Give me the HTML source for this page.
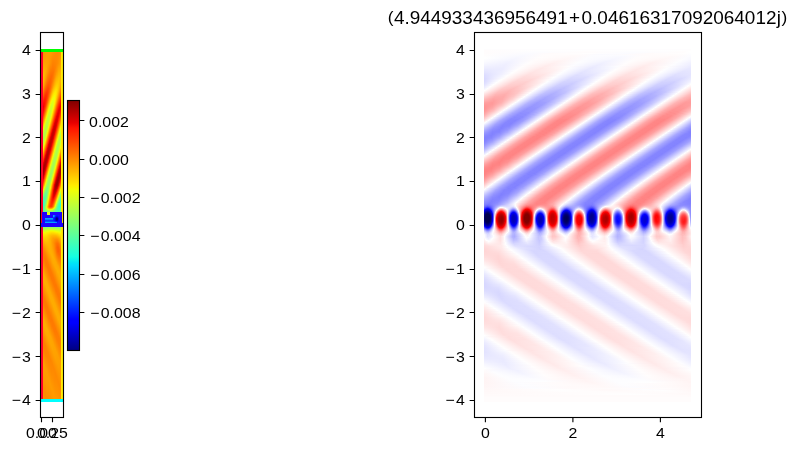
<!DOCTYPE html>
<html><head><meta charset="utf-8"><style>
html,body{margin:0;padding:0;background:#fff;}
#f{position:relative;width:797px;height:451px;overflow:hidden;background:#fff;}
#R i{position:absolute;display:block;left:484px;width:207px;height:1px;}
#L i{position:absolute;display:block;top:49px;width:1px;height:353px;}
svg{position:absolute;left:0;top:0;display:block;will-change:transform;-webkit-font-smoothing:antialiased;}
</style></head><body><div id="f">
<div id="R"><i style="top:49px;background:#fefdfe"></i><i style="top:50px;background:linear-gradient(90deg,#fffcfc 0.5px,#fefeff 57.5px,#fffefe 106.5px,#fefeff 155.5px,#fffefe 204.5px,#fffefe 206.5px)"></i><i style="top:51px;background:linear-gradient(90deg,#fffcfc 0.5px,#fdfdff 53.5px,#fffdfd 102.5px,#fdfdff 151.5px,#fffdfd 200.5px,#fff 206.5px)"></i><i style="top:52px;background:linear-gradient(90deg,#fffcfc 0.5px,#fcfcff 49.5px,#fffcfc 98.5px,#fcfcff 147.5px,#fffcfc 196.5px,#fff 206.5px)"></i><i style="top:53px;background:linear-gradient(90deg,#fffcfc 0.5px,#fbfbff 46.5px,#fffbfb 66.5px,#fffefe 103.5px,#fbfbff 143.5px,#fffbfb 164.5px,#fffefe 201.5px,#fefeff 206.5px)"></i><i style="top:54px;background:linear-gradient(90deg,#fffdfd 0.5px,#fafaff 42.5px,#fffcfc 62.5px,#fffcfc 96.5px,#fafaff 117.5px,#fffbfb 161.5px,#fffcfc 195.5px,#fdfdff 206.5px)"></i><i style="top:55px;background:linear-gradient(90deg,#fffdfd 0.5px,#f9f9ff 39.5px,#fffcfc 59.5px,#fffafa 92.5px,#fcfcff 109.5px,#fbfbff 142.5px,#fffbfb 159.5px,#fffbfb 192.5px,#fcfcff 206.5px)"></i><i style="top:56px;background:linear-gradient(90deg,#fffefe 0.5px,#f8f8ff 36.5px,#fffcfc 57.5px,#fff9f9 89.5px,#fcfcff 107.5px,#f9f9ff 138.5px,#fffcfc 156.5px,#fff9f9 187.5px,#fcfcff 204.5px,#fbfbff 206.5px)"></i><i style="top:57px;background:linear-gradient(90deg,#fff 0.5px,#f7f7ff 33.5px,#fffdfd 54.5px,#fff8f8 85.5px,#fcfcff 104.5px,#f8f8ff 135.5px,#fffcfc 153.5px,#fff8f8 184.5px,#fcfcff 202.5px,#fafaff 206.5px)"></i><i style="top:58px;background:linear-gradient(90deg,#fff 0.5px,#f6f6ff 31.5px,#fffcfc 53.5px,#fff7f7 83.5px,#fcfcff 102.5px,#f7f7ff 132.5px,#fffcfc 151.5px,#fff7f7 181.5px,#fcfcff 200.5px,#f9f9ff 206.5px)"></i><i style="top:59px;background:linear-gradient(90deg,#fdfdff 0.5px,#f5f5ff 29.5px,#fffcfc 51.5px,#fff6f6 80.5px,#fcfcff 100.5px,#f6f6ff 129.5px,#fffcfc 149.5px,#fff6f6 178.5px,#fdfdff 198.5px,#f8f8ff 206.5px)"></i><i style="top:60px;background:linear-gradient(90deg,#fcfcff 0.5px,#f4f4ff 27.5px,#fffcfc 49.5px,#fff4f4 76.5px,#fcfcff 98.5px,#f4f4ff 125.5px,#fffdfd 147.5px,#fff4f4 174.5px,#fdfdff 196.5px,#f6f6ff 206.5px)"></i><i style="top:61px;background:linear-gradient(90deg,#fbfbff 0.5px,#f2f2ff 25.5px,#fffcfc 47.5px,#fff2f2 73.5px,#fdfdff 96.5px,#f2f2ff 122.5px,#fffdfd 145.5px,#fff2f2 171.5px,#fdfdff 194.5px,#f4f4ff 206.5px)"></i><i style="top:62px;background:linear-gradient(90deg,#f9f9ff 0.5px,#f1f1ff 24.5px,#fffdfd 45.5px,#fff1f1 70.5px,#fdfdff 94.5px,#f1f1ff 119.5px,#fffdfd 143.5px,#fff0f0 168.5px,#fdfdff 192.5px,#f2f2ff 206.5px)"></i><i style="top:63px;background:linear-gradient(90deg,#f7f7ff 0.5px,#f0f0ff 23.5px,#fffdfd 43.5px,#ffefef 68.5px,#fdfdff 92.5px,#efefff 117.5px,#fffdfd 141.5px,#ffefef 166.5px,#fcfcff 191.5px,#f0f0ff 206.5px)"></i><i style="top:64px;background:linear-gradient(90deg,#f5f5ff 0.5px,#efefff 21.5px,#fffdfd 41.5px,#fee 65.5px,#fcfcff 91.5px,#eef 115.5px,#fffcfc 140.5px,#fee 164.5px,#fdfdff 189.5px,#efefff 206.5px)"></i><i style="top:65px;background:linear-gradient(90deg,#f3f3ff 0.5px,#eef 20.5px,#fffcfc 40.5px,#ffecec 63.5px,#fdfdff 89.5px,#ececff 112.5px,#fffdfd 138.5px,#ffecec 161.5px,#fdfdff 187.5px,#ededff 206.5px)"></i><i style="top:66px;background:linear-gradient(90deg,#f0f0ff 0.5px,#eef 20.5px,#fffdfd 38.5px,#ffebeb 61.5px,#fffdfd 84.5px,#ebebff 110.5px,#fdfdff 133.5px,#ffebeb 159.5px,#fffdfd 182.5px,#ebebff 206.5px)"></i><i style="top:67px;background:linear-gradient(90deg,#eef 0.5px,#ededff 19.5px,#fffdfd 36.5px,#ffeaea 58.5px,#fff8f8 79.5px,#fcfcff 86.5px,#e9e9ff 108.5px,#f9f9ff 129.5px,#fffcfc 135.5px,#ffe9e9 157.5px,#fff9f9 178.5px,#fdfdff 184.5px,#e9e9ff 206.5px)"></i><i style="top:68px;background:linear-gradient(90deg,#ececff 0.5px,#ececff 18.5px,#fffdfd 35.5px,#ffe8e8 57.5px,#fff7f7 77.5px,#fdfdff 84.5px,#e8e8ff 106.5px,#f7f7ff 126.5px,#fffdfd 133.5px,#ffe8e8 155.5px,#fff7f7 175.5px,#fdfdff 182.5px,#e8e8ff 204.5px,#e8e8ff 206.5px)"></i><i style="top:69px;background:linear-gradient(90deg,#e9e9ff 0.5px,#ececff 18.5px,#fffdfd 33.5px,#ffe7e7 54.5px,#fff3f3 73.5px,#fdfdff 82.5px,#e7e7ff 103.5px,#f3f3ff 122.5px,#fffefe 131.5px,#ffe7e7 152.5px,#fff3f3 171.5px,#fefeff 180.5px,#e7e7ff 202.5px,#e7e7ff 206.5px)"></i><i style="top:70px;background:linear-gradient(90deg,#e7e7ff 0.5px,#ececff 17.5px,#fffefe 31.5px,#ffe6e6 52.5px,#fff0f0 70.5px,#fefeff 80.5px,#e6e6ff 101.5px,#f0f0ff 119.5px,#fffdfd 130.5px,#ffe6e6 151.5px,#fff1f1 169.5px,#fdfdff 179.5px,#e6e6ff 200.5px,#e6e6ff 206.5px)"></i><i style="top:71px;background:linear-gradient(90deg,#e5e5ff 0.5px,#ededff 17.5px,#fffdfd 30.5px,#ffe5e5 50.5px,#fee 67.5px,#fdfdff 79.5px,#e4e4ff 100.5px,#f0f0ff 118.5px,#fffdfd 128.5px,#ffe4e4 149.5px,#fff0f0 167.5px,#fefeff 177.5px,#e4e4ff 198.5px,#e5e5ff 206.5px)"></i><i style="top:72px;background:linear-gradient(90deg,#e3e3ff 0.5px,#eef 17.5px,#fffefe 28.5px,#ffe3e3 48.5px,#ffecec 65.5px,#fefeff 77.5px,#e3e3ff 97.5px,#ececff 114.5px,#fffefe 126.5px,#ffe3e3 146.5px,#ffecec 163.5px,#fdfdff 176.5px,#e3e3ff 196.5px,#e5e5ff 206.5px)"></i><i style="top:73px;background:linear-gradient(90deg,#e0e0ff 0.5px,#efefff 17.5px,#fffdfd 27.5px,#ffe2e2 46.5px,#ffe9e9 62.5px,#fdfdff 76.5px,#e1e1ff 96.5px,#eaeaff 112.5px,#fffdfd 125.5px,#ffe1e1 145.5px,#ffe9e9 161.5px,#fdfdff 174.5px,#e1e1ff 194.5px,#e4e4ff 206.5px)"></i><i style="top:74px;background:linear-gradient(90deg,#dedeff 0.5px,#f0f0ff 17.5px,#fffdfd 25.5px,#ffe0e0 44.5px,#ffe5e5 59.5px,#fefeff 74.5px,#e0e0ff 93.5px,#e5e5ff 108.5px,#fffefe 123.5px,#ffe0e0 142.5px,#ffe5e5 157.5px,#fefeff 172.5px,#e0e0ff 191.5px,#e4e4ff 206.5px)"></i><i style="top:75px;background:linear-gradient(90deg,#dcdcff 0.5px,#f3f3ff 17.5px,#fffefe 23.5px,#ffdede 42.5px,#ffe3e3 57.5px,#fcfcff 73.5px,#ddf 92.5px,#e4e4ff 107.5px,#fffdfd 122.5px,#ffdede 141.5px,#ffe4e4 156.5px,#fdfdff 171.5px,#dedeff 190.5px,#e3e3ff 205.5px,#e5e5ff 206.5px)"></i><i style="top:76px;background:linear-gradient(90deg,#dbdbff 0.5px,#f5f5ff 17.5px,#fffdfd 22.5px,#ffdcdc 40.5px,#ffdfdf 54.5px,#fdfdff 71.5px,#ddf 89.5px,#dfdfff 103.5px,#fffefe 120.5px,#fdd 138.5px,#ffdfdf 152.5px,#fefeff 169.5px,#dcdcff 188.5px,#e0e0ff 202.5px,#e6e6ff 206.5px)"></i><i style="top:77px;background:linear-gradient(90deg,#dadaff 0.5px,#f8f8ff 17.5px,#fffcfc 21.5px,#ffdada 39.5px,#ffdede 53.5px,#fff 69.5px,#dbdbff 87.5px,#dcdcff 101.5px,#fff 118.5px,#ffdbdb 136.5px,#ffdcdc 150.5px,#fdfdff 168.5px,#dadaff 186.5px,#ddf 200.5px,#e7e7ff 206.5px)"></i><i style="top:78px;background:linear-gradient(90deg,#d9d9ff 0.5px,#fffdfd 19.5px,#ffd8d8 37.5px,#ffdada 50.5px,#fdfdff 68.5px,#d9d9ff 86.5px,#dadaff 99.5px,#fffefe 117.5px,#ffd9d9 135.5px,#ffdada 148.5px,#fefeff 166.5px,#d9d9ff 184.5px,#d9d9ff 197.5px,#e9e9ff 206.5px)"></i><i style="top:79px;background:linear-gradient(90deg,#d9d9ff 0.5px,#fffefe 17.5px,#ffd8d8 34.5px,#ffd6d6 47.5px,#fffafa 64.5px,#fcfcff 67.5px,#d7d7ff 84.5px,#d7d7ff 97.5px,#fff 115.5px,#ffd7d7 133.5px,#ffd7d7 146.5px,#fff 164.5px,#d7d7ff 182.5px,#d7d7ff 195.5px,#ebebff 206.5px)"></i><i style="top:80px;background:linear-gradient(90deg,#d9d9ff 0.5px,#fff 15.5px,#ffd6d6 33.5px,#ffd5d5 46.5px,#fffbfb 63.5px,#f7f7ff 67.5px,#d5d5ff 83.5px,#d6d6ff 96.5px,#fffdfd 114.5px,#ffd6d6 131.5px,#ffd5d5 144.5px,#fffafa 161.5px,#fbfbff 164.5px,#d5d5ff 181.5px,#d6d6ff 194.5px,#efefff 206.5px)"></i><i style="top:81px;background:linear-gradient(90deg,#dadaff 0.5px,#fffefe 14.5px,#ffd4d4 31.5px,#ffd1d1 43.5px,#fff1f1 58.5px,#fefeff 63.5px,#d4d4ff 80.5px,#d1d1ff 92.5px,#f0f0ff 107.5px,#fff 112.5px,#ffd5d5 129.5px,#ffd1d1 141.5px,#fff0f0 156.5px,#fff 161.5px,#d5d5ff 178.5px,#d1d1ff 190.5px,#efefff 205.5px,#f2f2ff 206.5px)"></i><i style="top:82px;background:linear-gradient(90deg,#dcdcff 0.5px,#fff 12.5px,#ffd3d3 29.5px,#ffcfcf 41.5px,#ffecec 55.5px,#fdfdff 62.5px,#d3d3ff 78.5px,#cfcfff 90.5px,#ebebff 104.5px,#fffdfd 111.5px,#ffd2d2 128.5px,#ffd0d0 140.5px,#fff1f1 155.5px,#fefeff 160.5px,#d2d2ff 177.5px,#cfcfff 189.5px,#f0f0ff 204.5px,#f6f6ff 206.5px)"></i><i style="top:83px;background:linear-gradient(90deg,#dedeff 0.5px,#fffefe 11.5px,#ffd2d2 27.5px,#ffcdcd 39.5px,#ffe9e9 53.5px,#fefeff 60.5px,#d2d2ff 76.5px,#ccf 88.5px,#e9e9ff 102.5px,#fff 109.5px,#ffd1d1 126.5px,#ffcdcd 138.5px,#ffebeb 152.5px,#fff 158.5px,#d1d1ff 175.5px,#cdcdff 187.5px,#ebebff 201.5px,#fbfbff 206.5px)"></i><i style="top:84px;background:linear-gradient(90deg,#e1e1ff 0.5px,#fff 9.5px,#ffcfcf 26.5px,#ffcbcb 38.5px,#ffeaea 52.5px,#fffefe 58.5px,#cfcfff 75.5px,#cbcbff 87.5px,#e6e6ff 100.5px,#fffdfd 108.5px,#ffd0d0 124.5px,#ffcbcb 136.5px,#ffe6e6 149.5px,#fdfdff 157.5px,#d0d0ff 173.5px,#cacaff 185.5px,#e5e5ff 198.5px,#fffefe 206.5px)"></i><i style="top:85px;background:linear-gradient(90deg,#e5e5ff 0.5px,#fffdfd 8.5px,#ffcece 24.5px,#ffc8c8 35.5px,#ffe1e1 48.5px,#fefeff 57.5px,#ceceff 73.5px,#c7c7ff 84.5px,#e1e1ff 97.5px,#fff 106.5px,#ffcfcf 122.5px,#ffc7c7 133.5px,#fdd 145.5px,#fff 155.5px,#cfcfff 171.5px,#c7c7ff 182.5px,#ddf 194.5px,#fefeff 204.5px,#fff9f9 206.5px)"></i><i style="top:86px;background:linear-gradient(90deg,#e9e9ff 0.5px,#fff 6.5px,#ffcdcd 22.5px,#ffc4c4 33.5px,#ffdbdb 45.5px,#fffefe 55.5px,#cdcdff 71.5px,#c4c4ff 82.5px,#dbdbff 94.5px,#fefeff 104.5px,#ffcbcb 121.5px,#ffc5c5 132.5px,#fdd 144.5px,#fdfdff 154.5px,#ccf 170.5px,#c5c5ff 181.5px,#ddf 193.5px,#fffefe 203.5px,#fff3f3 206.5px)"></i><i style="top:87px;background:linear-gradient(90deg,#ededff 0.5px,#fffdfd 5.5px,#ffcbcb 20.5px,#ffc1c1 31.5px,#ffd8d8 43.5px,#fefeff 54.5px,#cbcbff 69.5px,#c1c1ff 80.5px,#d7d7ff 92.5px,#fffefe 103.5px,#fcc 118.5px,#ffc1c1 129.5px,#ffd7d7 141.5px,#fff 152.5px,#cacaff 168.5px,#c2c2ff 179.5px,#d9d9ff 191.5px,#fefeff 201.5px,#ffecec 206.5px)"></i><i style="top:88px;background:linear-gradient(90deg,#f2f2ff 0.5px,#fff 3.5px,#ffcaca 18.5px,#ffbebe 29.5px,#ffd1d1 40.5px,#fffefe 52.5px,#c8c8ff 68.5px,#bfbfff 79.5px,#d4d4ff 90.5px,#fefeff 101.5px,#ffc8c8 117.5px,#ffbebe 128.5px,#ffd3d3 139.5px,#fdfdff 151.5px,#c9c9ff 166.5px,#bebeff 177.5px,#d3d3ff 188.5px,#fffefe 200.5px,#ffe5e5 206.5px)"></i><i style="top:89px;background:linear-gradient(90deg,#f8f8ff 0.5px,#fffdfd 2.5px,#ffc6c6 17.5px,#fbb 27.5px,#ffcece 38.5px,#fefeff 51.5px,#c7c7ff 66.5px,#bbf 76.5px,#cdcdff 87.5px,#fffefe 100.5px,#ffc7c7 115.5px,#fbb 125.5px,#ffcdcd 136.5px,#fff 149.5px,#c7c7ff 164.5px,#bbf 175.5px,#cfcfff 186.5px,#fefeff 198.5px,#ffdede 206.5px)"></i><i style="top:90px;background:linear-gradient(90deg,#fff 0.5px,#ffc5c5 15.5px,#ffb8b8 25.5px,#ffc7c7 35.5px,#fffefe 49.5px,#c5c5ff 64.5px,#b8b8ff 74.5px,#c7c7ff 84.5px,#fefeff 98.5px,#ffc3c3 114.5px,#ffb8b8 124.5px,#fcc 135.5px,#fdfdff 148.5px,#c4c4ff 163.5px,#b8b8ff 173.5px,#ccf 184.5px,#fffdfd 197.5px,#ffd7d7 206.5px)"></i><i style="top:91px;background:linear-gradient(90deg,#fff8f8 0.5px,#ffc1c1 14.5px,#ffb5b5 24.5px,#ffc6c6 34.5px,#fdfdff 48.5px,#c4c4ff 62.5px,#b5b5ff 72.5px,#c3c3ff 82.5px,#fffefe 97.5px,#ffc2c2 112.5px,#ffb5b5 122.5px,#ffc5c5 132.5px,#fff 146.5px,#c3c3ff 161.5px,#b5b5ff 171.5px,#c5c5ff 181.5px,#fefeff 195.5px,#ffd0d0 206.5px)"></i><i style="top:92px;background:linear-gradient(90deg,#fff0f0 0.5px,#ffbdbd 13.5px,#ffb3b3 23.5px,#ffc6c6 33.5px,#fffefe 46.5px,#c1c1ff 61.5px,#b2b2ff 71.5px,#c2c2ff 81.5px,#fefeff 95.5px,#ffc1c1 110.5px,#ffb2b2 120.5px,#ffc2c2 130.5px,#fffdfd 144.5px,#bfbfff 160.5px,#b2b2ff 170.5px,#c4c4ff 180.5px,#fffdfd 194.5px,#ffc8c8 206.5px)"></i><i style="top:93px;background:linear-gradient(90deg,#ffe8e8 0.5px,#ffbaba 12.5px,#ffb0b0 22.5px,#ffc5c5 32.5px,#fdfdff 45.5px,#c0c0ff 59.5px,#afafff 69.5px,#bebeff 79.5px,#fffefe 94.5px,#ffc0c0 108.5px,#ffafaf 118.5px,#ffbebe 128.5px,#fffafa 142.5px,#fff 143.5px,#c1c1ff 157.5px,#afafff 167.5px,#bebeff 177.5px,#f9f9ff 191.5px,#fefeff 192.5px,#ffc1c1 206.5px)"></i><i style="top:94px;background:linear-gradient(90deg,#ffe0e0 0.5px,#ffb6b6 11.5px,#ffadad 20.5px,#ffc2c2 30.5px,#fffefe 43.5px,#bfbfff 57.5px,#adadff 67.5px,#b8b8ff 76.5px,#e9e9ff 88.5px,#fefeff 92.5px,#ffbcbc 107.5px,#ffadad 117.5px,#ffbdbd 127.5px,#fffdfd 141.5px,#bdbdff 156.5px,#adadff 166.5px,#bdbdff 176.5px,#fffdfd 191.5px,#ffbdbd 205.5px,#ffbaba 206.5px)"></i><i style="top:95px;background:linear-gradient(90deg,#ffd8d8 0.5px,#ffb1b1 11.5px,#ffacac 20.5px,#ffc6c6 30.5px,#fdfdff 42.5px,#bcbcff 56.5px,#ababff 65.5px,#b5b5ff 74.5px,#e6e6ff 86.5px,#fffefe 91.5px,#ffbcbc 105.5px,#ffabab 114.5px,#ffb4b4 123.5px,#ffe5e5 135.5px,#fff 140.5px,#bdbdff 154.5px,#ababff 163.5px,#b4b4ff 172.5px,#dfdfff 183.5px,#fff 189.5px,#ffbdbd 203.5px,#ffb4b4 206.5px)"></i><i style="top:96px;background:linear-gradient(90deg,#ffcfcf 0.5px,#ffadad 10.5px,#faa 19.5px,#ffc6c6 29.5px,#fffefe 40.5px,#bbf 54.5px,#a8a8ff 63.5px,#b1b1ff 72.5px,#ddf 83.5px,#fefeff 89.5px,#ffb9b9 104.5px,#ffa8a8 113.5px,#ffb4b4 122.5px,#ffe7e7 134.5px,#fffdfd 138.5px,#b9b9ff 153.5px,#a8a8ff 162.5px,#b3b3ff 171.5px,#e6e6ff 183.5px,#fffdfd 188.5px,#ffbaba 202.5px,#ffafaf 206.5px)"></i><i style="top:97px;background:linear-gradient(90deg,#ffc7c7 0.5px,#ffa9a9 10.5px,#faa 19.5px,#fcc 29.5px,#fdfdff 39.5px,#bbf 52.5px,#a6a6ff 61.5px,#aeaeff 70.5px,#dadaff 81.5px,#fffefe 88.5px,#ffbcbc 101.5px,#ffa7a7 110.5px,#ffaeae 119.5px,#ffd9d9 130.5px,#fefeff 137.5px,#b9b9ff 151.5px,#a6a6ff 160.5px,#b0b0ff 169.5px,#ddf 180.5px,#fff 186.5px,#ffb9b9 200.5px,#faa 206.5px)"></i><i style="top:98px;background:linear-gradient(90deg,#ffbfbf 0.5px,#ffa6a6 9.5px,#ffa9a9 18.5px,#ffcdcd 28.5px,#fff 37.5px,#b8b8ff 51.5px,#a4a4ff 60.5px,#adadff 69.5px,#dbdbff 80.5px,#fefeff 86.5px,#ffb8b8 100.5px,#ffa4a4 109.5px,#ffadad 118.5px,#ffdbdb 129.5px,#fffdfd 135.5px,#b5b5ff 150.5px,#a3a3ff 159.5px,#afafff 168.5px,#dfdfff 179.5px,#fcfcff 184.5px,#fff6f6 186.5px,#ffb6b6 199.5px,#ffa5a5 206.5px)"></i><i style="top:99px;background:linear-gradient(90deg,#ffb7b7 0.5px,#ffa2a2 9.5px,#faa 18.5px,#ffd3d3 28.5px,#fffcfc 35.5px,#f6f6ff 37.5px,#b4b4ff 50.5px,#a1a1ff 59.5px,#adadff 68.5px,#ddf 79.5px,#fffdfd 85.5px,#ffb8b8 98.5px,#ffa2a2 107.5px,#ffa9a9 116.5px,#ffd2d2 126.5px,#fefeff 134.5px,#b9b9ff 147.5px,#a2a2ff 156.5px,#a9a9ff 165.5px,#d1d1ff 175.5px,#fff 183.5px,#ffbaba 196.5px,#ffa2a2 205.5px,#ffa1a1 206.5px)"></i><i style="top:100px;background:linear-gradient(90deg,#ffb0b0 0.5px,#ff9f9f 9.5px,#ffadad 18.5px,#ffe0e0 29.5px,#fff 34.5px,#b8b8ff 47.5px,#a0a0ff 56.5px,#a7a7ff 65.5px,#cfcfff 75.5px,#fefeff 83.5px,#ffb5b5 97.5px,#ff9f9f 106.5px,#ffa9a9 115.5px,#ffd3d3 125.5px,#fffdfd 132.5px,#b5b5ff 146.5px,#9f9fff 155.5px,#a8a8ff 164.5px,#d2d2ff 174.5px,#fcfcff 181.5px,#fff6f6 183.5px,#ffb6b6 195.5px,#ffa0a0 204.5px,#ff9f9f 206.5px)"></i><i style="top:101px;background:linear-gradient(90deg,#ffa9a9 0.5px,#ff9d9d 9.5px,#ffb0b0 18.5px,#ffefef 30.5px,#fcfcff 33.5px,#b4b4ff 46.5px,#9d9dff 55.5px,#a6a6ff 64.5px,#d0d0ff 74.5px,#fffdfd 82.5px,#ffb5b5 95.5px,#ff9d9d 104.5px,#ffa5a5 113.5px,#ffd0d0 123.5px,#fefeff 131.5px,#b5b5ff 144.5px,#9d9dff 153.5px,#a5a5ff 162.5px,#cfcfff 172.5px,#fff 180.5px,#ffb6b6 193.5px,#ff9e9e 202.5px,#ff9d9d 206.5px)"></i><i style="top:102px;background:linear-gradient(90deg,#ffa2a2 0.5px,#ff9a9a 8.5px,#ffb0b0 17.5px,#fff2f2 29.5px,#fff 31.5px,#b4b4ff 44.5px,#9b9bff 53.5px,#a0a0ff 61.5px,#c2c2ff 70.5px,#fefeff 80.5px,#ffb1b1 94.5px,#ff9b9b 103.5px,#ffa2a2 111.5px,#fcc 121.5px,#fffdfd 129.5px,#b2b2ff 143.5px,#9b9bff 152.5px,#a2a2ff 160.5px,#cbcbff 170.5px,#fcfcff 178.5px,#fff5f5 180.5px,#ffb2b2 192.5px,#ff9b9b 201.5px,#ff9c9c 206.5px)"></i><i style="top:103px;background:linear-gradient(90deg,#ff9d9d 0.5px,#ff9a9a 8.5px,#ffb5b5 17.5px,#fffcfc 29.5px,#f5f5ff 31.5px,#b1b1ff 43.5px,#99f 52.5px,#a0a0ff 60.5px,#c9c9ff 70.5px,#fffdfd 79.5px,#ffb2b2 92.5px,#f99 101.5px,#ff9f9f 109.5px,#ffc3c3 118.5px,#fefeff 128.5px,#b2b2ff 141.5px,#99f 150.5px,#9f9fff 158.5px,#c2c2ff 167.5px,#fff 177.5px,#ffb3b3 190.5px,#ff9a9a 199.5px,#ff9c9c 206.5px)"></i><i style="top:104px;background:linear-gradient(90deg,#f99 0.5px,#ff9b9b 8.5px,#ffbcbc 17.5px,#fff 28.5px,#b2b2ff 41.5px,#9898ff 50.5px,#9d9dff 58.5px,#c0c0ff 67.5px,#fefeff 77.5px,#ffb3b3 90.5px,#f99 99.5px,#ff9d9d 107.5px,#ffbfbf 116.5px,#fffdfd 126.5px,#afafff 140.5px,#9898ff 149.5px,#9f9fff 157.5px,#c9c9ff 167.5px,#fcfcff 175.5px,#fff5f5 177.5px,#ffb0b0 189.5px,#ff9898 198.5px,#ff9e9e 206.5px)"></i><i style="top:105px;background:linear-gradient(90deg,#ff9696 0.5px,#ff9e9e 8.5px,#ffc3c3 17.5px,#fffcfc 26.5px,#f5f5ff 28.5px,#afafff 40.5px,#9797ff 49.5px,#9d9dff 57.5px,#c2c2ff 66.5px,#fbfbff 75.5px,#fffdfd 76.5px,#ffb0b0 89.5px,#ff9797 98.5px,#ff9d9d 106.5px,#ffc1c1 115.5px,#fefeff 125.5px,#b0b0ff 138.5px,#9797ff 147.5px,#9c9cff 155.5px,#c0c0ff 164.5px,#fff 174.5px,#ffb1b1 187.5px,#ff9797 196.5px,#ff9c9c 204.5px,#ffa1a1 206.5px)"></i><i style="top:106px;background:linear-gradient(90deg,#ff9494 0.5px,#ffa1a1 8.5px,#ffd1d1 18.5px,#fff 25.5px,#b0b0ff 38.5px,#9696ff 47.5px,#9b9bff 55.5px,#bfbfff 64.5px,#fefeff 74.5px,#ffb1b1 87.5px,#ff9696 96.5px,#ff9a9a 104.5px,#ffbebe 113.5px,#fffdfd 123.5px,#adadff 137.5px,#9595ff 146.5px,#9c9cff 154.5px,#c2c2ff 163.5px,#fcfcff 172.5px,#fee 175.5px,#ffaeae 186.5px,#ff9595 195.5px,#ff9c9c 203.5px,#ffa5a5 206.5px)"></i><i style="top:107px;background:linear-gradient(90deg,#ff9393 0.5px,#ffa5a5 8.5px,#ffe1e1 19.5px,#fffcfc 23.5px,#f4f4ff 25.5px,#adadff 37.5px,#9595ff 45.5px,#9898ff 53.5px,#bbf 62.5px,#fbfbff 72.5px,#fffcfc 73.5px,#ffadad 86.5px,#ff9595 94.5px,#ff9898 102.5px,#ffbaba 111.5px,#fdfdff 122.5px,#aeaeff 135.5px,#9494ff 144.5px,#9a9aff 152.5px,#bfbfff 161.5px,#fffefe 171.5px,#ffafaf 184.5px,#ff9494 193.5px,#ff9a9a 201.5px,#faa 206.5px)"></i><i style="top:108px;background:linear-gradient(90deg,#ff9393 0.5px,#faa 8.5px,#fff1f1 20.5px,#fff 22.5px,#aeaeff 35.5px,#9494ff 43.5px,#9696ff 51.5px,#b8b8ff 60.5px,#fefeff 71.5px,#ffafaf 84.5px,#ff9393 93.5px,#ff9898 101.5px,#ffbcbc 110.5px,#fffdfd 120.5px,#ababff 134.5px,#9393ff 142.5px,#9898ff 150.5px,#bcbcff 159.5px,#fcfcff 169.5px,#ffeded 172.5px,#ffacac 183.5px,#ff9494 191.5px,#ff9797 199.5px,#ffb0b0 206.5px)"></i><i style="top:109px;background:linear-gradient(90deg,#ff9494 0.5px,#ffb5b5 9.5px,#fffcfc 20.5px,#f4f4ff 22.5px,#ababff 34.5px,#9292ff 42.5px,#9696ff 50.5px,#babaff 59.5px,#fbfbff 69.5px,#fffcfc 70.5px,#ffb0b0 82.5px,#ff9393 91.5px,#ff9696 99.5px,#ffb9b9 108.5px,#fdfdff 119.5px,#b1b1ff 131.5px,#9393ff 140.5px,#9595ff 148.5px,#b8b8ff 157.5px,#fffefe 168.5px,#ffadad 181.5px,#ff9393 189.5px,#ff9595 197.5px,#ffb7b7 206.5px)"></i><i style="top:110px;background:linear-gradient(90deg,#ff9696 0.5px,#ffbdbd 9.5px,#fefeff 19.5px,#acacff 32.5px,#9292ff 40.5px,#9494ff 48.5px,#b6b6ff 57.5px,#fefeff 68.5px,#ffadad 81.5px,#ff9292 89.5px,#ff9393 97.5px,#ffb5b5 106.5px,#fffdfd 117.5px,#adadff 130.5px,#9292ff 138.5px,#9393ff 146.5px,#b5b5ff 155.5px,#fcfcff 166.5px,#ffecec 169.5px,#ffa9a9 180.5px,#ff9191 188.5px,#ff9595 196.5px,#ffb9b9 205.5px,#ffbfbf 206.5px)"></i><i style="top:111px;background:linear-gradient(90deg,#f99 0.5px,#ffc5c5 9.5px,#fffcfc 17.5px,#ececff 20.5px,#a9a9ff 31.5px,#9090ff 39.5px,#9494ff 47.5px,#b8b8ff 56.5px,#fbfbff 66.5px,#fffcfc 67.5px,#ffaeae 79.5px,#ff9292 87.5px,#ff9191 95.5px,#ffb2b2 104.5px,#fdfdff 116.5px,#afafff 128.5px,#9292ff 136.5px,#9191ff 144.5px,#acacff 152.5px,#fffefe 165.5px,#ffb0b0 177.5px,#ff9292 185.5px,#ff9191 193.5px,#ffabab 201.5px,#ffc7c7 206.5px)"></i><i style="top:112px;background:linear-gradient(90deg,#ff9e9e 0.5px,#ffd5d5 10.5px,#fefeff 16.5px,#afafff 28.5px,#9191ff 36.5px,#8f8fff 44.5px,#aaf 52.5px,#f7f7ff 64.5px,#fff 65.5px,#ffabab 78.5px,#ff9090 86.5px,#ff9191 94.5px,#ffb4b4 103.5px,#fffdfd 114.5px,#ababff 127.5px,#9090ff 135.5px,#9191ff 143.5px,#b3b3ff 152.5px,#fcfcff 163.5px,#ffe5e5 167.5px,#ffa3a3 178.5px,#ff8d8d 186.5px,#ff9595 194.5px,#ffbebe 203.5px,#ffd1d1 206.5px)"></i><i style="top:113px;background:linear-gradient(90deg,#ffa3a3 0.5px,#ffe6e6 11.5px,#fffcfc 14.5px,#ececff 17.5px,#a6a6ff 28.5px,#8d8dff 36.5px,#9191ff 44.5px,#b7b7ff 53.5px,#fbfbff 63.5px,#fff4f4 65.5px,#ffa7a7 77.5px,#ff8d8d 85.5px,#ff9191 93.5px,#ffb6b6 102.5px,#fdfdff 113.5px,#adadff 125.5px,#8f8fff 133.5px,#8e8eff 141.5px,#aaf 149.5px,#fffefe 162.5px,#ffaeae 174.5px,#ff9090 182.5px,#ff8e8e 190.5px,#ffa9a9 198.5px,#ffdbdb 206.5px)"></i><i style="top:114px;background:linear-gradient(90deg,#ffa9a9 0.5px,#fefeff 13.5px,#adadff 25.5px,#8f8fff 33.5px,#8d8dff 41.5px,#a8a8ff 49.5px,#f7f7ff 61.5px,#fff 62.5px,#ffa9a9 75.5px,#ff8d8d 83.5px,#ff8e8e 91.5px,#ffadad 99.5px,#fffefe 111.5px,#a9a9ff 124.5px,#8d8dff 132.5px,#8e8eff 140.5px,#acacff 148.5px,#fcfcff 160.5px,#fdd 165.5px,#ffa1a1 175.5px,#ff8b8b 183.5px,#ff9393 191.5px,#ffbcbc 200.5px,#ffe5e5 206.5px)"></i><i style="top:115px;background:linear-gradient(90deg,#ffb0b0 0.5px,#fffcfc 11.5px,#e4e4ff 15.5px,#a4a4ff 25.5px,#8b8bff 33.5px,#8f8fff 41.5px,#b5b5ff 50.5px,#fbfbff 60.5px,#fff4f4 62.5px,#faa 73.5px,#ff8d8d 81.5px,#ff8c8c 89.5px,#ffa9a9 97.5px,#fdfdff 110.5px,#ababff 122.5px,#8d8dff 130.5px,#8c8cff 138.5px,#a8a8ff 146.5px,#fffefe 159.5px,#ffacac 171.5px,#ff8d8d 179.5px,#ff8c8c 187.5px,#ffa8a8 195.5px,#fff0f0 206.5px)"></i><i style="top:116px;background:linear-gradient(90deg,#ffb8b8 0.5px,#fefeff 10.5px,#ababff 22.5px,#8c8cff 30.5px,#8a8aff 38.5px,#a7a7ff 46.5px,#f7f7ff 58.5px,#fff 59.5px,#ffacac 71.5px,#ff8c8c 79.5px,#ff8a8a 87.5px,#ffa6a6 95.5px,#fff6f6 107.5px,#fffefe 108.5px,#a7a7ff 121.5px,#8b8bff 129.5px,#8c8cff 137.5px,#aaf 145.5px,#fdfdff 157.5px,#ffa8a8 170.5px,#ff8b8b 178.5px,#ff8b8b 186.5px,#ffa9a9 194.5px,#fffbfb 206.5px)"></i><i style="top:117px;background:linear-gradient(90deg,#ffc2c2 0.5px,#fffcfc 8.5px,#e3e3ff 12.5px,#a2a2ff 22.5px,#88f 30.5px,#8c8cff 38.5px,#aeaeff 46.5px,#fbfbff 57.5px,#fff3f3 59.5px,#ffa8a8 70.5px,#ff8a8a 78.5px,#ff8a8a 86.5px,#ffa7a7 94.5px,#fffafa 106.5px,#fcfcff 107.5px,#a9a9ff 119.5px,#8a8aff 127.5px,#8989ff 135.5px,#a7a7ff 143.5px,#fffdfd 156.5px,#faa 168.5px,#ff8b8b 176.5px,#ff8989 184.5px,#ffa6a6 192.5px,#fff8f8 204.5px,#fff 205.5px,#f7f7ff 206.5px)"></i><i style="top:118px;background:linear-gradient(90deg,#ffcbcb 0.5px,#fefeff 7.5px,#a9a9ff 19.5px,#8989ff 27.5px,#88f 35.5px,#a5a5ff 43.5px,#f7f7ff 55.5px,#fff 56.5px,#faa 68.5px,#ff8a8a 76.5px,#f88 84.5px,#ffa4a4 92.5px,#fff6f6 104.5px,#fffefe 105.5px,#a5a5ff 118.5px,#88f 126.5px,#8989ff 134.5px,#a8a8ff 142.5px,#fdfdff 154.5px,#ffa6a6 167.5px,#f88 175.5px,#ff8989 183.5px,#ffa8a8 191.5px,#fffbfb 203.5px,#f3f3ff 205.5px,#ebebff 206.5px)"></i><i style="top:119px;background:linear-gradient(90deg,#ffd6d6 0.5px,#fffdfd 5.5px,#a5a5ff 18.5px,#8787ff 26.5px,#8686ff 33.5px,#a1a1ff 41.5px,#ececff 52.5px,#fbfbff 54.5px,#fff3f3 56.5px,#ffa6a6 67.5px,#ff8787 75.5px,#ff8585 82.5px,#ffa0a0 90.5px,#ffeaea 101.5px,#fcfcff 104.5px,#a7a7ff 116.5px,#88f 124.5px,#8585ff 131.5px,#a0a0ff 139.5px,#e9e9ff 150.5px,#fffdfd 153.5px,#ffa8a8 165.5px,#f88 173.5px,#ff8585 180.5px,#ff9f9f 188.5px,#ffe8e8 199.5px,#fff 202.5px,#dfdfff 206.5px)"></i><i style="top:120px;background:linear-gradient(90deg,#ffe1e1 0.5px,#fdfdff 4.5px,#a7a7ff 16.5px,#8787ff 24.5px,#8484ff 31.5px,#9e9eff 39.5px,#e8e8ff 50.5px,#fff 53.5px,#ffa8a8 65.5px,#ff8787 73.5px,#ff8484 80.5px,#ff9d9d 88.5px,#ffdfdf 98.5px,#fffefe 102.5px,#a3a3ff 115.5px,#8686ff 123.5px,#8585ff 130.5px,#a1a1ff 138.5px,#ededff 149.5px,#fdfdff 151.5px,#ffa4a4 164.5px,#ff8686 172.5px,#ff8585 179.5px,#ffa0a0 187.5px,#ffecec 198.5px,#fffcfc 200.5px,#f2f2ff 202.5px,#d3d3ff 206.5px)"></i><i style="top:121px;background:linear-gradient(90deg,#ffeded 0.5px,#fffdfd 2.5px,#a4a4ff 15.5px,#8686ff 23.5px,#8585ff 30.5px,#a0a0ff 38.5px,#ececff 49.5px,#fbfbff 51.5px,#fff3f3 53.5px,#ffa5a5 64.5px,#ff8686 72.5px,#ff8484 79.5px,#ffa0a0 87.5px,#ffeaea 98.5px,#fffafa 100.5px,#fcfcff 101.5px,#a6a6ff 113.5px,#8686ff 121.5px,#8484ff 128.5px,#9f9fff 136.5px,#e9e9ff 147.5px,#fffdfd 150.5px,#ffa7a7 162.5px,#ff8787 170.5px,#ff8484 177.5px,#ff9e9e 185.5px,#ffe8e8 196.5px,#fefeff 199.5px,#c8c8ff 206.5px)"></i><i style="top:122px;background:linear-gradient(90deg,#fff9f9 0.5px,#fdfdff 1.5px,#a7a7ff 13.5px,#8787ff 21.5px,#8484ff 28.5px,#9e9eff 36.5px,#e8e8ff 47.5px,#fffefe 50.5px,#ffa8a8 62.5px,#ff8787 70.5px,#ff8484 77.5px,#ff9d9d 85.5px,#ffdfdf 95.5px,#fffefe 99.5px,#a9a9ff 111.5px,#88f 119.5px,#8383ff 126.5px,#9c9cff 134.5px,#ddf 144.5px,#fdfdff 148.5px,#ffa4a4 161.5px,#ff8686 169.5px,#ff8585 176.5px,#ffa1a1 184.5px,#ffecec 195.5px,#fffcfc 197.5px,#f2f2ff 199.5px,#bebeff 206.5px)"></i><i style="top:123px;background:linear-gradient(90deg,#f9f9ff 0.5px,#a4a4ff 12.5px,#8686ff 20.5px,#8484ff 27.5px,#a0a0ff 35.5px,#ececff 46.5px,#fcfcff 48.5px,#fff2f2 50.5px,#ffa5a5 61.5px,#ff8686 69.5px,#ff8484 76.5px,#ffa0a0 84.5px,#ffeaea 95.5px,#fffafa 97.5px,#fcfcff 98.5px,#a6a6ff 110.5px,#8686ff 118.5px,#8484ff 125.5px,#9f9fff 133.5px,#e9e9ff 144.5px,#fffdfd 147.5px,#ffa7a7 159.5px,#ff8787 167.5px,#ff8484 174.5px,#ff9e9e 182.5px,#ffe8e8 193.5px,#fefeff 196.5px,#b4b4ff 206.5px)"></i><i style="top:124px;background:linear-gradient(90deg,#ededff 0.5px,#a1a1ff 11.5px,#8585ff 19.5px,#8585ff 26.5px,#a3a3ff 34.5px,#f8f8ff 46.5px,#fffefe 47.5px,#ffa8a8 59.5px,#ff8787 67.5px,#ff8484 74.5px,#ff9d9d 82.5px,#ffdfdf 92.5px,#fffefe 96.5px,#a9a9ff 108.5px,#8787ff 116.5px,#8383ff 123.5px,#9c9cff 131.5px,#dedeff 141.5px,#fdfdff 145.5px,#ffa4a4 158.5px,#ff8686 166.5px,#ff8585 173.5px,#ffa1a1 181.5px,#ffecec 192.5px,#fffcfc 194.5px,#f2f2ff 196.5px,#aaf 206.5px)"></i><i style="top:125px;background:linear-gradient(90deg,#e1e1ff 0.5px,#9f9fff 10.5px,#8484ff 18.5px,#8686ff 25.5px,#a6a6ff 33.5px,#fcfcff 45.5px,#fff2f2 47.5px,#ffa5a5 58.5px,#ff8686 66.5px,#ff8484 73.5px,#ffa0a0 81.5px,#ffebeb 92.5px,#fffbfb 94.5px,#fbfbff 95.5px,#a6a6ff 107.5px,#8686ff 115.5px,#8484ff 122.5px,#9f9fff 130.5px,#e9e9ff 141.5px,#fffdfd 144.5px,#ffa7a7 156.5px,#ff8787 164.5px,#ff8484 171.5px,#ff9e9e 179.5px,#ffe8e8 190.5px,#fefeff 193.5px,#a7a7ff 205.5px,#a2a2ff 206.5px)"></i><i style="top:126px;background:linear-gradient(90deg,#d6d6ff 0.5px,#9797ff 10.5px,#8282ff 18.5px,#8a8aff 25.5px,#afafff 33.5px,#fffefe 44.5px,#ffa8a8 56.5px,#ff8787 64.5px,#ff8484 71.5px,#ff9d9d 79.5px,#ffdfdf 89.5px,#fff 93.5px,#a8a8ff 105.5px,#8787ff 113.5px,#8383ff 120.5px,#9c9cff 128.5px,#dedeff 138.5px,#fdfdff 142.5px,#ffa4a4 155.5px,#ff8686 163.5px,#ff8585 170.5px,#ffa1a1 178.5px,#ffecec 189.5px,#fffcfc 191.5px,#eaeaff 194.5px,#9f9fff 205.5px,#9a9aff 206.5px)"></i><i style="top:127px;background:linear-gradient(90deg,#cacaff 0.5px,#9595ff 9.5px,#8282ff 17.5px,#8f8fff 25.5px,#bfbfff 34.5px,#fcfcff 42.5px,#fff2f2 44.5px,#ffa5a5 55.5px,#ff8686 63.5px,#ff8484 70.5px,#ffa0a0 78.5px,#ffebeb 89.5px,#fffbfb 91.5px,#fbfbff 92.5px,#a6a6ff 104.5px,#8686ff 112.5px,#8484ff 119.5px,#9f9fff 127.5px,#eaeaff 138.5px,#fffdfd 141.5px,#ffa6a6 153.5px,#ff8787 161.5px,#ff8484 168.5px,#ff9e9e 176.5px,#ffe8e8 187.5px,#fefeff 190.5px,#a7a7ff 202.5px,#9494ff 206.5px)"></i><i style="top:128px;background:linear-gradient(90deg,#c0c0ff 0.5px,#8f8fff 9.5px,#8282ff 17.5px,#9595ff 25.5px,#cacaff 34.5px,#fffefe 41.5px,#ffa7a7 53.5px,#ff8787 61.5px,#ff8383 68.5px,#ff9d9d 76.5px,#ffdfdf 86.5px,#fff 90.5px,#a8a8ff 102.5px,#8787ff 110.5px,#8383ff 117.5px,#9c9cff 125.5px,#dedeff 135.5px,#fdfdff 139.5px,#ffa4a4 152.5px,#ff8585 160.5px,#ff8484 167.5px,#ffa1a1 175.5px,#ffecec 186.5px,#fffcfc 188.5px,#eaeaff 191.5px,#9f9fff 202.5px,#8e8eff 206.5px)"></i><i style="top:129px;background:linear-gradient(90deg,#b6b6ff 0.5px,#8d8dff 8.5px,#8282ff 15.5px,#9393ff 23.5px,#c6c6ff 32.5px,#fcfcff 39.5px,#ffeaea 42.5px,#ff9f9f 53.5px,#ff8484 61.5px,#ff8686 68.5px,#ffa5a5 76.5px,#fffbfb 88.5px,#fbfbff 89.5px,#a5a5ff 101.5px,#8686ff 109.5px,#8484ff 116.5px,#9f9fff 124.5px,#eaeaff 135.5px,#fffcfc 138.5px,#ffa6a6 150.5px,#ff8686 158.5px,#ff8484 165.5px,#ff9e9e 173.5px,#ffe8e8 184.5px,#fefeff 187.5px,#a7a7ff 199.5px,#8989ff 206.5px)"></i><i style="top:130px;background:linear-gradient(90deg,#acacff 0.5px,#8989ff 8.5px,#8383ff 15.5px,#99f 23.5px,#d9d9ff 33.5px,#fffefe 38.5px,#ffa7a7 50.5px,#ff8787 58.5px,#ff8383 65.5px,#ff9d9d 73.5px,#ffe7e7 84.5px,#fff 87.5px,#a8a8ff 99.5px,#8787ff 107.5px,#8383ff 114.5px,#9c9cff 122.5px,#dedeff 132.5px,#fefeff 136.5px,#ffa3a3 149.5px,#ff8585 157.5px,#ff8484 164.5px,#ffa1a1 172.5px,#ffecec 183.5px,#fffcfc 185.5px,#e2e2ff 189.5px,#9f9fff 199.5px,#8686ff 206.5px)"></i><i style="top:131px;background:linear-gradient(90deg,#a4a4ff 0.5px,#8585ff 8.5px,#8484ff 15.5px,#a1a1ff 23.5px,#ececff 34.5px,#fcfcff 36.5px,#ffeaea 39.5px,#ff9f9f 50.5px,#ff8484 58.5px,#ff8686 65.5px,#ffa5a5 73.5px,#fffbfb 85.5px,#fbfbff 86.5px,#a5a5ff 98.5px,#8686ff 106.5px,#8484ff 113.5px,#9f9fff 121.5px,#eaeaff 132.5px,#fffcfc 135.5px,#ffa6a6 147.5px,#ff8686 155.5px,#ff8484 162.5px,#ff9e9e 170.5px,#ffe9e9 181.5px,#fefeff 184.5px,#a7a7ff 196.5px,#8787ff 204.5px,#8383ff 206.5px)"></i><i style="top:132px;background:linear-gradient(90deg,#9c9cff 0.5px,#8383ff 8.5px,#8787ff 15.5px,#a9a9ff 23.5px,#fffefe 35.5px,#ffa7a7 47.5px,#ff8787 55.5px,#ff8383 62.5px,#ff9d9d 70.5px,#ffe7e7 81.5px,#fff 84.5px,#a8a8ff 96.5px,#8787ff 104.5px,#8383ff 111.5px,#9d9dff 119.5px,#dedeff 129.5px,#fefeff 133.5px,#ffa3a3 146.5px,#ff8585 154.5px,#ff8484 161.5px,#ffa1a1 169.5px,#ffeded 180.5px,#fffdfd 182.5px,#d2d2ff 188.5px,#9a9aff 197.5px,#8383ff 205.5px,#8282ff 206.5px)"></i><i style="top:133px;background:linear-gradient(90deg,#9595ff 0.5px,#8282ff 8.5px,#8f8fff 16.5px,#bfbfff 25.5px,#fcfcff 33.5px,#ffe2e2 37.5px,#ff9f9f 47.5px,#ff8484 55.5px,#ff8686 62.5px,#ffa5a5 70.5px,#fffbfb 82.5px,#f3f3ff 84.5px,#a5a5ff 95.5px,#8686ff 103.5px,#8484ff 110.5px,#9f9fff 118.5px,#eaeaff 129.5px,#fffcfc 132.5px,#ffa6a6 144.5px,#ff8686 152.5px,#ff8484 159.5px,#ff9e9e 167.5px,#ffe9e9 178.5px,#fdfdff 181.5px,#a7a7ff 193.5px,#8787ff 201.5px,#8282ff 206.5px)"></i><i style="top:134px;background:linear-gradient(90deg,#8f8fff 0.5px,#8282ff 8.5px,#9595ff 16.5px,#cacaff 25.5px,#fffefe 32.5px,#ffa7a7 44.5px,#ff8787 52.5px,#ff8383 59.5px,#ff9d9d 67.5px,#ffe7e7 78.5px,#fff 81.5px,#a8a8ff 93.5px,#8787ff 101.5px,#8383ff 108.5px,#9d9dff 116.5px,#dedeff 126.5px,#fefeff 130.5px,#ffa3a3 143.5px,#ff8585 151.5px,#ff8484 158.5px,#ffa1a1 166.5px,#ffeded 177.5px,#fffdfd 179.5px,#a4a4ff 192.5px,#8585ff 200.5px,#8383ff 206.5px)"></i><i style="top:135px;background:linear-gradient(90deg,#8a8aff 0.5px,#8282ff 7.5px,#9797ff 15.5px,#d5d5ff 25.5px,#fcfcff 30.5px,#ffdada 35.5px,#ff9a9a 45.5px,#ff8383 53.5px,#f88 60.5px,#ffabab 68.5px,#fffbfb 79.5px,#f3f3ff 81.5px,#a5a5ff 92.5px,#8686ff 100.5px,#8484ff 107.5px,#9f9fff 115.5px,#eaeaff 126.5px,#fffcfc 129.5px,#ffa6a6 141.5px,#ff8686 149.5px,#ff8484 156.5px,#ff9e9e 164.5px,#ffe9e9 175.5px,#fdfdff 178.5px,#a7a7ff 190.5px,#8686ff 198.5px,#8383ff 205.5px,#8585ff 206.5px)"></i><i style="top:136px;background:linear-gradient(90deg,#8686ff 0.5px,#8484ff 7.5px,#9e9eff 15.5px,#e9e9ff 26.5px,#fffdfd 29.5px,#ffa7a7 41.5px,#ff8686 49.5px,#ff8383 56.5px,#ff9d9d 64.5px,#ffe7e7 75.5px,#fff 78.5px,#a8a8ff 90.5px,#8787ff 98.5px,#8383ff 105.5px,#9d9dff 113.5px,#dedeff 123.5px,#fefeff 127.5px,#ffa3a3 140.5px,#ff8585 148.5px,#ff8484 155.5px,#ffa1a1 163.5px,#ffeded 174.5px,#fffdfd 176.5px,#a4a4ff 189.5px,#8585ff 197.5px,#8484ff 204.5px,#88f 206.5px)"></i><i style="top:137px;background:linear-gradient(90deg,#8383ff 0.5px,#8686ff 7.5px,#a6a6ff 15.5px,#fdfdff 27.5px,#ffa4a4 40.5px,#ff8585 48.5px,#ff8484 55.5px,#ffa0a0 63.5px,#ffebeb 74.5px,#fffbfb 76.5px,#f3f3ff 78.5px,#a5a5ff 89.5px,#8686ff 97.5px,#8484ff 104.5px,#9f9fff 112.5px,#eaeaff 123.5px,#fafaff 125.5px,#fffcfc 126.5px,#ffa6a6 138.5px,#ff8686 146.5px,#ff8484 153.5px,#ff9e9e 161.5px,#ffe9e9 172.5px,#fdfdff 175.5px,#a7a7ff 187.5px,#8686ff 195.5px,#8383ff 202.5px,#8d8dff 206.5px)"></i><i style="top:138px;background:linear-gradient(90deg,#8282ff 0.5px,#8a8aff 7.5px,#afafff 15.5px,#fffdfd 26.5px,#ffa7a7 38.5px,#ff8686 46.5px,#ff8383 53.5px,#ff9d9d 61.5px,#ffe7e7 72.5px,#fff 75.5px,#a8a8ff 87.5px,#8787ff 95.5px,#8383ff 102.5px,#9d9dff 110.5px,#dedeff 120.5px,#fefeff 124.5px,#ffa3a3 137.5px,#ff8585 145.5px,#ff8484 152.5px,#ffa1a1 160.5px,#ffeded 171.5px,#fffdfd 173.5px,#a4a4ff 186.5px,#8585ff 194.5px,#8484ff 201.5px,#9292ff 206.5px)"></i><i style="top:139px;background:linear-gradient(90deg,#8282ff 0.5px,#9393ff 8.5px,#c7c7ff 17.5px,#fdfdff 24.5px,#ffa4a4 37.5px,#ff8585 45.5px,#ff8484 52.5px,#ffa0a0 60.5px,#ffebeb 71.5px,#fffbfb 73.5px,#f3f3ff 75.5px,#a5a5ff 86.5px,#8686ff 94.5px,#8484ff 101.5px,#9f9fff 109.5px,#eaeaff 120.5px,#fafaff 122.5px,#fffcfc 123.5px,#ffa6a6 135.5px,#ff8686 143.5px,#ff8484 150.5px,#ff9e9e 158.5px,#ffe9e9 169.5px,#fdfdff 172.5px,#a7a7ff 184.5px,#8686ff 192.5px,#8383ff 199.5px,#99f 206.5px)"></i><i style="top:140px;background:linear-gradient(90deg,#8282ff 0.5px,#99f 8.5px,#d9d9ff 18.5px,#fffdfd 23.5px,#ffa7a7 35.5px,#ff8686 43.5px,#ff8383 50.5px,#ff9d9d 58.5px,#ffe8e8 69.5px,#fefeff 72.5px,#a8a8ff 84.5px,#8787ff 92.5px,#8383ff 99.5px,#9d9dff 107.5px,#dfdfff 117.5px,#fefeff 121.5px,#ffa8a8 133.5px,#ff8787 141.5px,#ff8383 148.5px,#ff9c9c 156.5px,#fdd 166.5px,#fffdfd 170.5px,#a4a4ff 183.5px,#8585ff 191.5px,#8484ff 198.5px,#a0a0ff 206.5px)"></i><i style="top:141px;background:linear-gradient(90deg,#8484ff 0.5px,#a1a1ff 8.5px,#ededff 19.5px,#fdfdff 21.5px,#ffa4a4 34.5px,#ff8585 42.5px,#ff8484 49.5px,#ffa0a0 57.5px,#ffecec 68.5px,#fffcfc 70.5px,#f2f2ff 72.5px,#a5a5ff 83.5px,#8686ff 91.5px,#8484ff 98.5px,#9f9fff 106.5px,#eaeaff 117.5px,#fafaff 119.5px,#fffcfc 120.5px,#ffa6a6 132.5px,#ff8686 140.5px,#ff8484 147.5px,#ff9e9e 155.5px,#ffe9e9 166.5px,#fdfdff 169.5px,#a6a6ff 181.5px,#8686ff 189.5px,#8383ff 196.5px,#9e9eff 204.5px,#a8a8ff 206.5px)"></i><i style="top:142px;background:linear-gradient(90deg,#8787ff 0.5px,#a9a9ff 8.5px,#fffdfd 20.5px,#ffa7a7 32.5px,#ff8686 40.5px,#ff8383 47.5px,#ff9d9d 55.5px,#ffe8e8 66.5px,#fefeff 69.5px,#a7a7ff 81.5px,#8787ff 89.5px,#8383ff 96.5px,#9d9dff 104.5px,#dfdfff 114.5px,#fefeff 118.5px,#ffa8a8 130.5px,#ff8787 138.5px,#ff8383 145.5px,#ff9c9c 153.5px,#fdd 163.5px,#fffdfd 167.5px,#a4a4ff 180.5px,#8585ff 188.5px,#8484ff 195.5px,#a0a0ff 203.5px,#b2b2ff 206.5px)"></i><i style="top:143px;background:linear-gradient(90deg,#8b8bff 0.5px,#b9b9ff 9.5px,#fdfdff 18.5px,#ffa4a4 31.5px,#ff8585 39.5px,#ff8484 46.5px,#ffa0a0 54.5px,#ffecec 65.5px,#fffcfc 67.5px,#f2f2ff 69.5px,#a5a5ff 80.5px,#8585ff 88.5px,#8484ff 95.5px,#9f9fff 103.5px,#eaeaff 114.5px,#fafaff 116.5px,#fffcfc 117.5px,#ffa5a5 129.5px,#ff8686 137.5px,#ff8383 144.5px,#ff9e9e 152.5px,#ffe9e9 163.5px,#fdfdff 166.5px,#a6a6ff 178.5px,#8686ff 186.5px,#8383ff 193.5px,#9e9eff 201.5px,#bbf 206.5px)"></i><i style="top:144px;background:linear-gradient(90deg,#9191ff 0.5px,#c3c3ff 9.5px,#fffdfd 17.5px,#ffa6a6 29.5px,#ff8686 37.5px,#ff8383 44.5px,#ff9d9d 52.5px,#ffe8e8 63.5px,#fefeff 66.5px,#a7a7ff 78.5px,#8787ff 86.5px,#8383ff 93.5px,#9d9dff 101.5px,#dfdfff 111.5px,#fefeff 115.5px,#ffa8a8 127.5px,#ff8787 135.5px,#ff8383 142.5px,#ff9c9c 150.5px,#fdd 160.5px,#fffdfd 164.5px,#a4a4ff 177.5px,#8585ff 185.5px,#8484ff 192.5px,#a0a0ff 200.5px,#c6c6ff 206.5px)"></i><i style="top:145px;background:linear-gradient(90deg,#9797ff 0.5px,#d6d6ff 10.5px,#fdfdff 15.5px,#ffa4a4 28.5px,#ff8585 36.5px,#ff8484 43.5px,#ffa0a0 51.5px,#ffecec 62.5px,#fffcfc 64.5px,#f2f2ff 66.5px,#a4a4ff 77.5px,#8585ff 85.5px,#8484ff 92.5px,#9f9fff 100.5px,#eaeaff 111.5px,#fafaff 113.5px,#fffcfc 114.5px,#ffa5a5 126.5px,#ff8686 134.5px,#ff8383 141.5px,#ff9e9e 149.5px,#ffe9e9 160.5px,#fdfdff 163.5px,#a6a6ff 175.5px,#8686ff 183.5px,#8383ff 190.5px,#9e9eff 198.5px,#d1d1ff 206.5px)"></i><i style="top:146px;background:linear-gradient(90deg,#9e9eff 0.5px,#e9e9ff 11.5px,#fffdfd 14.5px,#ffa6a6 26.5px,#ff8686 34.5px,#ff8383 41.5px,#ff9d9d 49.5px,#ffe8e8 60.5px,#fefeff 63.5px,#a7a7ff 75.5px,#8686ff 83.5px,#8383ff 90.5px,#9d9dff 98.5px,#dfdfff 108.5px,#fefeff 112.5px,#ffa8a8 124.5px,#ff8787 132.5px,#ff8383 139.5px,#ff9c9c 147.5px,#fdd 157.5px,#fffdfd 161.5px,#a3a3ff 174.5px,#8585ff 182.5px,#8484ff 189.5px,#a0a0ff 197.5px,#dcdcff 206.5px)"></i><i style="top:147px;background:linear-gradient(90deg,#a6a6ff 0.5px,#fdfdff 12.5px,#ffa4a4 25.5px,#ff8585 33.5px,#ff8484 40.5px,#ffa0a0 48.5px,#ffecec 59.5px,#fffcfc 61.5px,#f2f2ff 63.5px,#a4a4ff 74.5px,#8585ff 82.5px,#8484ff 89.5px,#9f9fff 97.5px,#eaeaff 108.5px,#fafaff 110.5px,#fffcfc 111.5px,#ffa5a5 123.5px,#ff8686 131.5px,#ff8383 138.5px,#ff9e9e 146.5px,#ffe9e9 157.5px,#fdfdff 160.5px,#a6a6ff 172.5px,#8686ff 180.5px,#8383ff 187.5px,#9e9eff 195.5px,#e8e8ff 206.5px)"></i><i style="top:148px;background:linear-gradient(90deg,#afafff 0.5px,#fffdfd 11.5px,#ffa6a6 23.5px,#ff8686 31.5px,#ff8383 38.5px,#ff9d9d 46.5px,#ffe8e8 57.5px,#fefeff 60.5px,#a7a7ff 72.5px,#8686ff 80.5px,#8383ff 87.5px,#9d9dff 95.5px,#dfdfff 105.5px,#fefeff 109.5px,#ffa8a8 121.5px,#ff8787 129.5px,#ff8383 136.5px,#ff9c9c 144.5px,#fdd 154.5px,#fffdfd 158.5px,#a3a3ff 171.5px,#8585ff 179.5px,#8484ff 186.5px,#a0a0ff 194.5px,#ececff 205.5px,#f4f4ff 206.5px)"></i><i style="top:149px;background:linear-gradient(90deg,#b9b9ff 0.5px,#fdfdff 9.5px,#ffa4a4 22.5px,#ff8585 30.5px,#ff8484 37.5px,#ffa0a0 45.5px,#ffecec 56.5px,#fffcfc 58.5px,#f2f2ff 60.5px,#a4a4ff 71.5px,#8585ff 79.5px,#8484ff 86.5px,#9f9fff 94.5px,#eaeaff 105.5px,#fafaff 107.5px,#fffcfc 108.5px,#ffa5a5 120.5px,#ff8686 128.5px,#ff8383 135.5px,#ff9e9e 143.5px,#ffe9e9 154.5px,#fdfdff 157.5px,#a6a6ff 169.5px,#8686ff 177.5px,#8383ff 184.5px,#9e9eff 192.5px,#e8e8ff 203.5px,#fffefe 206.5px)"></i><i style="top:150px;background:linear-gradient(90deg,#c3c3ff 0.5px,#fffdfd 8.5px,#ffa6a6 20.5px,#ff8686 28.5px,#ff8383 35.5px,#ff9d9d 43.5px,#ffe8e8 54.5px,#fefeff 57.5px,#a7a7ff 69.5px,#8686ff 77.5px,#8383ff 84.5px,#9d9dff 92.5px,#dfdfff 102.5px,#fefeff 106.5px,#ffa8a8 118.5px,#ff8787 126.5px,#ff8383 133.5px,#ff9c9c 141.5px,#fdd 151.5px,#fffdfd 155.5px,#a3a3ff 168.5px,#8585ff 176.5px,#8484ff 183.5px,#a0a0ff 191.5px,#ececff 202.5px,#fcfcff 204.5px,#fff2f2 206.5px)"></i><i style="top:151px;background:linear-gradient(90deg,#ceceff 0.5px,#fdfdff 6.5px,#ffa3a3 19.5px,#ff8585 27.5px,#ff8484 34.5px,#ffa0a0 42.5px,#ffecec 53.5px,#fffcfc 55.5px,#f2f2ff 57.5px,#a4a4ff 68.5px,#8585ff 76.5px,#8484ff 83.5px,#9f9fff 91.5px,#eaeaff 102.5px,#fafaff 104.5px,#fffcfc 105.5px,#ffa5a5 117.5px,#ff8686 125.5px,#ff8383 132.5px,#ff9e9e 140.5px,#ffe9e9 151.5px,#fdfdff 154.5px,#a6a6ff 166.5px,#8686ff 174.5px,#8383ff 181.5px,#9d9dff 189.5px,#e8e8ff 200.5px,#fffefe 203.5px,#ffe6e6 206.5px)"></i><i style="top:152px;background:linear-gradient(90deg,#d9d9ff 0.5px,#fffdfd 5.5px,#ffa6a6 17.5px,#ff8686 25.5px,#ff8383 32.5px,#ff9d9d 40.5px,#ffe8e8 51.5px,#fefeff 54.5px,#a7a7ff 66.5px,#8686ff 74.5px,#8383ff 81.5px,#9c9cff 89.5px,#dfdfff 99.5px,#fefeff 103.5px,#ffa8a8 115.5px,#ff8787 123.5px,#ff8383 130.5px,#ff9c9c 138.5px,#fdd 148.5px,#fffdfd 152.5px,#a3a3ff 165.5px,#8585ff 173.5px,#8484ff 180.5px,#a0a0ff 188.5px,#ececff 199.5px,#fcfcff 201.5px,#fff2f2 203.5px,#ffdada 206.5px)"></i><i style="top:153px;background:linear-gradient(90deg,#e5e5ff 0.5px,#fdfdff 3.5px,#ffa3a3 16.5px,#ff8585 24.5px,#ff8484 31.5px,#ffa0a0 39.5px,#ffecec 50.5px,#fffcfc 52.5px,#f2f2ff 54.5px,#a4a4ff 65.5px,#8585ff 73.5px,#8383ff 80.5px,#9f9fff 88.5px,#eaeaff 99.5px,#fafaff 101.5px,#fffcfc 102.5px,#ffa5a5 114.5px,#ff8686 122.5px,#ff8383 129.5px,#ff9e9e 137.5px,#ffe9e9 148.5px,#fdfdff 151.5px,#a6a6ff 163.5px,#8686ff 171.5px,#8383ff 178.5px,#9d9dff 186.5px,#e8e8ff 197.5px,#fffefe 200.5px,#ffcfcf 206.5px)"></i><i style="top:154px;background:linear-gradient(90deg,#f1f1ff 0.5px,#fffdfd 2.5px,#ffa6a6 14.5px,#ff8686 22.5px,#ff8383 29.5px,#ff9d9d 37.5px,#ffe8e8 48.5px,#fefeff 51.5px,#a7a7ff 63.5px,#8686ff 71.5px,#8383ff 78.5px,#9c9cff 86.5px,#dfdfff 96.5px,#fefeff 100.5px,#ffa8a8 112.5px,#ff8787 120.5px,#ff8383 127.5px,#ff9c9c 135.5px,#fdd 145.5px,#fffdfd 149.5px,#a3a3ff 162.5px,#8585ff 170.5px,#8484ff 177.5px,#a0a0ff 185.5px,#ececff 196.5px,#fcfcff 198.5px,#fff2f2 200.5px,#ffc4c4 206.5px)"></i><i style="top:155px;background:linear-gradient(90deg,#fdfdff 0.5px,#ffa3a3 13.5px,#ff8585 21.5px,#ff8484 28.5px,#ffa0a0 36.5px,#ffecec 47.5px,#fffcfc 49.5px,#f2f2ff 51.5px,#a4a4ff 62.5px,#8585ff 70.5px,#8383ff 77.5px,#9f9fff 85.5px,#eaeaff 96.5px,#fafaff 98.5px,#fffcfc 99.5px,#ffa5a5 111.5px,#ff8585 119.5px,#ff8383 126.5px,#ff9e9e 134.5px,#ffe9e9 145.5px,#fdfdff 148.5px,#a6a6ff 160.5px,#8686ff 168.5px,#8383ff 175.5px,#9d9dff 183.5px,#e8e8ff 194.5px,#fffefe 197.5px,#ffbaba 206.5px)"></i><i style="top:156px;background:linear-gradient(90deg,#fff5f5 0.5px,#ffa6a6 11.5px,#ff8686 19.5px,#ff8383 26.5px,#ff9d9d 34.5px,#ffe8e8 45.5px,#fefeff 48.5px,#a7a7ff 60.5px,#8686ff 68.5px,#8383ff 75.5px,#9c9cff 83.5px,#dedeff 93.5px,#fefeff 97.5px,#ffa8a8 109.5px,#ff8787 117.5px,#ff8282 124.5px,#ff9c9c 132.5px,#fdd 142.5px,#fffdfd 146.5px,#a3a3ff 159.5px,#8585ff 167.5px,#8484ff 174.5px,#a0a0ff 182.5px,#ececff 193.5px,#fcfcff 195.5px,#fff2f2 197.5px,#ffb0b0 206.5px)"></i><i style="top:157px;background:linear-gradient(90deg,#ffe9e9 0.5px,#ff9e9e 11.5px,#ff8383 19.5px,#ff8585 26.5px,#ffa5a5 34.5px,#fffcfc 46.5px,#f2f2ff 48.5px,#a4a4ff 59.5px,#8585ff 67.5px,#8383ff 74.5px,#9f9fff 82.5px,#eaeaff 93.5px,#fafaff 95.5px,#fffcfc 96.5px,#ffa5a5 108.5px,#ff8585 116.5px,#ff8383 123.5px,#ff9e9e 131.5px,#ffe9e9 142.5px,#fdfdff 145.5px,#a6a6ff 157.5px,#8686ff 165.5px,#8383ff 172.5px,#9d9dff 180.5px,#e8e8ff 191.5px,#fffefe 194.5px,#ffa7a7 206.5px)"></i><i style="top:158px;background:linear-gradient(90deg,#fdd 0.5px,#ff9c9c 10.5px,#ff8282 18.5px,#ff8686 25.5px,#ffa8a8 33.5px,#fff 45.5px,#a7a7ff 57.5px,#8686ff 65.5px,#8383ff 72.5px,#9c9cff 80.5px,#dedeff 90.5px,#fefeff 94.5px,#ffa8a8 106.5px,#ff8787 114.5px,#ff8282 121.5px,#ff9b9b 129.5px,#fdd 139.5px,#fffdfd 143.5px,#a3a3ff 156.5px,#8585ff 164.5px,#8484ff 171.5px,#a0a0ff 179.5px,#ececff 190.5px,#fcfcff 192.5px,#fff2f2 194.5px,#ffa4a4 205.5px,#ff9f9f 206.5px)"></i><i style="top:159px;background:linear-gradient(90deg,#ffd2d2 0.5px,#f99 9.5px,#ff8282 17.5px,#f88 24.5px,#ffabab 32.5px,#fffbfb 43.5px,#f3f3ff 45.5px,#a4a4ff 56.5px,#8585ff 64.5px,#8383ff 71.5px,#9f9fff 79.5px,#eaeaff 90.5px,#fafaff 92.5px,#fffcfc 93.5px,#ffa5a5 105.5px,#ff8585 113.5px,#ff8383 120.5px,#ff9e9e 128.5px,#ffe9e9 139.5px,#fdfdff 142.5px,#a6a6ff 154.5px,#8686ff 162.5px,#8383ff 169.5px,#9d9dff 177.5px,#e8e8ff 188.5px,#fffefe 191.5px,#ffa7a7 203.5px,#ff9898 206.5px)"></i><i style="top:160px;background:linear-gradient(90deg,#ffc7c7 0.5px,#ff9393 9.5px,#ff8181 17.5px,#ff9090 25.5px,#ffc2c2 34.5px,#fff 42.5px,#a7a7ff 54.5px,#8686ff 62.5px,#8282ff 69.5px,#9c9cff 77.5px,#dedeff 87.5px,#fefeff 91.5px,#ffa3a3 104.5px,#ff8484 112.5px,#ff8484 119.5px,#ffa0a0 127.5px,#ffeded 138.5px,#fffdfd 140.5px,#a3a3ff 153.5px,#8585ff 161.5px,#8383ff 168.5px,#a0a0ff 176.5px,#ebebff 187.5px,#fbfbff 189.5px,#fff2f2 191.5px,#ffa4a4 202.5px,#ff9191 206.5px)"></i><i style="top:161px;background:linear-gradient(90deg,#ffbdbd 0.5px,#ff8d8d 9.5px,#ff8181 16.5px,#ff9191 24.5px,#ffc5c5 33.5px,#fffbfb 40.5px,#f3f3ff 42.5px,#a5a5ff 53.5px,#8585ff 61.5px,#8383ff 68.5px,#9f9fff 76.5px,#eaeaff 87.5px,#fffcfc 90.5px,#ffa5a5 102.5px,#ff8585 110.5px,#ff8383 117.5px,#ff9e9e 125.5px,#ffe9e9 136.5px,#fdfdff 139.5px,#a6a6ff 151.5px,#8686ff 159.5px,#8383ff 166.5px,#9d9dff 174.5px,#e7e7ff 185.5px,#fff 188.5px,#ffa7a7 200.5px,#ff8c8c 206.5px)"></i><i style="top:162px;background:linear-gradient(90deg,#ffb3b3 0.5px,#ff8b8b 8.5px,#ff8181 15.5px,#ff9393 23.5px,#ffc9c9 32.5px,#fff 39.5px,#a7a7ff 51.5px,#8686ff 59.5px,#8282ff 66.5px,#9c9cff 74.5px,#dedeff 84.5px,#fefeff 88.5px,#ffa3a3 101.5px,#ff8484 109.5px,#ff8484 116.5px,#ffa0a0 124.5px,#ffeded 135.5px,#fffdfd 137.5px,#a4a4ff 150.5px,#8585ff 158.5px,#8383ff 165.5px,#9f9fff 173.5px,#ebebff 184.5px,#fbfbff 186.5px,#fff3f3 188.5px,#ffa4a4 199.5px,#ff8787 206.5px)"></i><i style="top:163px;background:linear-gradient(90deg,#ffa9a9 0.5px,#ff8787 8.5px,#ff8282 15.5px,#ff9a9a 23.5px,#ffdbdb 33.5px,#fffbfb 37.5px,#fbfbff 38.5px,#a5a5ff 50.5px,#8585ff 58.5px,#8383ff 65.5px,#9e9eff 73.5px,#eaeaff 84.5px,#fffcfc 87.5px,#ffa6a6 99.5px,#ff8585 107.5px,#ff8383 114.5px,#ff9e9e 122.5px,#ffe8e8 133.5px,#fefeff 136.5px,#a6a6ff 148.5px,#8686ff 156.5px,#8383ff 163.5px,#9d9dff 171.5px,#dfdfff 181.5px,#fff 185.5px,#ffa7a7 197.5px,#ff8686 205.5px,#ff8484 206.5px)"></i><i style="top:164px;background:linear-gradient(90deg,#ffa1a1 0.5px,#ff8484 8.5px,#ff8484 15.5px,#ffa2a2 23.5px,#ffefef 34.5px,#fff 36.5px,#a8a8ff 48.5px,#8686ff 56.5px,#8282ff 63.5px,#9c9cff 71.5px,#dedeff 81.5px,#fefeff 85.5px,#ffa3a3 98.5px,#ff8484 106.5px,#ff8484 113.5px,#ffa0a0 121.5px,#ffecec 132.5px,#fffcfc 134.5px,#e2e2ff 138.5px,#9e9eff 148.5px,#8383ff 156.5px,#8585ff 163.5px,#a5a5ff 171.5px,#fbfbff 183.5px,#fff3f3 185.5px,#ffa5a5 196.5px,#ff8585 204.5px,#ff8282 206.5px)"></i><i style="top:165px;background:linear-gradient(90deg,#ff9a9a 0.5px,#ff8282 8.5px,#ff8787 15.5px,#faa 23.5px,#fffbfb 34.5px,#fbfbff 35.5px,#a5a5ff 47.5px,#8585ff 55.5px,#8383ff 62.5px,#9e9eff 70.5px,#e9e9ff 81.5px,#fffdfd 84.5px,#ffa6a6 96.5px,#ff8585 104.5px,#ff8383 111.5px,#ff9d9d 119.5px,#ffe8e8 130.5px,#fefeff 133.5px,#a7a7ff 145.5px,#8686ff 153.5px,#8282ff 160.5px,#9c9cff 168.5px,#dfdfff 178.5px,#fff 182.5px,#ffa7a7 194.5px,#ff8686 202.5px,#ff8181 206.5px)"></i><i style="top:166px;background:linear-gradient(90deg,#ff9393 0.5px,#ff8181 8.5px,#ff8f8f 16.5px,#ffc1c1 25.5px,#fff 33.5px,#a8a8ff 45.5px,#8686ff 53.5px,#8282ff 60.5px,#9b9bff 68.5px,#ddf 78.5px,#fdfdff 82.5px,#ffa3a3 95.5px,#ff8484 103.5px,#ff8383 110.5px,#ffa0a0 118.5px,#ffecec 129.5px,#fffcfc 131.5px,#eaeaff 134.5px,#9e9eff 145.5px,#8383ff 153.5px,#8585ff 160.5px,#a4a4ff 168.5px,#fbfbff 180.5px,#fffbfb 181.5px,#ffa5a5 193.5px,#ff8585 201.5px,#ff8181 206.5px)"></i><i style="top:167px;background:linear-gradient(90deg,#ff8d8d 0.5px,#ff8181 7.5px,#ff9191 15.5px,#ffc4c4 24.5px,#fffafa 31.5px,#fcfcff 32.5px,#a5a5ff 44.5px,#8585ff 52.5px,#8383ff 59.5px,#9e9eff 67.5px,#e9e9ff 78.5px,#fffdfd 81.5px,#ffa6a6 93.5px,#ff8686 101.5px,#ff8383 108.5px,#ff9d9d 116.5px,#ffe8e8 127.5px,#fefeff 130.5px,#a7a7ff 142.5px,#8686ff 150.5px,#8282ff 157.5px,#9c9cff 165.5px,#dfdfff 175.5px,#fff 179.5px,#ffa8a8 191.5px,#ff8686 199.5px,#ff8282 206.5px)"></i><i style="top:168px;background:linear-gradient(90deg,#ff8989 0.5px,#ff8181 7.5px,#ff9797 15.5px,#ffd7d7 25.5px,#fffefe 30.5px,#a8a8ff 42.5px,#8686ff 50.5px,#8282ff 57.5px,#9b9bff 65.5px,#ddf 75.5px,#fdfdff 79.5px,#ffa3a3 92.5px,#ff8585 100.5px,#ff8383 107.5px,#ff9f9f 115.5px,#ffecec 126.5px,#fffcfc 128.5px,#f2f2ff 130.5px,#a4a4ff 141.5px,#8585ff 149.5px,#8383ff 156.5px,#9f9fff 164.5px,#eaeaff 175.5px,#fafaff 177.5px,#fffcfc 178.5px,#ffa5a5 190.5px,#ff8585 198.5px,#ff8383 205.5px,#ff8585 206.5px)"></i><i style="top:169px;background:linear-gradient(90deg,#ff8585 0.5px,#ff8383 7.5px,#ff9e9e 15.5px,#ffeaea 26.5px,#fcfcff 29.5px,#a5a5ff 41.5px,#8585ff 49.5px,#8383ff 56.5px,#9e9eff 64.5px,#e9e9ff 75.5px,#fffdfd 78.5px,#ffa6a6 90.5px,#ff8686 98.5px,#ff8282 105.5px,#ff9d9d 113.5px,#ffdfdf 123.5px,#fff 127.5px,#a7a7ff 139.5px,#8686ff 147.5px,#8282ff 154.5px,#9c9cff 162.5px,#dedeff 172.5px,#fefeff 176.5px,#ffa8a8 188.5px,#ff8686 196.5px,#ff8282 203.5px,#f88 206.5px)"></i><i style="top:170px;background:linear-gradient(90deg,#ff8282 0.5px,#ff8686 7.5px,#ffa6a6 15.5px,#fffefe 27.5px,#a3a3ff 40.5px,#8484ff 48.5px,#8383ff 55.5px,#a0a0ff 63.5px,#ececff 74.5px,#fcfcff 76.5px,#ffe2e2 80.5px,#ff9e9e 90.5px,#ff8383 98.5px,#ff8585 105.5px,#ffa5a5 113.5px,#fffbfb 125.5px,#f3f3ff 127.5px,#a4a4ff 138.5px,#8585ff 146.5px,#8383ff 153.5px,#9e9eff 161.5px,#eaeaff 172.5px,#fffcfc 175.5px,#ffa5a5 187.5px,#ff8585 195.5px,#ff8383 202.5px,#ff8c8c 206.5px)"></i><i style="top:171px;background:linear-gradient(90deg,#ff8181 0.5px,#ff8989 7.5px,#ffafaf 15.5px,#fdfdff 26.5px,#a6a6ff 38.5px,#8585ff 46.5px,#8383ff 53.5px,#9d9dff 61.5px,#e8e8ff 72.5px,#fffefe 75.5px,#ffa6a6 87.5px,#ff8686 95.5px,#ff8282 102.5px,#ff9c9c 110.5px,#ffdfdf 120.5px,#fff 124.5px,#a7a7ff 136.5px,#8686ff 144.5px,#8282ff 151.5px,#9c9cff 159.5px,#dedeff 169.5px,#fefeff 173.5px,#ffa3a3 186.5px,#ff8484 194.5px,#ff8383 201.5px,#ff9292 206.5px)"></i><i style="top:172px;background:linear-gradient(90deg,#ff8181 0.5px,#ff9292 8.5px,#ffc7c7 17.5px,#fffdfd 24.5px,#a3a3ff 37.5px,#8484ff 45.5px,#8383ff 52.5px,#a0a0ff 60.5px,#ececff 71.5px,#fcfcff 73.5px,#fff2f2 75.5px,#ffa4a4 86.5px,#ff8585 94.5px,#ff8383 101.5px,#ff9f9f 109.5px,#ffebeb 120.5px,#fffbfb 122.5px,#fbfbff 123.5px,#a5a5ff 135.5px,#8585ff 143.5px,#8383ff 150.5px,#9e9eff 158.5px,#e9e9ff 169.5px,#fffdfd 172.5px,#ffa6a6 184.5px,#ff8585 192.5px,#ff8383 199.5px,#ff9898 206.5px)"></i><i style="top:173px;background:linear-gradient(90deg,#ff8181 0.5px,#f99 8.5px,#ffd9d9 18.5px,#fdfdff 23.5px,#a6a6ff 35.5px,#8585ff 43.5px,#8282ff 50.5px,#9d9dff 58.5px,#e0e0ff 68.5px,#fffefe 72.5px,#ffa7a7 84.5px,#ff8686 92.5px,#ff8282 99.5px,#ff9c9c 107.5px,#ffdede 117.5px,#fffefe 121.5px,#a8a8ff 133.5px,#8686ff 141.5px,#8282ff 148.5px,#9b9bff 156.5px,#ddf 166.5px,#fdfdff 170.5px,#ffa3a3 183.5px,#ff8484 191.5px,#ff8383 198.5px,#ffa0a0 206.5px)"></i><i style="top:174px;background:linear-gradient(90deg,#ff8383 0.5px,#ffa0a0 8.5px,#ffecec 19.5px,#fffdfd 21.5px,#d2d2ff 27.5px,#99f 36.5px,#8181ff 44.5px,#8787ff 51.5px,#aaf 59.5px,#fbfbff 70.5px,#fff3f3 72.5px,#ffa4a4 83.5px,#ff8585 91.5px,#ff8383 98.5px,#ff9e9e 106.5px,#ffeaea 117.5px,#fffafa 119.5px,#fcfcff 120.5px,#a5a5ff 132.5px,#8585ff 140.5px,#8383ff 147.5px,#9d9dff 155.5px,#e9e9ff 166.5px,#fffdfd 169.5px,#ffa6a6 181.5px,#ff8585 189.5px,#ff8282 196.5px,#ff9d9d 204.5px,#ffa8a8 206.5px)"></i><i style="top:175px;background:linear-gradient(90deg,#ff8686 0.5px,#ffa8a8 8.5px,#fefeff 20.5px,#a6a6ff 32.5px,#8686ff 40.5px,#8282ff 47.5px,#9c9cff 55.5px,#dfdfff 65.5px,#fff 69.5px,#ffa7a7 81.5px,#ff8686 89.5px,#ff8282 96.5px,#ff9c9c 104.5px,#ffdede 114.5px,#fffefe 118.5px,#a3a3ff 131.5px,#8484ff 139.5px,#8383ff 146.5px,#a0a0ff 154.5px,#ececff 165.5px,#fcfcff 167.5px,#ffe2e2 171.5px,#ff9e9e 181.5px,#ff8383 189.5px,#ff8585 196.5px,#ffa4a4 204.5px,#ffb0b0 206.5px)"></i><i style="top:176px;background:linear-gradient(90deg,#ff8a8a 0.5px,#ffb1b1 8.5px,#fffcfc 18.5px,#f2f2ff 20.5px,#a4a4ff 31.5px,#8585ff 39.5px,#8383ff 46.5px,#9f9fff 54.5px,#eaeaff 65.5px,#fbfbff 67.5px,#fffbfb 68.5px,#ffa5a5 80.5px,#ff8585 88.5px,#ff8383 95.5px,#ff9e9e 103.5px,#ffe9e9 114.5px,#fdfdff 117.5px,#a6a6ff 129.5px,#8585ff 137.5px,#8282ff 144.5px,#9d9dff 152.5px,#e8e8ff 163.5px,#fffefe 166.5px,#ffa6a6 178.5px,#ff8686 186.5px,#ff8282 193.5px,#ff9c9c 201.5px,#ffbaba 206.5px)"></i><i style="top:177px;background:linear-gradient(90deg,#ff8f8f 0.5px,#ffc1c1 9.5px,#fff 17.5px,#a7a7ff 29.5px,#8686ff 37.5px,#8282ff 44.5px,#9c9cff 52.5px,#dedeff 62.5px,#fefeff 66.5px,#ffa8a8 78.5px,#ff8686 86.5px,#ff8282 93.5px,#ff9b9b 101.5px,#fdd 111.5px,#fffdfd 115.5px,#a3a3ff 128.5px,#8484ff 136.5px,#8383ff 143.5px,#9f9fff 151.5px,#ececff 162.5px,#fcfcff 164.5px,#fff2f2 166.5px,#ffa4a4 177.5px,#ff8585 185.5px,#ff8383 192.5px,#ff9e9e 200.5px,#ffc4c4 206.5px)"></i><i style="top:178px;background:linear-gradient(90deg,#ff9595 0.5px,#ffd3d3 10.5px,#fffbfb 15.5px,#fbfbff 16.5px,#a4a4ff 28.5px,#8585ff 36.5px,#8383ff 43.5px,#9e9eff 51.5px,#eaeaff 62.5px,#fffcfc 65.5px,#ffa5a5 77.5px,#ff8585 85.5px,#ff8282 92.5px,#ff9d9d 100.5px,#ffe8e8 111.5px,#fefeff 114.5px,#a6a6ff 126.5px,#8585ff 134.5px,#8282ff 141.5px,#9c9cff 149.5px,#dfdfff 159.5px,#fff 163.5px,#ffa7a7 175.5px,#ff8686 183.5px,#ff8282 190.5px,#ff9c9c 198.5px,#ffcfcf 206.5px)"></i><i style="top:179px;background:linear-gradient(90deg,#ff9c9c 0.5px,#ffdfdf 10.5px,#fff 14.5px,#a8a8ff 26.5px,#8686ff 34.5px,#8282ff 41.5px,#9b9bff 49.5px,#ddf 59.5px,#fdfdff 63.5px,#ffa3a3 76.5px,#ff8484 84.5px,#ff8383 91.5px,#ff9f9f 99.5px,#ffecec 110.5px,#fffcfc 112.5px,#f2f2ff 114.5px,#a4a4ff 125.5px,#8484ff 133.5px,#8383ff 140.5px,#9f9fff 148.5px,#ebebff 159.5px,#fbfbff 161.5px,#fffbfb 162.5px,#ffa4a4 174.5px,#ff8585 182.5px,#ff8383 189.5px,#ff9e9e 197.5px,#ffdada 206.5px)"></i><i style="top:180px;background:linear-gradient(90deg,#ffa4a4 0.5px,#fffafa 12.5px,#fcfcff 13.5px,#a5a5ff 25.5px,#8585ff 33.5px,#8282ff 40.5px,#9d9dff 48.5px,#e9e9ff 59.5px,#fffdfd 62.5px,#ffa6a6 74.5px,#ff8585 82.5px,#ff8282 89.5px,#ff9d9d 97.5px,#ffdfdf 107.5px,#fefeff 111.5px,#a7a7ff 123.5px,#8686ff 131.5px,#8282ff 138.5px,#9c9cff 146.5px,#dedeff 156.5px,#fefeff 160.5px,#ffa8a8 172.5px,#ff8686 180.5px,#ff8282 187.5px,#ff9b9b 195.5px,#fdd 205.5px,#ffe5e5 206.5px)"></i><i style="top:181px;background:linear-gradient(90deg,#ffacac 0.5px,#fffdfd 11.5px,#a3a3ff 24.5px,#8484ff 32.5px,#8383ff 39.5px,#a0a0ff 47.5px,#ececff 58.5px,#fcfcff 60.5px,#ffeaea 63.5px,#ff9e9e 74.5px,#ff8383 82.5px,#ff8585 89.5px,#ffa4a4 97.5px,#fffbfb 109.5px,#fbfbff 110.5px,#a4a4ff 122.5px,#8585ff 130.5px,#8383ff 137.5px,#9e9eff 145.5px,#eaeaff 156.5px,#fffcfc 159.5px,#ffa5a5 171.5px,#ff8585 179.5px,#ff8282 186.5px,#ff9d9d 194.5px,#ffe8e8 205.5px,#fff0f0 206.5px)"></i><i style="top:182px;background:linear-gradient(90deg,#ffb5b5 0.5px,#fdfdff 10.5px,#a6a6ff 22.5px,#8585ff 30.5px,#8282ff 37.5px,#9d9dff 45.5px,#e0e0ff 55.5px,#fffefe 59.5px,#ffa7a7 71.5px,#ff8686 79.5px,#ff8282 86.5px,#ff9c9c 94.5px,#ffdede 104.5px,#fffefe 108.5px,#a8a8ff 120.5px,#8686ff 128.5px,#8282ff 135.5px,#9b9bff 143.5px,#ddf 153.5px,#fdfdff 157.5px,#ffa3a3 170.5px,#ff8484 178.5px,#ff8383 185.5px,#ff9f9f 193.5px,#ffecec 204.5px,#fffcfc 206.5px)"></i><i style="top:183px;background:linear-gradient(90deg,#ffbfbf 0.5px,#fffcfc 8.5px,#eaeaff 11.5px,#9e9eff 22.5px,#8282ff 30.5px,#8585ff 37.5px,#a4a4ff 45.5px,#fbfbff 57.5px,#fff3f3 59.5px,#ffa4a4 70.5px,#ff8585 78.5px,#ff8383 85.5px,#ff9e9e 93.5px,#ffeaea 104.5px,#fcfcff 107.5px,#a5a5ff 119.5px,#8585ff 127.5px,#8282ff 134.5px,#9d9dff 142.5px,#e8e8ff 153.5px,#fffdfd 156.5px,#ffa6a6 168.5px,#ff8585 176.5px,#ff8282 183.5px,#ff9c9c 191.5px,#ffdfdf 201.5px,#fff 205.5px,#f7f7ff 206.5px)"></i><i style="top:184px;background:linear-gradient(90deg,#ffc9c9 0.5px,#fefeff 7.5px,#a7a7ff 19.5px,#8585ff 27.5px,#8282ff 34.5px,#9c9cff 42.5px,#dedeff 52.5px,#fefeff 56.5px,#ffa8a8 68.5px,#ff8686 76.5px,#ff8282 83.5px,#ff9b9b 91.5px,#fdd 101.5px,#fffdfd 105.5px,#a3a3ff 118.5px,#8484ff 126.5px,#8383ff 133.5px,#9f9fff 141.5px,#ececff 152.5px,#fcfcff 154.5px,#fff2f2 156.5px,#ffa4a4 167.5px,#ff8484 175.5px,#ff8383 182.5px,#ff9e9e 190.5px,#ffeaea 201.5px,#fffbfb 203.5px,#fbfbff 204.5px,#ebebff 206.5px)"></i><i style="top:185px;background:linear-gradient(90deg,#ffd3d3 0.5px,#fffbfb 5.5px,#fbfbff 6.5px,#a4a4ff 18.5px,#8585ff 26.5px,#8282ff 33.5px,#9e9eff 41.5px,#eaeaff 52.5px,#fffcfc 55.5px,#ffa5a5 67.5px,#ff8585 75.5px,#ff8282 82.5px,#ff9d9d 90.5px,#ffe8e8 101.5px,#fefeff 104.5px,#a6a6ff 116.5px,#8585ff 124.5px,#8282ff 131.5px,#9c9cff 139.5px,#dfdfff 149.5px,#fff 153.5px,#ffa7a7 165.5px,#ff8686 173.5px,#ff8282 180.5px,#ff9b9b 188.5px,#ffdede 198.5px,#fffefe 202.5px,#e0e0ff 206.5px)"></i><i style="top:186px;background:linear-gradient(90deg,#ffdede 0.5px,#fffefe 4.5px,#a8a8ff 16.5px,#8686ff 24.5px,#8282ff 31.5px,#9b9bff 39.5px,#ddf 49.5px,#fdfdff 53.5px,#ffa3a3 66.5px,#ff8484 74.5px,#ff8383 81.5px,#ff9f9f 89.5px,#ffecec 100.5px,#fffcfc 102.5px,#f2f2ff 104.5px,#a4a4ff 115.5px,#8484ff 123.5px,#8383ff 130.5px,#9e9eff 138.5px,#eaeaff 149.5px,#fafaff 151.5px,#fffcfc 152.5px,#ffa5a5 164.5px,#ff8585 172.5px,#ff8282 179.5px,#ff9d9d 187.5px,#ffe9e9 198.5px,#fdfdff 201.5px,#d5d5ff 206.5px)"></i><i style="top:187px;background:linear-gradient(90deg,#ffe9e9 0.5px,#fdfdff 3.5px,#a5a5ff 15.5px,#8585ff 23.5px,#8282ff 30.5px,#9d9dff 38.5px,#e8e8ff 49.5px,#fffefe 52.5px,#ffa6a6 64.5px,#ff8585 72.5px,#ff8282 79.5px,#ff9c9c 87.5px,#ffdfdf 97.5px,#fff 101.5px,#a7a7ff 113.5px,#8686ff 121.5px,#8282ff 128.5px,#9b9bff 136.5px,#dedeff 146.5px,#fefeff 150.5px,#ffa2a2 163.5px,#ff8484 171.5px,#ff8383 178.5px,#ffa0a0 186.5px,#ffecec 197.5px,#fffcfc 199.5px,#e2e2ff 203.5px,#cbcbff 206.5px)"></i><i style="top:188px;background:linear-gradient(90deg,#fff4f4 0.5px,#fffdfd 1.5px,#d2d2ff 7.5px,#99f 16.5px,#8181ff 24.5px,#8787ff 31.5px,#aaf 39.5px,#fbfbff 50.5px,#fff3f3 52.5px,#ffa4a4 63.5px,#ff8484 71.5px,#ff8282 78.5px,#ff9e9e 86.5px,#ffeaea 97.5px,#fffafa 99.5px,#fcfcff 100.5px,#a5a5ff 112.5px,#8585ff 120.5px,#8282ff 127.5px,#9d9dff 135.5px,#e9e9ff 146.5px,#fffdfd 149.5px,#ffa6a6 161.5px,#ff8585 169.5px,#ff8282 176.5px,#ff9c9c 184.5px,#ffdfdf 194.5px,#fefeff 198.5px,#c0c0ff 206.5px)"></i><i style="top:189px;background:linear-gradient(90deg,#fefeff 0.5px,#a6a6ff 12.5px,#8585ff 20.5px,#8282ff 27.5px,#9c9cff 35.5px,#dedeff 45.5px,#fefeff 49.5px,#ffa7a7 61.5px,#ff8686 69.5px,#ff8282 76.5px,#ff9b9b 84.5px,#fdd 94.5px,#fffdfd 98.5px,#a3a3ff 111.5px,#8484ff 119.5px,#8383ff 126.5px,#9f9fff 134.5px,#ececff 145.5px,#fcfcff 147.5px,#fff2f2 149.5px,#ffa3a3 160.5px,#ff8484 168.5px,#ff8383 175.5px,#ff9e9e 183.5px,#ffeaea 194.5px,#fffbfb 196.5px,#fbfbff 197.5px,#b7b7ff 206.5px)"></i><i style="top:190px;background:linear-gradient(90deg,#f3f3ff 0.5px,#a4a4ff 11.5px,#8484ff 19.5px,#8282ff 26.5px,#9e9eff 34.5px,#e9e9ff 45.5px,#fffdfd 48.5px,#ffa5a5 60.5px,#ff8585 68.5px,#ff8282 75.5px,#ff9d9d 83.5px,#ffe8e8 94.5px,#fefeff 97.5px,#a6a6ff 109.5px,#8585ff 117.5px,#8282ff 124.5px,#9c9cff 132.5px,#dfdfff 142.5px,#fff 146.5px,#ffa7a7 158.5px,#ff8686 166.5px,#ff8282 173.5px,#ff9b9b 181.5px,#ffdede 191.5px,#fffefe 195.5px,#aeaeff 206.5px)"></i><i style="top:191px;background:linear-gradient(90deg,#e8e8ff 0.5px,#9d9dff 11.5px,#8282ff 19.5px,#8585ff 26.5px,#a5a5ff 34.5px,#fcfcff 46.5px,#ffe1e1 50.5px,#ff9e9e 60.5px,#ff8282 68.5px,#ff8484 75.5px,#ffa4a4 83.5px,#fffbfb 95.5px,#f3f3ff 97.5px,#a4a4ff 108.5px,#8484ff 116.5px,#8282ff 123.5px,#9e9eff 131.5px,#eaeaff 142.5px,#fffcfc 145.5px,#ffa5a5 157.5px,#ff8585 165.5px,#ff8282 172.5px,#ff9d9d 180.5px,#ffe8e8 191.5px,#fdfdff 194.5px,#a6a6ff 206.5px)"></i><i style="top:192px;background:linear-gradient(90deg,#ddf 0.5px,#9b9bff 10.5px,#8282ff 18.5px,#8686ff 25.5px,#a7a7ff 33.5px,#fff 45.5px,#ffa7a7 57.5px,#ff8585 65.5px,#ff8282 72.5px,#ff9b9b 80.5px,#ffdede 90.5px,#fffefe 94.5px,#a2a2ff 107.5px,#8484ff 115.5px,#8383ff 122.5px,#a0a0ff 130.5px,#ededff 141.5px,#fdfdff 143.5px,#ffa3a3 156.5px,#ff8484 164.5px,#ff8383 171.5px,#ff9f9f 179.5px,#ffebeb 190.5px,#fffbfb 192.5px,#f2f2ff 194.5px,#a4a4ff 205.5px,#9e9eff 206.5px)"></i><i style="top:193px;background:linear-gradient(90deg,#d3d3ff 0.5px,#99f 9.5px,#8181ff 17.5px,#8686ff 24.5px,#a9a9ff 32.5px,#fafaff 43.5px,#fffcfc 44.5px,#ffa5a5 56.5px,#ff8585 64.5px,#ff8282 71.5px,#ff9d9d 79.5px,#ffe9e9 90.5px,#fdfdff 93.5px,#a6a6ff 105.5px,#8585ff 113.5px,#8282ff 120.5px,#9c9cff 128.5px,#dfdfff 138.5px,#fffefe 142.5px,#ffa6a6 154.5px,#ff8585 162.5px,#ff8282 169.5px,#ff9c9c 177.5px,#ffdede 187.5px,#fffefe 191.5px,#a7a7ff 203.5px,#9797ff 206.5px)"></i><i style="top:194px;background:linear-gradient(90deg,#c9c9ff 0.5px,#9393ff 9.5px,#8080ff 17.5px,#8a8aff 24.5px,#b2b2ff 32.5px,#fdfdff 42.5px,#ffa3a3 55.5px,#ff8484 63.5px,#ff8383 70.5px,#ff9f9f 78.5px,#ffebeb 89.5px,#fffcfc 91.5px,#f2f2ff 93.5px,#a4a4ff 104.5px,#8484ff 112.5px,#8282ff 119.5px,#9e9eff 127.5px,#eaeaff 138.5px,#fafaff 140.5px,#fffcfc 141.5px,#ffa4a4 153.5px,#ff8484 161.5px,#ff8282 168.5px,#ff9d9d 176.5px,#ffe9e9 187.5px,#fdfdff 190.5px,#a5a5ff 202.5px,#9292ff 206.5px)"></i><i style="top:195px;background:linear-gradient(90deg,#bfbfff 0.5px,#8e8eff 9.5px,#8080ff 16.5px,#8b8bff 23.5px,#babaff 32.5px,#fffefe 41.5px,#ffa6a6 53.5px,#ff8585 61.5px,#ff8282 68.5px,#ff9b9b 76.5px,#ffdede 86.5px,#fffefe 90.5px,#a7a7ff 102.5px,#8686ff 110.5px,#8181ff 117.5px,#9b9bff 125.5px,#ddf 135.5px,#fdfdff 139.5px,#ffa3a3 152.5px,#ff8484 160.5px,#ff8383 167.5px,#ff9f9f 175.5px,#ffecec 186.5px,#fffcfc 188.5px,#f2f2ff 190.5px,#a3a3ff 201.5px,#8c8cff 206.5px)"></i><i style="top:196px;background:linear-gradient(90deg,#b6b6ff 0.5px,#8d8dff 8.5px,#8080ff 15.5px,#9090ff 23.5px,#c4c4ff 32.5px,#fafaff 39.5px,#fffcfc 40.5px,#ffa5a5 52.5px,#ff8484 60.5px,#ff8282 67.5px,#ff9d9d 75.5px,#ffe9e9 86.5px,#fdfdff 89.5px,#a5a5ff 101.5px,#8585ff 109.5px,#8282ff 116.5px,#9c9cff 124.5px,#dfdfff 134.5px,#fffefe 138.5px,#ffa6a6 150.5px,#ff8585 158.5px,#ff8282 165.5px,#ff9b9b 173.5px,#ffdede 183.5px,#fffefe 187.5px,#a7a7ff 199.5px,#88f 206.5px)"></i><i style="top:197px;background:linear-gradient(90deg,#aeaeff 0.5px,#88f 8.5px,#8080ff 15.5px,#9696ff 23.5px,#d5d5ff 33.5px,#fdfdff 38.5px,#ffa3a3 51.5px,#ff8484 59.5px,#ff8282 66.5px,#ff9f9f 74.5px,#ffebeb 85.5px,#fffbfb 87.5px,#f2f2ff 89.5px,#a4a4ff 100.5px,#8484ff 108.5px,#8282ff 115.5px,#9e9eff 123.5px,#eaeaff 134.5px,#fafaff 136.5px,#fffcfc 137.5px,#ffa5a5 149.5px,#ff8484 157.5px,#ff8282 164.5px,#ff9d9d 172.5px,#ffe9e9 183.5px,#fdfdff 186.5px,#a5a5ff 198.5px,#8585ff 206.5px)"></i><i style="top:198px;background:linear-gradient(90deg,#a6a6ff 0.5px,#8585ff 8.5px,#8282ff 15.5px,#9c9cff 23.5px,#dfdfff 33.5px,#fff 37.5px,#ffa7a7 49.5px,#ff8585 57.5px,#ff8181 64.5px,#ff9b9b 72.5px,#ffdede 82.5px,#fffefe 86.5px,#a2a2ff 99.5px,#8383ff 107.5px,#8383ff 114.5px,#9f9fff 122.5px,#ececff 133.5px,#fcfcff 135.5px,#ffd9d9 140.5px,#ff9898 150.5px,#ff8181 158.5px,#ff8787 165.5px,#faa 173.5px,#fffbfb 184.5px,#f3f3ff 186.5px,#a4a4ff 197.5px,#8484ff 205.5px,#8282ff 206.5px)"></i><i style="top:199px;background:linear-gradient(90deg,#9f9fff 0.5px,#8282ff 8.5px,#8484ff 15.5px,#a3a3ff 23.5px,#fffdfd 36.5px,#ffa5a5 48.5px,#ff8585 56.5px,#ff8282 63.5px,#ff9d9d 71.5px,#ffe0e0 81.5px,#fefeff 85.5px,#a6a6ff 97.5px,#8585ff 105.5px,#8282ff 112.5px,#9c9cff 120.5px,#dfdfff 130.5px,#fff 134.5px,#ffa7a7 146.5px,#ff8585 154.5px,#ff8181 161.5px,#ff9b9b 169.5px,#fdd 179.5px,#fffefe 183.5px,#a2a2ff 196.5px,#8484ff 204.5px,#8181ff 206.5px)"></i><i style="top:200px;background:linear-gradient(90deg,#9898ff 0.5px,#8282ff 7.5px,#8484ff 14.5px,#a4a4ff 22.5px,#fbfbff 34.5px,#fff2f2 36.5px,#ffa3a3 47.5px,#ff8484 55.5px,#ff8282 62.5px,#ff9e9e 70.5px,#ffeaea 81.5px,#fffafa 83.5px,#fcfcff 84.5px,#a5a5ff 96.5px,#8484ff 104.5px,#8282ff 111.5px,#9d9dff 119.5px,#e9e9ff 130.5px,#fffdfd 133.5px,#ffa5a5 145.5px,#ff8585 153.5px,#ff8282 160.5px,#ff9c9c 168.5px,#ffe0e0 178.5px,#fefeff 182.5px,#a6a6ff 194.5px,#8585ff 202.5px,#8080ff 206.5px)"></i><i style="top:201px;background:linear-gradient(90deg,#9292ff 0.5px,#8080ff 7.5px,#88f 14.5px,#b2b2ff 23.5px,#fdfdff 33.5px,#ffa7a7 45.5px,#ff8686 53.5px,#ff8383 61.5px,#ff9f9f 69.5px,#ffeded 80.5px,#fffdfd 82.5px,#a3a3ff 95.5px,#8484ff 103.5px,#8282ff 110.5px,#9f9fff 118.5px,#ebebff 129.5px,#fbfbff 131.5px,#fffbfb 132.5px,#ffa3a3 144.5px,#ff8484 152.5px,#ff8383 159.5px,#ff9e9e 167.5px,#ffe2e2 177.5px,#fffafa 180.5px,#fcfcff 181.5px,#ababff 192.5px,#8787ff 200.5px,#8080ff 206.5px)"></i><i style="top:202px;background:linear-gradient(90deg,#8d8dff 0.5px,#7f7fff 6.5px,#8989ff 13.5px,#babaff 23.5px,#fff 32.5px,#ffa5a5 44.5px,#ff8686 52.5px,#ff8383 60.5px,#ff9f9f 68.5px,#fefeff 81.5px,#a9a9ff 93.5px,#8585ff 101.5px,#8080ff 108.5px,#9b9bff 116.5px,#ededff 128.5px,#fdfdff 130.5px,#ffdada 135.5px,#ff9797 145.5px,#ff8282 152.5px,#ff8686 159.5px,#ffa4a4 167.5px,#ffe3e3 176.5px,#fffcfc 179.5px,#f2f2ff 181.5px,#a9a9ff 191.5px,#8787ff 199.5px,#8181ff 206.5px)"></i><i style="top:203px;background:linear-gradient(90deg,#8787ff 0.5px,#7c7cff 5.5px,#8e8eff 13.5px,#cacaff 24.5px,#fdfdff 31.5px,#ffa0a0 43.5px,#ff8484 52.5px,#f88 61.5px,#ffa9a9 69.5px,#fffbfb 79.5px,#f1f1ff 81.5px,#a8a8ff 92.5px,#8383ff 101.5px,#7f7fff 108.5px,#a8a8ff 117.5px,#fefeff 129.5px,#ff9a9a 143.5px,#ff8383 149.5px,#ff8282 156.5px,#ffa6a6 166.5px,#ffe3e3 175.5px,#fffdfd 178.5px,#b2b2ff 188.5px,#8d8dff 196.5px,#8181ff 205.5px,#8282ff 206.5px)"></i><i style="top:204px;background:linear-gradient(90deg,#8181ff 0.5px,#7474ff 4.5px,#9595ff 13.5px,#b7b7ff 19.5px,#fffcfc 31.5px,#ffa0a0 41.5px,#ff8e8e 45.5px,#ff8585 52.5px,#ff9090 62.5px,#ffabab 69.5px,#fffefe 78.5px,#d3d3ff 83.5px,#a5a5ff 92.5px,#8181ff 101.5px,#7c7cff 108.5px,#b1b1ff 117.5px,#dfdfff 123.5px,#fffefe 128.5px,#ffc5c5 136.5px,#ff8c8c 144.5px,#ff7d7d 148.5px,#ff8686 156.5px,#ffb3b3 167.5px,#ffe0e0 174.5px,#fffdfd 177.5px,#acacff 187.5px,#8c8cff 196.5px,#8383ff 205.5px,#8585ff 206.5px)"></i><i style="top:205px;background:linear-gradient(90deg,#7878ff 0.5px,#6767ff 3.5px,#7272ff 6.5px,#a0a0ff 13.5px,#c3c3ff 17.5px,#d5d5ff 23.5px,#ededff 29.5px,#fffdfd 31.5px,#ffc3c3 36.5px,#ff8686 42.5px,#ff8181 45.5px,#ff8989 52.5px,#ff9898 56.5px,#ff9292 61.5px,#ffa1a1 68.5px,#ffcbcb 72.5px,#fefeff 77.5px,#c5c5ff 82.5px,#a6a6ff 91.5px,#a1a1ff 95.5px,#8383ff 100.5px,#7373ff 107.5px,#8383ff 110.5px,#c9c9ff 118.5px,#ebebff 122.5px,#fffbfb 127.5px,#ffd8d8 134.5px,#ff9f9f 140.5px,#ff7575 146.5px,#ff7474 149.5px,#ff8c8c 156.5px,#ffa8a8 161.5px,#ffb5b5 166.5px,#ffd8d8 173.5px,#fff9f9 176.5px,#f9f9ff 177.5px,#a1a1ff 186.5px,#8c8cff 195.5px,#8e8eff 200.5px,#8686ff 205.5px,#8787ff 206.5px)"></i><i style="top:206px;background:linear-gradient(90deg,#6b6bff 0.5px,#5252ff 3.5px,#5b5bff 5.5px,#8f8fff 10.5px,#b1b1ff 13.5px,#d9d9ff 16.5px,#dfdfff 18.5px,#dadaff 22.5px,#e1e1ff 26.5px,#e3e3ff 29.5px,#f9f9ff 31.5px,#fff4f4 32.5px,#ffc5c5 35.5px,#ff8484 40.5px,#ff6d6d 42.5px,#ff6a6a 44.5px,#ff9393 52.5px,#ffacac 55.5px,#ffa5a5 58.5px,#ff9a9a 61.5px,#ff9797 68.5px,#faa 70.5px,#fff5f5 75.5px,#fdfdff 76.5px,#b2b2ff 81.5px,#a8a8ff 83.5px,#a8a8ff 88.5px,#a9a9ff 91.5px,#b1b1ff 94.5px,#9d9dff 97.5px,#8484ff 100.5px,#6565ff 107.5px,#7070ff 109.5px,#cdcdff 117.5px,#f7f7ff 120.5px,#fff 121.5px,#fff2f2 127.5px,#ffe9e9 131.5px,#ffdfdf 134.5px,#f99 140.5px,#ff6363 146.5px,#ff6262 148.5px,#ff9696 156.5px,#ffb9b9 160.5px,#ffbdbd 166.5px,#fcc 172.5px,#ffecec 175.5px,#fffbfb 176.5px,#dcdcff 179.5px,#9393ff 185.5px,#88f 188.5px,#8f8fff 195.5px,#9d9dff 199.5px,#8989ff 205.5px,#8a8aff 206.5px)"></i><i style="top:207px;background:linear-gradient(90deg,#5858ff 0.5px,#3939ff 2.5px,#33f 3.5px,#3636ff 4.5px,#5353ff 6.5px,#8787ff 9.5px,#b3b3ff 12.5px,#f2f2ff 15.5px,#fff 16.5px,#fffcfc 18.5px,#e7e7ff 22.5px,#e2e2ff 25.5px,#cdcdff 28.5px,#ceceff 29.5px,#e8e8ff 31.5px,#fefeff 32.5px,#ffc1c1 35.5px,#ff7d7d 39.5px,#ff5656 41.5px,#ff4a4a 42.5px,#ff4747 43.5px,#ff5757 45.5px,#ff7a7a 48.5px,#ff9393 51.5px,#ffc1c1 54.5px,#ffcdcd 56.5px,#ffa3a3 61.5px,#ff9292 65.5px,#ff8484 67.5px,#ff8b8b 69.5px,#ffafaf 71.5px,#fee 74.5px,#fffefe 75.5px,#c8c8ff 78.5px,#9d9dff 80.5px,#8787ff 82.5px,#8c8cff 84.5px,#9f9fff 87.5px,#a8a8ff 90.5px,#c8c8ff 94.5px,#bcbcff 96.5px,#88f 100.5px,#6868ff 104.5px,#5454ff 106.5px,#5353ff 108.5px,#6e6eff 110.5px,#b1b1ff 114.5px,#e1e1ff 117.5px,#f6f6ff 118.5px,#fff5f5 119.5px,#fdd 121.5px,#ffdede 123.5px,#ffe9e9 126.5px,#ffebeb 130.5px,#fff5f5 133.5px,#ffe3e3 135.5px,#ffa0a0 139.5px,#ff6161 144.5px,#ff4a4a 146.5px,#ff4c4c 148.5px,#ffa4a4 156.5px,#ffcfcf 159.5px,#ffd6d6 161.5px,#ffc6c6 165.5px,#ffc6c6 169.5px,#ffc0c0 172.5px,#ffd3d3 174.5px,#fff8f8 176.5px,#f3f3ff 177.5px,#9696ff 183.5px,#7878ff 185.5px,#6f6fff 187.5px,#9696ff 195.5px,#afafff 198.5px,#aeaeff 200.5px,#9191ff 204.5px,#8d8dff 206.5px)"></i><i style="top:208px;background:linear-gradient(90deg,#3e3eff 0.5px,#1212ff 2.5px,#0909ff 3.5px,#0d0dff 4.5px,#1e1eff 5.5px,#8686ff 9.5px,#c9c9ff 12.5px,#e7e7ff 13.5px,#fff9f9 14.5px,#ffdede 15.5px,#ffcdcd 16.5px,#ffc8c8 17.5px,#ffcfcf 18.5px,#fffefe 21.5px,#dcdcff 25.5px,#b1b1ff 28.5px,#aeaeff 29.5px,#b8b8ff 30.5px,#ccf 31.5px,#e9e9ff 32.5px,#fff5f5 33.5px,#ffbfbf 35.5px,#ff7d7d 38.5px,#ff2c2c 41.5px,#ff1e1e 42.5px,#ff1c1c 43.5px,#ff2525 44.5px,#ff7373 48.5px,#ffa2a2 51.5px,#ffe7e7 54.5px,#fff4f4 55.5px,#fff6f6 56.5px,#ffdfdf 58.5px,#ffafaf 61.5px,#ff9393 64.5px,#ff6a6a 67.5px,#ff6767 68.5px,#ff6e6e 69.5px,#ff8181 70.5px,#fff1f1 74.5px,#f7f7ff 75.5px,#ababff 78.5px,#7474ff 80.5px,#6262ff 81.5px,#5a5aff 82.5px,#5e5eff 83.5px,#9393ff 87.5px,#afafff 90.5px,#e0e0ff 93.5px,#e8e8ff 94.5px,#e6e6ff 95.5px,#c8c8ff 97.5px,#8e8eff 100.5px,#5959ff 104.5px,#3939ff 106.5px,#3232ff 107.5px,#3636ff 108.5px,#4343ff 109.5px,#a4a4ff 113.5px,#e1e1ff 116.5px,#fbfbff 117.5px,#ffcece 119.5px,#ffbcbc 120.5px,#ffb2b2 121.5px,#fbb 123.5px,#ffd9d9 126.5px,#ffe9e9 129.5px,#fefeff 131.5px,#f1f1ff 133.5px,#fffafa 135.5px,#ffa1a1 139.5px,#ff5d5d 143.5px,#ff3636 145.5px,#ff2a2a 146.5px,#ff2828 147.5px,#ff3e3e 149.5px,#ff8484 153.5px,#ffb8b8 156.5px,#ffe3e3 158.5px,#fffafa 160.5px,#fff2f2 162.5px,#ffd4d4 165.5px,#ffc0c0 169.5px,#ffafaf 171.5px,#ffb2b2 173.5px,#ffd6d6 175.5px,#ffefef 176.5px,#f6f6ff 177.5px,#9292ff 182.5px,#6565ff 184.5px,#55f 185.5px,#4d4dff 186.5px,#5656ff 188.5px,#8282ff 192.5px,#a1a1ff 195.5px,#cacaff 198.5px,#cacaff 200.5px,#9b9bff 204.5px,#8f8fff 206.5px)"></i><i style="top:209px;background:linear-gradient(90deg,#1d1dff 0.5px,#0000fc 1.5px,#0000ea 2.5px,#0000e2 3.5px,#0000e6 4.5px,#0000f5 5.5px,#1313ff 6.5px,#8383ff 9.5px,#e5e5ff 12.5px,#fff0f0 13.5px,#ffa7a7 15.5px,#ff9393 16.5px,#ff8e8e 17.5px,#ff9898 18.5px,#fff8f8 22.5px,#f6f6ff 23.5px,#d0d0ff 25.5px,#9d9dff 27.5px,#8b8bff 28.5px,#8585ff 29.5px,#8f8fff 30.5px,#a7a7ff 31.5px,#f4f4ff 33.5px,#ffe3e3 34.5px,#ff6363 38.5px,#ff1818 40.5px,#fc0000 41.5px,#f30000 43.5px,#fa0000 44.5px,#ff0f0f 45.5px,#ff6a6a 48.5px,#ffb6b6 51.5px,#fffafa 53.5px,#d8d8ff 55.5px,#d5d5ff 56.5px,#e0e0ff 57.5px,#f6f6ff 58.5px,#ffeded 59.5px,#ffbebe 61.5px,#ff8989 64.5px,#ff5959 66.5px,#ff4747 67.5px,#ff4141 68.5px,#ff4949 69.5px,#ff6060 70.5px,#fff2f2 74.5px,#eef 75.5px,#aeaeff 77.5px,#4242ff 80.5px,#2d2dff 81.5px,#2626ff 82.5px,#2d2dff 83.5px,#5757ff 85.5px,#9595ff 88.5px,#bbf 90.5px,#efefff 92.5px,#fff9f9 93.5px,#ffeded 94.5px,#fee 95.5px,#fffcfc 96.5px,#eaeaff 97.5px,#9898ff 100.5px,#5d5dff 103.5px,#1717ff 106.5px,#0d0dff 107.5px,#11f 108.5px,#22f 109.5px,#6060ff 111.5px,#bebeff 114.5px,#f8f8ff 116.5px,#ffe3e3 117.5px,#ffa0a0 119.5px,#ff8a8a 120.5px,#ff8181 121.5px,#ff8383 122.5px,#ffa4a4 124.5px,#ffd4d4 127.5px,#fcfcff 130.5px,#d8d8ff 132.5px,#d1d1ff 133.5px,#d5d5ff 134.5px,#e5e5ff 135.5px,#fefeff 136.5px,#ffa5a5 139.5px,#ff4545 143.5px,#ff1212 145.5px,#ff0303 146.5px,#ff0101 147.5px,#ff0b0b 148.5px,#ff3b3b 150.5px,#ff8686 153.5px,#ffd1d1 156.5px,#ffefef 157.5px,#f4f4ff 158.5px,#e1e1ff 159.5px,#d8d8ff 160.5px,#dadaff 161.5px,#f8f8ff 163.5px,#fff4f4 164.5px,#ffb5b5 169.5px,#ff9898 171.5px,#ff9292 172.5px,#ff9898 173.5px,#ffa8a8 174.5px,#fdfdff 177.5px,#7878ff 182.5px,#4040ff 184.5px,#2e2eff 185.5px,#2525ff 186.5px,#2828ff 187.5px,#4848ff 189.5px,#7e7eff 192.5px,#b2b2ff 195.5px,#ddf 197.5px,#ebebff 198.5px,#f0f0ff 199.5px,#ebebff 200.5px,#9b9bff 205.5px,#9090ff 206.5px)"></i><i style="top:210px;background:linear-gradient(90deg,#0000f8 0.5px,#0000da 1.5px,#0000c4 2.5px,#00b 3.5px,#0000c0 4.5px,#0000d2 5.5px,#0000ef 6.5px,#1c1cff 7.5px,#7f7fff 9.5px,#d5d5ff 11.5px,#fff8f8 12.5px,#ff9090 14.5px,#ff6969 15.5px,#ff5252 16.5px,#ff4d4d 17.5px,#ff5b5b 18.5px,#ff7878 19.5px,#ffe4e4 22.5px,#fefeff 23.5px,#bfbfff 25.5px,#77f 27.5px,#5f5fff 28.5px,#5656ff 29.5px,#6060ff 30.5px,#7c7cff 31.5px,#a6a6ff 32.5px,#d8d8ff 33.5px,#fff3f3 34.5px,#ff4545 38.5px,#ff1414 39.5px,#f20000 40.5px,#d70000 42.5px,#d70000 43.5px,#f00000 45.5px,#ff0c0c 46.5px,#ff5f5f 48.5px,#ffd0d0 51.5px,#fffdfd 52.5px,#b3b3ff 54.5px,#9f9fff 55.5px,#9c9cff 56.5px,#aaf 57.5px,#c5c5ff 58.5px,#e9e9ff 59.5px,#fff0f0 60.5px,#ff7a7a 64.5px,#ff3737 66.5px,#ff2020 67.5px,#ff1717 68.5px,#ff1f1f 69.5px,#ff3838 70.5px,#ff6060 71.5px,#fff0f0 74.5px,#e5e5ff 75.5px,#5f5fff 78.5px,#3131ff 79.5px,#0c0cff 80.5px,#0000f7 81.5px,#0000f2 82.5px,#0000f9 83.5px,#0f0fff 84.5px,#7474ff 87.5px,#ccf 90.5px,#f0f0ff 91.5px,#ffeaea 92.5px,#ffcece 93.5px,#ffbfbf 94.5px,#ffbfbf 95.5px,#ffcfcf 96.5px,#ffebeb 97.5px,#eef 98.5px,#a5a5ff 100.5px,#4c4cff 103.5px,#0909ff 105.5px,#0000f4 106.5px,#0000eb 107.5px,#00e 108.5px,#0000fc 109.5px,#1d1dff 110.5px,#9f9fff 113.5px,#eaeaff 115.5px,#ffebeb 116.5px,#ff9292 118.5px,#ff6d6d 119.5px,#ff5454 120.5px,#ff4a4a 121.5px,#ff4f4f 122.5px,#ff6262 123.5px,#ffcaca 127.5px,#fff9f9 129.5px,#e9e9ff 130.5px,#b6b6ff 132.5px,#acacff 133.5px,#afafff 134.5px,#c1c1ff 135.5px,#fff9f9 137.5px,#ffadad 139.5px,#ff2929 143.5px,#ff0606 144.5px,#ec0000 146.5px,#f10000 148.5px,#fd0000 149.5px,#f88 153.5px,#ffefef 156.5px,#e9e9ff 157.5px,#c8c8ff 158.5px,#b1b1ff 159.5px,#a8a8ff 160.5px,#acacff 161.5px,#bcbcff 162.5px,#eef 164.5px,#fff9f9 165.5px,#ffa6a6 169.5px,#ff7c7c 171.5px,#ff7474 172.5px,#ff7979 173.5px,#ff8a8a 174.5px,#ffa8a8 175.5px,#fff5f5 177.5px,#e3e3ff 178.5px,#5b5bff 182.5px,#1717ff 184.5px,#0202ff 185.5px,#0000fe 187.5px,#1010ff 188.5px,#7979ff 192.5px,#c8c8ff 195.5px,#fffefe 197.5px,#ffeded 198.5px,#ffe7e7 199.5px,#ffecec 200.5px,#fffdfd 201.5px,#a3a3ff 205.5px,#9191ff 206.5px)"></i><i style="top:211px;background:linear-gradient(90deg,#0000da 0.5px,#0000b6 1.5px,#00009e 2.5px,#000094 3.5px,#009 4.5px,#0000ae 5.5px,#0000cf 6.5px,#0000fa 7.5px,#ededff 11.5px,#ffd1d1 12.5px,#ff5656 14.5px,#ff2929 15.5px,#ff1010 16.5px,#ff0c0c 17.5px,#ff1c1c 18.5px,#ff3f3f 19.5px,#fffafa 23.5px,#d9d9ff 24.5px,#4e4eff 27.5px,#3131ff 28.5px,#2626ff 29.5px,#3030ff 30.5px,#4d4dff 31.5px,#7d7dff 32.5px,#f7f7ff 34.5px,#fcc 35.5px,#ff2424 38.5px,#f30000 39.5px,#c50000 41.5px,#b00 42.5px,#b00 43.5px,#c50000 44.5px,#f20000 46.5px,#ff1d1d 47.5px,#fee 51.5px,#d8d8ff 52.5px,#a4a4ff 53.5px,#7c7cff 54.5px,#66f 55.5px,#6262ff 56.5px,#7171ff 57.5px,#9292ff 58.5px,#ededff 60.5px,#ffe3e3 61.5px,#ff1212 66.5px,#fa0000 67.5px,#f50000 68.5px,#f90000 69.5px,#ff1010 70.5px,#ff3c3c 71.5px,#ffebeb 74.5px,#ddf 75.5px,#0000fd 79.5px,#0000e0 80.5px,#0000cf 81.5px,#0000ca 82.5px,#0000d2 83.5px,#0707ff 85.5px,#8b8bff 88.5px,#e1e1ff 90.5px,#fee 91.5px,#ffc2c2 92.5px,#ffa1a1 93.5px,#ff8f8f 94.5px,#ff8f8f 95.5px,#ffa0a0 96.5px,#ffc0c0 97.5px,#ffecec 98.5px,#e2e2ff 99.5px,#0d0dff 104.5px,#0000ec 105.5px,#0000d8 106.5px,#0000ce 107.5px,#0000d1 108.5px,#0000e1 109.5px,#0000fb 110.5px,#2c2cff 111.5px,#ccf 114.5px,#fdfdff 115.5px,#ff6262 118.5px,#ff3939 119.5px,#ff1e1e 120.5px,#ff1414 121.5px,#ff1a1a 122.5px,#ff3030 123.5px,#ffe2e2 128.5px,#f8f8ff 129.5px,#adadff 131.5px,#9292ff 132.5px,#8585ff 133.5px,#88f 134.5px,#9b9bff 135.5px,#bcbcff 136.5px,#e8e8ff 137.5px,#ffe6e6 138.5px,#ff0b0b 143.5px,#ef0000 144.5px,#d60000 146.5px,#d60000 147.5px,#eb0000 149.5px,#ff0202 150.5px,#ffe1e1 155.5px,#ededff 156.5px,#bfbfff 157.5px,#9a9aff 158.5px,#8181ff 159.5px,#77f 160.5px,#7c7cff 161.5px,#8f8fff 162.5px,#f0f0ff 165.5px,#fff0f0 166.5px,#ff7676 170.5px,#ff5f5f 171.5px,#f55 172.5px,#ff5959 173.5px,#ff6c6c 174.5px,#ff8c8c 175.5px,#ffe6e6 177.5px,#e9e9ff 178.5px,#1010ff 183.5px,#0000f2 184.5px,#0000e2 185.5px,#00d 186.5px,#0000e1 187.5px,#0000ef 188.5px,#0909ff 189.5px,#e0e0ff 195.5px,#fff8f8 196.5px,#ffd9d9 197.5px,#ffc6c6 198.5px,#ffbfbf 199.5px,#ffc5c5 200.5px,#ffd7d7 201.5px,#fff3f3 202.5px,#eaeaff 203.5px,#9191ff 206.5px)"></i><i style="top:212px;background:linear-gradient(90deg,#0000bc 0.5px,#000094 1.5px,#00007a 2.5px,#000070 3.5px,#000076 4.5px,#00008c 5.5px,#0000b0 6.5px,#0000e1 7.5px,#2323ff 8.5px,#bbf 10.5px,#fff7f7 11.5px,#ff5d5d 13.5px,#ff1c1c 14.5px,#f50000 15.5px,#e80000 16.5px,#e60000 17.5px,#ff0606 19.5px,#ff3c3c 20.5px,#fff3f3 23.5px,#cfcfff 24.5px,#5656ff 26.5px,#2525ff 27.5px,#0505ff 28.5px,#0000fa 29.5px,#0303ff 30.5px,#2121ff 31.5px,#5454ff 32.5px,#dfdfff 34.5px,#ffd5d5 35.5px,#ff0101 38.5px,#c00000 40.5px,#ab0000 41.5px,#a10000 42.5px,#a10000 43.5px,#ac0000 44.5px,#c10000 45.5px,#ff0202 47.5px,#ffcaca 50.5px,#f0f0ff 51.5px,#acacff 52.5px,#7171ff 53.5px,#4747ff 54.5px,#2f2fff 55.5px,#2b2bff 56.5px,#3b3bff 57.5px,#5e5eff 58.5px,#cacaff 60.5px,#fff9f9 61.5px,#ff1c1c 65.5px,#f60000 66.5px,#e70000 67.5px,#e10000 68.5px,#e50000 69.5px,#f30000 70.5px,#ff1818 71.5px,#ff5656 72.5px,#ffe4e4 74.5px,#d5d5ff 75.5px,#0707ff 78.5px,#0000bc 80.5px,#00a 81.5px,#0000a5 82.5px,#0000af 83.5px,#0000c5 84.5px,#0000e6 85.5px,#1515ff 86.5px,#f9f9ff 90.5px,#f99 92.5px,#ff7575 93.5px,#ff6262 94.5px,#ff6161 95.5px,#ff7272 96.5px,#ff9494 97.5px,#fffefe 99.5px,#2525ff 103.5px,#0000f3 104.5px,#0000d3 105.5px,#0000be 106.5px,#0000b4 107.5px,#0000b7 108.5px,#0000c7 109.5px,#0000e4 110.5px,#1010ff 111.5px,#d2d2ff 114.5px,#ffeded 115.5px,#ff6c6c 117.5px,#f33 118.5px,#ff0606 119.5px,#ef0000 121.5px,#f30000 122.5px,#f00 123.5px,#ff2727 124.5px,#ffe6e6 128.5px,#e8e8ff 129.5px,#8d8dff 131.5px,#7070ff 132.5px,#6161ff 133.5px,#6464ff 134.5px,#7676ff 135.5px,#99f 136.5px,#fffdfd 138.5px,#f22 142.5px,#f50000 143.5px,#cd0000 145.5px,#c30000 146.5px,#c30000 147.5px,#ca0000 148.5px,#f10000 150.5px,#ff1b1b 151.5px,#fffbfb 155.5px,#9696ff 157.5px,#6d6dff 158.5px,#5454ff 159.5px,#4949ff 160.5px,#4e4eff 161.5px,#6262ff 162.5px,#8484ff 163.5px,#d9d9ff 165.5px,#fffcfc 166.5px,#ff5c5c 170.5px,#ff4343 171.5px,#ff3838 172.5px,#ff3c3c 173.5px,#ff4e4e 174.5px,#ff7070 175.5px,#ff9f9f 176.5px,#ffd5d5 177.5px,#f1f1ff 178.5px,#1c1cff 182.5px,#0000f1 183.5px,#0000d7 184.5px,#0000c7 185.5px,#0000c1 186.5px,#0000c6 187.5px,#0000d6 188.5px,#0000ef 189.5px,#1515ff 190.5px,#fbfbff 195.5px,#ffb5b5 197.5px,#ffa0a0 198.5px,#ff9898 199.5px,#ff9e9e 200.5px,#ffb2b2 201.5px,#fff8f8 203.5px,#ddf 204.5px,#9191ff 206.5px)"></i><i style="top:213px;background:linear-gradient(90deg,#0000a1 0.5px,#000078 1.5px,#00005e 2.5px,#005 3.5px,#00005b 4.5px,#000070 5.5px,#000096 6.5px,#0000ca 7.5px,#0d0dff 8.5px,#c6c6ff 10.5px,#ffdbdb 11.5px,#ff2b2b 13.5px,#f20000 14.5px,#db0000 15.5px,#ce0000 16.5px,#c00 17.5px,#d40000 18.5px,#e80000 19.5px,#ff0d0d 20.5px,#fee 23.5px,#c4c4ff 24.5px,#3434ff 26.5px,#0000fe 27.5px,#0000e8 28.5px,#0000e0 29.5px,#0000e6 30.5px,#0000fa 31.5px,#2c2cff 32.5px,#7373ff 33.5px,#c6c6ff 34.5px,#ffe1e1 35.5px,#ff3636 37.5px,#f00000 38.5px,#ab0000 40.5px,#960000 41.5px,#8c0000 42.5px,#8d0000 43.5px,#980000 44.5px,#ad0000 45.5px,#f40000 47.5px,#ff3b3b 48.5px,#ffe0e0 50.5px,#cdcdff 51.5px,#8080ff 52.5px,#4242ff 53.5px,#1616ff 54.5px,#0000fe 55.5px,#0000fb 56.5px,#0a0aff 57.5px,#2d2dff 58.5px,#6363ff 59.5px,#ededff 61.5px,#ffcaca 62.5px,#ff3f3f 64.5px,#f00 65.5px,#e60000 66.5px,#d70000 67.5px,#d10000 68.5px,#d50000 69.5px,#e30000 70.5px,#fb0000 71.5px,#ff3a3a 72.5px,#ffdcdc 74.5px,#cfcfff 75.5px,#2b2bff 77.5px,#0000e8 78.5px,#0000bc 79.5px,#00009d 80.5px,#00008c 81.5px,#008 82.5px,#000091 83.5px,#0000a8 84.5px,#00c 85.5px,#0000fa 86.5px,#8686ff 88.5px,#cdcdff 89.5px,#ffebeb 90.5px,#ffa8a8 91.5px,#ff7272 92.5px,#ff4c4c 93.5px,#ff3939 94.5px,#ff3838 95.5px,#ff4848 96.5px,#ff6a6a 97.5px,#ff9e9e 98.5px,#ffdede 99.5px,#dcdcff 100.5px,#1313ff 103.5px,#0000e1 104.5px,#0000bf 105.5px,#0000a9 106.5px,#0000a0 107.5px,#0000a3 108.5px,#0000b3 109.5px,#0000d0 110.5px,#0000f9 111.5px,#3f3fff 112.5px,#d9d9ff 114.5px,#ffd9d9 115.5px,#f44 117.5px,#ff0707 118.5px,#df0000 120.5px,#da0000 121.5px,#d00 122.5px,#ea0000 123.5px,#f00 124.5px,#ffafaf 127.5px,#ffecec 128.5px,#d6d6ff 129.5px,#9d9dff 130.5px,#6f6fff 131.5px,#5050ff 132.5px,#4141ff 133.5px,#4343ff 134.5px,#55f 135.5px,#77f 136.5px,#a9a9ff 137.5px,#e8e8ff 138.5px,#ffd3d3 139.5px,#ff0e0e 142.5px,#e80000 143.5px,#bd0000 145.5px,#b50000 146.5px,#b40000 147.5px,#bc0000 148.5px,#c00 149.5px,#e50000 150.5px,#ff0909 151.5px,#ffd4d4 154.5px,#e7e7ff 155.5px,#a6a6ff 156.5px,#6e6eff 157.5px,#44f 158.5px,#2b2bff 159.5px,#2020ff 160.5px,#2525ff 161.5px,#3939ff 162.5px,#5d5dff 163.5px,#f6f6ff 166.5px,#ffd3d3 167.5px,#ff6e6e 169.5px,#ff4545 170.5px,#ff2b2b 171.5px,#ff1f1f 172.5px,#ff2323 173.5px,#ff3535 174.5px,#ff5656 175.5px,#ff8787 176.5px,#fbfbff 178.5px,#0000fe 182.5px,#0000da 183.5px,#0000c0 184.5px,#0000b1 185.5px,#0000ac 186.5px,#0000b1 187.5px,#0000c1 188.5px,#0000db 189.5px,#0000fe 190.5px,#e1e1ff 194.5px,#ffe6e6 195.5px,#ffb6b6 196.5px,#ff9393 197.5px,#ff7d7d 198.5px,#ff7676 199.5px,#ff7b7b 200.5px,#ff8e8e 201.5px,#ffafaf 202.5px,#ffdada 203.5px,#f3f3ff 204.5px,#9292ff 206.5px)"></i><i style="top:214px;background:linear-gradient(90deg,#00008b 0.5px,#000061 1.5px,#00004c 2.5px,#00004c 4.5px,#00005b 5.5px,#000080 6.5px,#0000b7 7.5px,#0000fb 8.5px,#6464ff 9.5px,#d1d1ff 10.5px,#ffc1c1 11.5px,#ff5959 12.5px,#fe0000 13.5px,#db0000 14.5px,#c50000 15.5px,#b90000 16.5px,#b70000 17.5px,#be0000 18.5px,#d10000 19.5px,#f00000 20.5px,#f33 21.5px,#ffe9e9 23.5px,#b9b9ff 24.5px,#6262ff 25.5px,#1717ff 26.5px,#0000e9 27.5px,#0000d3 28.5px,#00c 29.5px,#0000d2 30.5px,#0000e4 31.5px,#0b0bff 32.5px,#5353ff 33.5px,#adadff 34.5px,#fee 35.5px,#ff2525 37.5px,#e20000 38.5px,#b90000 39.5px,#900 40.5px,#860000 41.5px,#800000 43.5px,#800 44.5px,#9d0000 45.5px,#be0000 46.5px,#e90000 47.5px,#ff3232 48.5px,#fff5f5 50.5px,#acacff 51.5px,#5959ff 52.5px,#1818ff 53.5px,#0000f3 54.5px,#0000e3 55.5px,#0000e0 56.5px,#0000e9 57.5px,#0303ff 58.5px,#3b3bff 59.5px,#8484ff 60.5px,#d7d7ff 61.5px,#ffd2d2 62.5px,#ff2e2e 64.5px,#f30000 65.5px,#d90000 66.5px,#ca0000 67.5px,#c60000 68.5px,#ca0000 69.5px,#d70000 70.5px,#e00 71.5px,#ff2121 72.5px,#ff7676 73.5px,#ffd4d4 74.5px,#c9c9ff 75.5px,#0d0dff 77.5px,#0000cf 78.5px,#0000a2 79.5px,#000084 80.5px,#000074 81.5px,#000071 82.5px,#000079 83.5px,#000090 84.5px,#0000b6 85.5px,#0000e8 86.5px,#3131ff 87.5px,#dadaff 89.5px,#ffd2d2 90.5px,#ff8989 91.5px,#ff5050 92.5px,#ff2b2b 93.5px,#ff1919 94.5px,#ff1717 95.5px,#ff2525 96.5px,#ff4545 97.5px,#ff7a7a 98.5px,#ffc0c0 99.5px,#f0f0ff 100.5px,#0303ff 103.5px,#0000d2 104.5px,#0000af 105.5px,#009 106.5px,#000092 107.5px,#000095 108.5px,#0000a4 109.5px,#0000c0 110.5px,#0000ea 111.5px,#2f2fff 112.5px,#dfdfff 114.5px,#ffc5c5 115.5px,#ff6f6f 116.5px,#ff2020 117.5px,#f00000 118.5px,#da0000 119.5px,#c90000 121.5px,#c00 122.5px,#d80000 123.5px,#e00 124.5px,#ff1919 125.5px,#fff2f2 128.5px,#c5c5ff 129.5px,#8686ff 130.5px,#55f 131.5px,#3636ff 132.5px,#2929ff 133.5px,#2a2aff 134.5px,#3a3aff 135.5px,#5a5aff 136.5px,#8d8dff 137.5px,#d0d0ff 138.5px,#ffe3e3 139.5px,#fe0000 142.5px,#c30000 144.5px,#b20000 145.5px,#a00 147.5px,#b10000 148.5px,#c10000 149.5px,#da0000 150.5px,#fb0000 151.5px,#ff4545 152.5px,#ffe4e4 154.5px,#ccf 155.5px,#8585ff 156.5px,#4b4bff 157.5px,#22f 158.5px,#0a0aff 159.5px,#00f 160.5px,#0303ff 161.5px,#1616ff 162.5px,#3a3aff 163.5px,#6e6eff 164.5px,#ececff 166.5px,#ffd2d2 167.5px,#ff5d5d 169.5px,#ff3232 170.5px,#ff1818 171.5px,#ff0e0e 172.5px,#ff1212 173.5px,#f22 174.5px,#ff4242 175.5px,#ff7272 176.5px,#ffb1b1 177.5px,#fff9f9 178.5px,#babaff 179.5px,#2828ff 181.5px,#0000ed 182.5px,#0000c8 183.5px,#0000ae 184.5px,#0000a0 185.5px,#00009c 186.5px,#0000a1 187.5px,#0000b0 188.5px,#0000cb 189.5px,#0000f1 190.5px,#2c2cff 191.5px,#f5f5ff 194.5px,#ffcbcb 195.5px,#f99 196.5px,#ff7676 197.5px,#ff6161 198.5px,#ff5a5a 199.5px,#ff5d5d 200.5px,#ff6f6f 201.5px,#ff9090 202.5px,#ffbebe 203.5px,#fff6f6 204.5px,#ceceff 205.5px,#9494ff 206.5px)"></i><i style="top:215px;background:linear-gradient(90deg,#00007a 0.5px,#000051 1.5px,#00004d 5.5px,#000070 6.5px,#0000a8 7.5px,#0000f0 8.5px,#6060ff 9.5px,#dbdbff 10.5px,#ffa9a9 11.5px,#ff3939 12.5px,#ec0000 13.5px,#c90000 14.5px,#b40000 15.5px,#a70000 17.5px,#ad0000 18.5px,#bf0000 19.5px,#df0000 20.5px,#ff1616 21.5px,#ffe5e5 23.5px,#b0b0ff 24.5px,#4f4fff 25.5px,#00f 26.5px,#0000d9 27.5px,#0000c5 28.5px,#0000bf 29.5px,#0000c4 30.5px,#0000d5 31.5px,#0000f5 32.5px,#3a3aff 33.5px,#fff9f9 35.5px,#ff1717 37.5px,#d70000 38.5px,#ab0000 39.5px,#8d0000 40.5px,#800000 41.5px,#800000 44.5px,#920000 45.5px,#b30000 46.5px,#e00000 47.5px,#ff2b2b 48.5px,#ff9a9a 49.5px,#f6f6ff 50.5px,#8f8fff 51.5px,#3838ff 52.5px,#0000f9 53.5px,#00d 54.5px,#0000d0 55.5px,#00c 56.5px,#0000d3 57.5px,#0000e9 58.5px,#1818ff 59.5px,#6767ff 60.5px,#c3c3ff 61.5px,#ffdada 62.5px,#ff2020 64.5px,#ea0000 65.5px,#d00000 66.5px,#c30000 67.5px,#c30000 69.5px,#ce0000 70.5px,#e40000 71.5px,#ff0d0d 72.5px,#f66 73.5px,#ffcdcd 74.5px,#c4c4ff 75.5px,#5959ff 76.5px,#0000f7 77.5px,#00b 78.5px,#00008e 79.5px,#000072 80.5px,#000065 81.5px,#000062 82.5px,#000069 83.5px,#00007e 84.5px,#0000a4 85.5px,#0000d9 86.5px,#2525ff 87.5px,#e7e7ff 89.5px,#ffbcbc 90.5px,#ff6e6e 91.5px,#ff3434 92.5px,#ff1212 93.5px,#ff0202 94.5px,#f00 95.5px,#ff0b0b 96.5px,#ff2828 97.5px,#ff5c5c 98.5px,#ffa5a5 99.5px,#fffcfc 100.5px,#4c4cff 102.5px,#0000f9 103.5px,#0000c7 104.5px,#0000a3 105.5px,#000090 106.5px,#00008a 107.5px,#00008e 108.5px,#00009b 109.5px,#0000b5 110.5px,#0000df 111.5px,#22f 112.5px,#e5e5ff 114.5px,#ffb4b4 115.5px,#f55 116.5px,#ff0303 117.5px,#e10000 118.5px,#c00 119.5px,#bd0000 121.5px,#bf0000 122.5px,#ca0000 123.5px,#df0000 124.5px,#ff0101 125.5px,#ffa3a3 127.5px,#fff7f7 128.5px,#7373ff 130.5px,#4141ff 131.5px,#2323ff 132.5px,#1818ff 133.5px,#1a1aff 134.5px,#2727ff 135.5px,#44f 136.5px,#7676ff 137.5px,#bbf 138.5px,#fff1f1 139.5px,#ff4242 141.5px,#f70000 142.5px,#d40000 143.5px,#ba0000 144.5px,#a00 145.5px,#a40000 147.5px,#ab0000 148.5px,#ba0000 149.5px,#d20000 150.5px,#f50000 151.5px,#ff3f3f 152.5px,#fff3f3 154.5px,#b5b5ff 155.5px,#6969ff 156.5px,#2e2eff 157.5px,#0707ff 158.5px,#00e 160.5px,#0000ef 161.5px,#0000fb 162.5px,#1e1eff 163.5px,#5454ff 164.5px,#e2e2ff 166.5px,#ffd2d2 167.5px,#ff8c8c 168.5px,#ff5050 169.5px,#ff2424 170.5px,#ff0b0b 171.5px,#ff0303 172.5px,#ff0707 173.5px,#ff1616 174.5px,#f33 175.5px,#ff6262 176.5px,#ffa3a3 177.5px,#fff0f0 178.5px,#babaff 179.5px,#1818ff 181.5px,#0000df 182.5px,#0000ba 183.5px,#0000a2 184.5px,#000095 185.5px,#000096 187.5px,#0000a4 188.5px,#0000bf 189.5px,#0000e7 190.5px,#2323ff 191.5px,#bdbdff 193.5px,#fff7f7 194.5px,#ffb5b5 195.5px,#ff8181 196.5px,#ff5f5f 197.5px,#ff4c4c 198.5px,#ff4545 199.5px,#ff4747 200.5px,#ff5656 201.5px,#ff7676 202.5px,#ffa6a6 203.5px,#ffe3e3 204.5px,#d9d9ff 205.5px,#9696ff 206.5px)"></i><i style="top:216px;background:linear-gradient(90deg,#00006f 0.5px,#00004c 1.5px,#00004c 5.5px,#000067 6.5px,#00009e 7.5px,#0000e9 8.5px,#5e5eff 9.5px,#e4e4ff 10.5px,#ff9696 11.5px,#ff1e1e 12.5px,#de0000 13.5px,#bc0000 14.5px,#a90000 15.5px,#9d0000 17.5px,#a20000 18.5px,#b20000 19.5px,#d10000 20.5px,#fe0000 21.5px,#ff6c6c 22.5px,#ffe1e1 23.5px,#aaf 24.5px,#4242ff 25.5px,#0000f4 26.5px,#0000ce 27.5px,#0000bc 28.5px,#0000b9 29.5px,#0000bd 30.5px,#0000cb 31.5px,#0000e8 32.5px,#2727ff 33.5px,#88f 34.5px,#fcfcff 35.5px,#ff0d0d 37.5px,#ce0000 38.5px,#a20000 39.5px,#840000 40.5px,#800000 44.5px,#8a0000 45.5px,#ab0000 46.5px,#da0000 47.5px,#ff2727 48.5px,#ffa0a0 49.5px,#e6e6ff 50.5px,#7878ff 51.5px,#1e1eff 52.5px,#0000e8 53.5px,#0000ce 54.5px,#0000c3 55.5px,#0000bf 56.5px,#0000c4 57.5px,#0000d7 58.5px,#0000fd 59.5px,#4f4fff 60.5px,#b2b2ff 61.5px,#ffe1e1 62.5px,#f77 63.5px,#ff1717 64.5px,#e40000 65.5px,#cb0000 66.5px,#bf0000 67.5px,#c10000 69.5px,#ca0000 70.5px,#de0000 71.5px,#f00 72.5px,#ff5b5b 73.5px,#ffc8c8 74.5px,#c0c0ff 75.5px,#4c4cff 76.5px,#0000e9 77.5px,#0000ac 78.5px,#000080 79.5px,#000067 80.5px,#00005c 81.5px,#000059 82.5px,#00005e 83.5px,#000071 84.5px,#000097 85.5px,#0000ce 86.5px,#1c1cff 87.5px,#f1f1ff 89.5px,#faa 90.5px,#ff5959 91.5px,#ff2020 92.5px,#f00 93.5px,#f70000 95.5px,#fb0000 96.5px,#ff1313 97.5px,#ff4545 98.5px,#ff9090 99.5px,#ffecec 100.5px,#aeaeff 101.5px,#4a4aff 102.5px,#0000f3 103.5px,#0000bf 104.5px,#00009d 105.5px,#00008b 106.5px,#000087 107.5px,#000097 109.5px,#0000af 110.5px,#0000d8 111.5px,#1a1aff 112.5px,#7f7fff 113.5px,#ebebff 114.5px,#ffa6a6 115.5px,#ff4040 116.5px,#f50000 117.5px,#d60000 118.5px,#c30000 119.5px,#b50000 121.5px,#b60000 122.5px,#bf0000 123.5px,#d50000 124.5px,#f60000 125.5px,#ff4242 126.5px,#fffcfc 128.5px,#acacff 129.5px,#6464ff 130.5px,#3232ff 131.5px,#1717ff 132.5px,#0e0eff 133.5px,#1010ff 134.5px,#1a1aff 135.5px,#3434ff 136.5px,#6464ff 137.5px,#aaf 138.5px,#fffdfd 139.5px,#ff3f3f 141.5px,#f20000 142.5px,#ce0000 143.5px,#b40000 144.5px,#a60000 145.5px,#a20000 147.5px,#b50000 149.5px,#ce0000 150.5px,#f10000 151.5px,#ff3d3d 152.5px,#fefeff 154.5px,#a2a2ff 155.5px,#5353ff 156.5px,#1818ff 157.5px,#0000f6 158.5px,#0000e2 160.5px,#0000e2 161.5px,#0000ec 162.5px,#0707ff 163.5px,#3f3fff 164.5px,#88f 165.5px,#d9d9ff 166.5px,#ffd3d3 167.5px,#ff8787 168.5px,#ff4747 169.5px,#ff1b1b 170.5px,#ff0404 171.5px,#ff0303 173.5px,#ff0f0f 174.5px,#ff2929 175.5px,#ff5656 176.5px,#ff9898 177.5px,#ffeaea 178.5px,#bbf 179.5px,#0c0cff 181.5px,#0000d5 182.5px,#0000b0 183.5px,#00009a 184.5px,#00008d 186.5px,#000090 187.5px,#00009d 188.5px,#0000b7 189.5px,#0000e0 190.5px,#1e1eff 191.5px,#c6c6ff 193.5px,#ffe7e7 194.5px,#ffa2a2 195.5px,#ff6e6e 196.5px,#ff4e4e 197.5px,#ff3d3d 198.5px,#ff3737 200.5px,#ff4343 201.5px,#ff6161 202.5px,#ff9292 203.5px,#ffd3d3 204.5px,#e3e3ff 205.5px,#99f 206.5px)"></i><i style="top:217px;background:linear-gradient(90deg,#000069 0.5px,#00004c 1.5px,#00004c 5.5px,#000063 6.5px,#009 7.5px,#0000e6 8.5px,#5f5fff 9.5px,#ececff 10.5px,#ff8787 11.5px,#ff0b0b 12.5px,#d40000 13.5px,#b30000 14.5px,#a20000 15.5px,#970000 17.5px,#9a0000 18.5px,#a90000 19.5px,#c80000 20.5px,#f60000 21.5px,#ff6161 22.5px,#fdd 23.5px,#a7a7ff 24.5px,#3a3aff 25.5px,#0000ed 26.5px,#0000c9 27.5px,#0000b9 28.5px,#00b 30.5px,#0000c6 31.5px,#0000e1 32.5px,#1b1bff 33.5px,#7e7eff 34.5px,#f6f6ff 35.5px,#ff8686 36.5px,#ff0707 37.5px,#ca0000 38.5px,#9d0000 39.5px,#800000 40.5px,#800000 44.5px,#870000 45.5px,#a70000 46.5px,#d70000 47.5px,#ff2626 48.5px,#ffa6a6 49.5px,#dadaff 50.5px,#6767ff 51.5px,#0c0cff 52.5px,#0000dc 53.5px,#0000c4 54.5px,#0000b6 56.5px,#0000b9 57.5px,#0000ca 58.5px,#0000f0 59.5px,#3d3dff 60.5px,#a5a5ff 61.5px,#ffe8e8 62.5px,#f77 63.5px,#ff1313 64.5px,#e10000 65.5px,#c90000 66.5px,#be0000 67.5px,#c10000 69.5px,#c90000 70.5px,#db0000 71.5px,#fb0000 72.5px,#f55 73.5px,#ffc6c6 74.5px,#bdbdff 75.5px,#4242ff 76.5px,#0000e0 77.5px,#0000a2 78.5px,#007 79.5px,#000060 80.5px,#005 82.5px,#000059 83.5px,#00006a 84.5px,#00008f 85.5px,#0000c8 86.5px,#1717ff 87.5px,#f9f9ff 89.5px,#ff9e9e 90.5px,#ff4b4b 91.5px,#ff1313 92.5px,#f90000 93.5px,#f30000 95.5px,#ff0303 97.5px,#ff3434 98.5px,#ff8080 99.5px,#ffe0e0 100.5px,#b5b5ff 101.5px,#4b4bff 102.5px,#0000f1 103.5px,#0000bd 104.5px,#00009b 105.5px,#00008b 106.5px,#00008d 108.5px,#000097 109.5px,#0000ad 110.5px,#0000d5 111.5px,#1717ff 112.5px,#7f7fff 113.5px,#f1f1ff 114.5px,#ff9a9a 115.5px,#ff3131 116.5px,#ec0000 117.5px,#ce0000 118.5px,#bc0000 119.5px,#b00000 121.5px,#b00000 122.5px,#b90000 123.5px,#ce0000 124.5px,#ef0000 125.5px,#ff3838 126.5px,#fffefe 128.5px,#a5a5ff 129.5px,#5c5cff 130.5px,#2a2aff 131.5px,#11f 132.5px,#0a0aff 133.5px,#1313ff 135.5px,#2a2aff 136.5px,#5858ff 137.5px,#9f9fff 138.5px,#f8f8ff 139.5px,#ffa2a2 140.5px,#ff3e3e 141.5px,#f00000 142.5px,#cb0000 143.5px,#b20000 144.5px,#a50000 145.5px,#a30000 147.5px,#b40000 149.5px,#c00 150.5px,#f00000 151.5px,#ff3d3d 152.5px,#ffa3a3 153.5px,#f3f3ff 154.5px,#9393ff 155.5px,#4343ff 156.5px,#0909ff 157.5px,#0000ed 158.5px,#0000db 160.5px,#0000d9 161.5px,#0000e2 162.5px,#0000f9 163.5px,#3030ff 164.5px,#7b7bff 165.5px,#d1d1ff 166.5px,#ffd5d5 167.5px,#ff8585 168.5px,#f44 169.5px,#ff1818 170.5px,#ff0202 171.5px,#ff0303 173.5px,#ff0d0d 174.5px,#ff2424 175.5px,#ff5050 176.5px,#ff9292 177.5px,#ffe5e5 178.5px,#bbf 179.5px,#0404ff 181.5px,#0000cf 182.5px,#00a 183.5px,#000096 184.5px,#00008c 186.5px,#00008e 187.5px,#00009a 188.5px,#0000b3 189.5px,#0000dc 190.5px,#1c1cff 191.5px,#ceceff 193.5px,#ffdcdc 194.5px,#ff9595 195.5px,#ff6161 196.5px,#ff4242 197.5px,#f33 198.5px,#ff2c2c 200.5px,#ff3636 201.5px,#ff5252 202.5px,#ff8383 203.5px,#ffc6c6 204.5px,#ececff 205.5px,#9d9dff 206.5px)"></i><i style="top:218px;background:linear-gradient(90deg,#00006a 0.5px,#00004c 1.5px,#00004c 5.5px,#000064 6.5px,#00009a 7.5px,#0000e7 8.5px,#6464ff 9.5px,#f4f4ff 10.5px,#ff7d7d 11.5px,#f00 12.5px,#ce0000 13.5px,#ae0000 14.5px,#9d0000 15.5px,#930000 17.5px,#960000 18.5px,#a40000 19.5px,#c20000 20.5px,#f10000 21.5px,#ff5a5a 22.5px,#ffd9d9 23.5px,#a7a7ff 24.5px,#3939ff 25.5px,#0000ec 26.5px,#0000c8 27.5px,#0000b8 28.5px,#0000ba 30.5px,#0000c4 31.5px,#0000de 32.5px,#1616ff 33.5px,#7979ff 34.5px,#f3f3ff 35.5px,#ff8787 36.5px,#ff0505 37.5px,#c80000 38.5px,#9c0000 39.5px,#800000 40.5px,#800000 44.5px,#870000 45.5px,#a70000 46.5px,#d80000 47.5px,#ff2929 48.5px,#ffabab 49.5px,#d1d1ff 50.5px,#5d5dff 51.5px,#0101ff 52.5px,#0000d4 53.5px,#0000be 54.5px,#0000b1 56.5px,#0000b2 57.5px,#0000c3 58.5px,#0000e8 59.5px,#3232ff 60.5px,#9c9cff 61.5px,#fee 62.5px,#ff7b7b 63.5px,#ff1515 64.5px,#e20000 65.5px,#ca0000 66.5px,#bf0000 67.5px,#ca0000 70.5px,#db0000 71.5px,#fb0000 72.5px,#f55 73.5px,#ffc7c7 74.5px,#babaff 75.5px,#3d3dff 76.5px,#0000dc 77.5px,#00009d 78.5px,#000074 79.5px,#00005e 80.5px,#000054 82.5px,#000057 83.5px,#000068 84.5px,#00008d 85.5px,#0000c6 86.5px,#1717ff 87.5px,#fefeff 89.5px,#ff9797 90.5px,#ff4343 91.5px,#ff0b0b 92.5px,#f60000 93.5px,#f10000 96.5px,#fc0000 97.5px,#ff2a2a 98.5px,#ff7676 99.5px,#ffd7d7 100.5px,#bbf 101.5px,#5050ff 102.5px,#0000f3 103.5px,#0000be 104.5px,#00009d 105.5px,#00008e 106.5px,#000091 108.5px,#00009a 109.5px,#0000af 110.5px,#0000d6 111.5px,#1a1aff 112.5px,#8383ff 113.5px,#f7f7ff 114.5px,#ff9393 115.5px,#ff2828 116.5px,#e80000 117.5px,#ca0000 118.5px,#b80000 119.5px,#ad0000 122.5px,#b50000 123.5px,#ca0000 124.5px,#ec0000 125.5px,#f33 126.5px,#fffefe 128.5px,#a3a3ff 129.5px,#5858ff 130.5px,#2727ff 131.5px,#0e0eff 132.5px,#0909ff 134.5px,#0f0fff 135.5px,#2525ff 136.5px,#5252ff 137.5px,#9898ff 138.5px,#f3f3ff 139.5px,#ffa6a6 140.5px,#ff4040 141.5px,#f10000 142.5px,#c00 143.5px,#b30000 144.5px,#a70000 145.5px,#a00 148.5px,#b60000 149.5px,#cd0000 150.5px,#f10000 151.5px,#ff4141 152.5px,#ffa9a9 153.5px,#ebebff 154.5px,#8989ff 155.5px,#3838ff 156.5px,#0000fe 157.5px,#0000e6 158.5px,#0000d6 160.5px,#0000d4 161.5px,#0000db 162.5px,#0000f2 163.5px,#2727ff 164.5px,#7373ff 165.5px,#cbcbff 166.5px,#ffd9d9 167.5px,#ff8787 168.5px,#f44 169.5px,#ff1919 170.5px,#ff0404 171.5px,#ff0101 172.5px,#ff0e0e 174.5px,#ff2424 175.5px,#ff4e4e 176.5px,#ff9090 177.5px,#ffe4e4 178.5px,#bbf 179.5px,#0101ff 181.5px,#0000cd 182.5px,#0000a9 183.5px,#000095 184.5px,#00008d 186.5px,#00008f 187.5px,#00009a 188.5px,#0000b3 189.5px,#00d 190.5px,#1d1dff 191.5px,#d4d4ff 193.5px,#ffd4d4 194.5px,#ff8c8c 195.5px,#ff5858 196.5px,#ff3a3a 197.5px,#ff2c2c 198.5px,#ff2424 200.5px,#ff2d2d 201.5px,#ff4848 202.5px,#ff7a7a 203.5px,#ffbdbd 204.5px,#f3f3ff 205.5px,#a3a3ff 206.5px)"></i><i style="top:219px;background:linear-gradient(90deg,#00006e 0.5px,#00004c 1.5px,#00004c 5.5px,#000069 6.5px,#00009f 7.5px,#0000ec 8.5px,#6969ff 9.5px,#f8f8ff 10.5px,#ff7a7a 11.5px,#fe0000 12.5px,#cd0000 13.5px,#ad0000 14.5px,#9c0000 15.5px,#920000 17.5px,#940000 18.5px,#a30000 19.5px,#c20000 20.5px,#f10000 21.5px,#ff5858 22.5px,#ffd7d7 23.5px,#aaf 24.5px,#3c3cff 25.5px,#00e 26.5px,#0000c9 27.5px,#0000b9 28.5px,#0000ba 30.5px,#0000c4 31.5px,#0000df 32.5px,#1616ff 33.5px,#7979ff 34.5px,#f2f2ff 35.5px,#ff8989 36.5px,#ff0909 37.5px,#ca0000 38.5px,#9e0000 39.5px,#820000 40.5px,#800000 44.5px,#8a0000 45.5px,#ab0000 46.5px,#db0000 47.5px,#ff2f2f 48.5px,#ffb0b0 49.5px,#cdcdff 50.5px,#5959ff 51.5px,#0000fd 52.5px,#0000d2 53.5px,#00b 54.5px,#0000ad 56.5px,#0000af 57.5px,#0000c0 58.5px,#0000e6 59.5px,#2f2fff 60.5px,#9898ff 61.5px,#fff2f2 62.5px,#ff8080 63.5px,#ff1a1a 64.5px,#e50000 65.5px,#c00 66.5px,#c20000 67.5px,#c40000 69.5px,#c00 70.5px,#d00 71.5px,#fd0000 72.5px,#ff5858 73.5px,#ffc9c9 74.5px,#b9b9ff 75.5px,#3e3eff 76.5px,#0000dc 77.5px,#00009e 78.5px,#000075 79.5px,#00005f 80.5px,#005 82.5px,#000059 83.5px,#00006a 84.5px,#00008f 85.5px,#0000c9 86.5px,#1b1bff 87.5px,#fffdfd 89.5px,#ff9595 90.5px,#ff4141 91.5px,#ff0808 92.5px,#f40000 93.5px,#ef0000 96.5px,#fa0000 97.5px,#ff2727 98.5px,#ff7272 99.5px,#ffd3d3 100.5px,#c0c0ff 101.5px,#5656ff 102.5px,#0000f8 103.5px,#0000c3 104.5px,#0000a1 105.5px,#000092 106.5px,#000095 108.5px,#00009e 109.5px,#0000b3 110.5px,#0000db 111.5px,#2020ff 112.5px,#88f 113.5px,#fbfbff 114.5px,#ff2626 116.5px,#e70000 117.5px,#c90000 118.5px,#b80000 119.5px,#ad0000 122.5px,#b50000 123.5px,#ca0000 124.5px,#ec0000 125.5px,#ff3434 126.5px,#fffefe 128.5px,#a3a3ff 129.5px,#5858ff 130.5px,#2626ff 131.5px,#0d0dff 132.5px,#0606ff 133.5px,#0d0dff 135.5px,#2323ff 136.5px,#5050ff 137.5px,#9696ff 138.5px,#f0f0ff 139.5px,#faa 140.5px,#ff4545 141.5px,#f40000 142.5px,#cf0000 143.5px,#b60000 144.5px,#a00 145.5px,#ad0000 148.5px,#b90000 149.5px,#d00000 150.5px,#f50000 151.5px,#ff4848 152.5px,#ffafaf 153.5px,#e6e6ff 154.5px,#8585ff 155.5px,#3434ff 156.5px,#0000fb 157.5px,#0000e3 158.5px,#0000d3 160.5px,#0000d1 161.5px,#0000d9 162.5px,#0000f0 163.5px,#2424ff 164.5px,#7171ff 165.5px,#c8c8ff 166.5px,#ffdcdc 167.5px,#ff8a8a 168.5px,#ff4848 169.5px,#ff1c1c 170.5px,#ff0606 171.5px,#ff0202 172.5px,#ff0f0f 174.5px,#ff2525 175.5px,#ff4f4f 176.5px,#ff9191 177.5px,#ffe4e4 178.5px,#bcbcff 179.5px,#0404ff 181.5px,#0000cf 182.5px,#0000ab 183.5px,#000098 184.5px,#00008f 186.5px,#000092 187.5px,#00009d 188.5px,#0000b7 189.5px,#0000e1 190.5px,#2323ff 191.5px,#d8d8ff 193.5px,#ffd0d0 194.5px,#f88 195.5px,#ff5454 196.5px,#ff3535 197.5px,#ff2626 198.5px,#ff1e1e 200.5px,#ff2828 201.5px,#f44 202.5px,#ff7575 203.5px,#f8f8ff 205.5px,#a9a9ff 206.5px)"></i><i style="top:220px;background:linear-gradient(90deg,#007 0.5px,#000051 1.5px,#00004c 4.5px,#000051 5.5px,#000071 6.5px,#0000a7 7.5px,#0000f3 8.5px,#7171ff 9.5px,#fbfbff 10.5px,#ff7b7b 11.5px,#ff0202 12.5px,#cf0000 13.5px,#ae0000 14.5px,#9d0000 15.5px,#920000 17.5px,#960000 18.5px,#a60000 19.5px,#c60000 20.5px,#f40000 21.5px,#ff5c5c 22.5px,#ffd7d7 23.5px,#afafff 24.5px,#4343ff 25.5px,#0000f3 26.5px,#0000cd 27.5px,#00b 28.5px,#00b 30.5px,#0000c6 31.5px,#0000e2 32.5px,#1b1bff 33.5px,#7d7dff 34.5px,#f2f2ff 35.5px,#ff8d8d 36.5px,#f11 37.5px,#d00000 38.5px,#a40000 39.5px,#870000 40.5px,#800000 42.5px,#800000 44.5px,#900000 45.5px,#b10000 46.5px,#e10000 47.5px,#ff3737 48.5px,#ffb5b5 49.5px,#ccf 50.5px,#5b5bff 51.5px,#00f 52.5px,#0000d3 53.5px,#0000ba 54.5px,#0000ac 56.5px,#0000b0 57.5px,#0000c2 58.5px,#0000e8 59.5px,#3232ff 60.5px,#99f 61.5px,#fff6f6 62.5px,#ff8787 63.5px,#ff2323 64.5px,#e90000 65.5px,#d00000 66.5px,#c40000 67.5px,#c60000 69.5px,#ce0000 70.5px,#e00000 71.5px,#ff0303 72.5px,#ff5e5e 73.5px,#ffcdcd 74.5px,#b9b9ff 75.5px,#4242ff 76.5px,#0000e2 77.5px,#0000a5 78.5px,#00007a 79.5px,#000063 80.5px,#000058 82.5px,#00005e 83.5px,#000071 84.5px,#000097 85.5px,#0000d0 86.5px,#2323ff 87.5px,#fffcfc 89.5px,#ff9696 90.5px,#ff4343 91.5px,#ff0909 92.5px,#f40000 93.5px,#ec0000 95.5px,#ef0000 96.5px,#fb0000 97.5px,#ff2828 98.5px,#ff7373 99.5px,#ffd1d1 100.5px,#c5c5ff 101.5px,#5e5eff 102.5px,#0101ff 103.5px,#0000cb 104.5px,#0000a8 105.5px,#000098 106.5px,#009 108.5px,#0000a3 109.5px,#0000ba 110.5px,#0000e2 111.5px,#2929ff 112.5px,#8f8fff 113.5px,#fefeff 114.5px,#ff2a2a 116.5px,#e90000 117.5px,#cb0000 118.5px,#b90000 119.5px,#ae0000 121.5px,#af0000 122.5px,#b80000 123.5px,#ce0000 124.5px,#f00000 125.5px,#ff3a3a 126.5px,#fffdfd 128.5px,#a6a6ff 129.5px,#5c5cff 130.5px,#2929ff 131.5px,#0e0eff 132.5px,#0404ff 133.5px,#0d0dff 135.5px,#2424ff 136.5px,#5252ff 137.5px,#9797ff 138.5px,#efefff 139.5px,#ffaeae 140.5px,#ff4d4d 141.5px,#f90000 142.5px,#d40000 143.5px,#b00 144.5px,#ae0000 145.5px,#ac0000 147.5px,#be0000 149.5px,#d60000 150.5px,#fa0000 151.5px,#ff5151 152.5px,#ffb5b5 153.5px,#e4e4ff 154.5px,#8585ff 155.5px,#3636ff 156.5px,#0000fc 157.5px,#0000e3 158.5px,#0000d1 160.5px,#0000d1 161.5px,#0000da 162.5px,#0000f2 163.5px,#2727ff 164.5px,#7373ff 165.5px,#c8c8ff 166.5px,#ffe0e0 167.5px,#ff9090 168.5px,#ff4e4e 169.5px,#ff2121 170.5px,#ff0a0a 171.5px,#ff0404 172.5px,#f11 174.5px,#ff2828 175.5px,#ff5353 176.5px,#ff9494 177.5px,#ffe5e5 178.5px,#bebeff 179.5px,#0c0cff 181.5px,#0000d6 182.5px,#0000b2 183.5px,#00009d 184.5px,#000093 186.5px,#000097 187.5px,#0000a4 188.5px,#0000be 189.5px,#0000e8 190.5px,#2c2cff 191.5px,#dcdcff 193.5px,#ffcece 194.5px,#ff8787 195.5px,#ff5353 196.5px,#f33 197.5px,#ff2323 198.5px,#ff1b1b 200.5px,#ff2626 201.5px,#f44 202.5px,#ff7575 203.5px,#fcfcff 205.5px,#afafff 206.5px)"></i><i style="top:221px;background:linear-gradient(90deg,#000085 0.5px,#00005d 1.5px,#00004c 2.5px,#00004c 4.5px,#00005b 5.5px,#00007d 6.5px,#0000b4 7.5px,#00f 8.5px,#fdfdff 10.5px,#ff8181 11.5px,#ff0c0c 12.5px,#d50000 13.5px,#b30000 14.5px,#a00000 15.5px,#950000 17.5px,#9b0000 18.5px,#ac0000 19.5px,#c00 20.5px,#fa0000 21.5px,#ff6363 22.5px,#ffd6d6 23.5px,#b6b6ff 24.5px,#4e4eff 25.5px,#0000fb 26.5px,#0000d4 27.5px,#0000c0 28.5px,#0000ba 29.5px,#0000be 30.5px,#0000cb 31.5px,#0000e8 32.5px,#2525ff 33.5px,#8585ff 34.5px,#f5f5ff 35.5px,#ff9292 36.5px,#ff1d1d 37.5px,#d80000 38.5px,#ad0000 39.5px,#900000 40.5px,#800000 41.5px,#840000 44.5px,#980000 45.5px,#ba0000 46.5px,#e90000 47.5px,#ff4343 48.5px,#ffbaba 49.5px,#ceceff 50.5px,#6262ff 51.5px,#0808ff 52.5px,#0000d8 53.5px,#0000bd 54.5px,#0000b1 55.5px,#0000ad 56.5px,#0000b3 57.5px,#0000c8 58.5px,#0000ef 59.5px,#3a3aff 60.5px,#fff9f9 62.5px,#ff9090 63.5px,#ff3131 64.5px,#f10000 65.5px,#d70000 66.5px,#c90000 67.5px,#c90000 69.5px,#d30000 70.5px,#e60000 71.5px,#ff0f0f 72.5px,#ff6969 73.5px,#ffd2d2 74.5px,#bbf 75.5px,#4b4bff 76.5px,#0000eb 77.5px,#0000af 78.5px,#000084 79.5px,#00006b 80.5px,#000061 81.5px,#00005f 82.5px,#006 83.5px,#00007c 84.5px,#0000a3 85.5px,#0000db 86.5px,#2e2eff 87.5px,#fffdfd 89.5px,#ff9b9b 90.5px,#ff4a4a 91.5px,#ff0f0f 92.5px,#f50000 93.5px,#ec0000 95.5px,#f00000 96.5px,#fd0000 97.5px,#ff2f2f 98.5px,#ff7979 99.5px,#ffd3d3 100.5px,#cacaff 101.5px,#1010ff 103.5px,#0000d7 104.5px,#0000b3 105.5px,#0000a1 106.5px,#00009c 107.5px,#00009f 108.5px,#0000ab 109.5px,#0000c3 110.5px,#0000ec 111.5px,#3636ff 112.5px,#fffdfd 114.5px,#ff3232 116.5px,#e00 117.5px,#d00000 118.5px,#bd0000 119.5px,#b00000 121.5px,#b30000 122.5px,#be0000 123.5px,#d40000 124.5px,#f60000 125.5px,#ff4242 126.5px,#fffbfb 128.5px,#acacff 129.5px,#6464ff 130.5px,#2f2fff 131.5px,#11f 132.5px,#0505ff 133.5px,#0505ff 134.5px,#0f0fff 135.5px,#2929ff 136.5px,#5858ff 137.5px,#9c9cff 138.5px,#f0f0ff 139.5px,#ffb2b2 140.5px,#ff0202 142.5px,#d00 143.5px,#c30000 144.5px,#b50000 145.5px,#b10000 147.5px,#c50000 149.5px,#ff0606 151.5px,#fbb 153.5px,#e3e3ff 154.5px,#8989ff 155.5px,#3b3bff 156.5px,#0101ff 157.5px,#0000e5 158.5px,#0000d2 160.5px,#0000d3 161.5px,#0000de 162.5px,#0000f8 163.5px,#2f2fff 164.5px,#c8c8ff 166.5px,#ffe5e5 167.5px,#f99 168.5px,#ff5858 169.5px,#ff2a2a 170.5px,#f11 171.5px,#ff0808 172.5px,#ff0a0a 173.5px,#ff1515 174.5px,#ff2e2e 175.5px,#ff5b5b 176.5px,#ff9a9a 177.5px,#ffe9e9 178.5px,#bfbfff 179.5px,#1818ff 181.5px,#0000df 182.5px,#00b 183.5px,#0000a5 184.5px,#00009a 186.5px,#00009f 187.5px,#0000ad 188.5px,#0000c9 189.5px,#0000f2 190.5px,#3838ff 191.5px,#dfdfff 193.5px,#ffd0d0 194.5px,#ff8a8a 195.5px,#f55 196.5px,#f33 197.5px,#f22 198.5px,#ff1a1a 199.5px,#ff1b1b 200.5px,#ff2828 201.5px,#ff4747 202.5px,#ff7979 203.5px,#fff 205.5px,#b7b7ff 206.5px)"></i><i style="top:222px;background:linear-gradient(90deg,#000097 0.5px,#00006e 1.5px,#000058 2.5px,#000051 3.5px,#000057 4.5px,#00006a 5.5px,#00008e 6.5px,#0000c6 7.5px,#1414ff 8.5px,#fff 10.5px,#ff1b1b 12.5px,#de0000 13.5px,#bc0000 14.5px,#a70000 15.5px,#9d0000 16.5px,#9b0000 17.5px,#a30000 18.5px,#b60000 19.5px,#ff0707 21.5px,#ffd6d6 23.5px,#bfbfff 24.5px,#5e5eff 25.5px,#0d0dff 26.5px,#0000df 27.5px,#0000c9 28.5px,#0000c1 29.5px,#0000c4 30.5px,#0000d4 31.5px,#0000f3 32.5px,#3535ff 33.5px,#9191ff 34.5px,#fafaff 35.5px,#ff9898 36.5px,#ff2d2d 37.5px,#e30000 38.5px,#b90000 39.5px,#9b0000 40.5px,#8a0000 41.5px,#830000 42.5px,#850000 43.5px,#8f0000 44.5px,#a40000 45.5px,#c70000 46.5px,#f40000 47.5px,#ff5252 48.5px,#ffbfbf 49.5px,#d3d3ff 50.5px,#6d6dff 51.5px,#1616ff 52.5px,#0000e1 53.5px,#0000c4 54.5px,#0000b6 55.5px,#0000b3 56.5px,#00b 57.5px,#0000d2 58.5px,#0000fa 59.5px,#4747ff 60.5px,#fffbfb 62.5px,#ff4343 64.5px,#fb0000 65.5px,#e00000 66.5px,#d10000 67.5px,#cf0000 69.5px,#da0000 70.5px,#ef0000 71.5px,#ff2121 72.5px,#f77 73.5px,#ffdada 74.5px,#bcbcff 75.5px,#5656ff 76.5px,#0000f8 77.5px,#0000be 78.5px,#000092 79.5px,#000078 80.5px,#00006b 81.5px,#00006a 82.5px,#000073 83.5px,#00008b 84.5px,#0000b3 85.5px,#0000e9 86.5px,#3d3dff 87.5px,#fefeff 89.5px,#ffa4a4 90.5px,#f55 91.5px,#ff1919 92.5px,#f90000 93.5px,#e00 95.5px,#ff0707 97.5px,#ff3b3b 98.5px,#ff8282 99.5px,#ffd7d7 100.5px,#ceceff 101.5px,#2323ff 103.5px,#0000e6 104.5px,#0000c2 105.5px,#0000ad 106.5px,#0000a6 107.5px,#0000a9 108.5px,#0000b6 109.5px,#0000d1 110.5px,#0000fa 111.5px,#4848ff 112.5px,#fffafa 114.5px,#ff3e3e 116.5px,#f60000 117.5px,#d70000 118.5px,#c30000 119.5px,#b60000 121.5px,#b90000 122.5px,#c60000 123.5px,#d00 124.5px,#fe0000 125.5px,#ffa3a3 127.5px,#fff8f8 128.5px,#6f6fff 130.5px,#3a3aff 131.5px,#1a1aff 132.5px,#0b0bff 133.5px,#0a0aff 134.5px,#1616ff 135.5px,#3232ff 136.5px,#6262ff 137.5px,#a5a5ff 138.5px,#f4f4ff 139.5px,#ffb7b7 140.5px,#ff1515 142.5px,#e70000 143.5px,#ce0000 144.5px,#be0000 145.5px,#b90000 147.5px,#c00000 148.5px,#cf0000 149.5px,#e90000 150.5px,#ff1919 151.5px,#ffc2c2 153.5px,#e4e4ff 154.5px,#9090ff 155.5px,#4545ff 156.5px,#0b0bff 157.5px,#0000eb 158.5px,#0000dc 159.5px,#0000d6 160.5px,#0000d9 161.5px,#0000e6 162.5px,#0202ff 163.5px,#3a3aff 164.5px,#c9c9ff 166.5px,#ffebeb 167.5px,#ffa4a4 168.5px,#f66 169.5px,#ff3838 170.5px,#ff1c1c 171.5px,#ff1010 172.5px,#f11 173.5px,#ff1e1e 174.5px,#ff3939 175.5px,#f66 176.5px,#ffa4a4 177.5px,#fee 178.5px,#c1c1ff 179.5px,#2727ff 181.5px,#0000ec 182.5px,#0000c8 183.5px,#0000b1 184.5px,#0000a6 185.5px,#0000a4 186.5px,#00a 187.5px,#0000ba 188.5px,#0000d7 189.5px,#0101ff 190.5px,#9494ff 192.5px,#e1e1ff 193.5px,#ffd3d3 194.5px,#ff9191 195.5px,#ff5c5c 196.5px,#ff3838 197.5px,#ff2424 198.5px,#ff1c1c 199.5px,#ff1f1f 200.5px,#ff2f2f 201.5px,#ff4f4f 202.5px,#ff8080 203.5px,#fffdfd 205.5px,#bfbfff 206.5px)"></i><i style="top:223px;background:linear-gradient(90deg,#0000ae 0.5px,#000084 1.5px,#00006c 2.5px,#000064 3.5px,#00006a 4.5px,#00007f 5.5px,#0000a4 6.5px,#0000db 7.5px,#2d2dff 8.5px,#fffefe 10.5px,#ff3030 12.5px,#ea0000 13.5px,#c80000 14.5px,#b20000 15.5px,#a70000 16.5px,#a50000 17.5px,#ae0000 18.5px,#c30000 19.5px,#e40000 20.5px,#ff1c1c 21.5px,#ffd6d6 23.5px,#cbcbff 24.5px,#7272ff 25.5px,#2424ff 26.5px,#0000ef 27.5px,#0000d6 28.5px,#0000cd 29.5px,#0000d0 30.5px,#0000e1 31.5px,#0404ff 32.5px,#4a4aff 33.5px,#fff 35.5px,#ff3f3f 37.5px,#f10000 38.5px,#c90000 39.5px,#a00 40.5px,#980000 41.5px,#900000 42.5px,#920000 43.5px,#9d0000 44.5px,#b40000 45.5px,#ff0404 47.5px,#ffc4c4 49.5px,#dadaff 50.5px,#7c7cff 51.5px,#2929ff 52.5px,#00e 53.5px,#0000d0 54.5px,#0000c0 55.5px,#0000bd 56.5px,#0000c7 57.5px,#0000e0 58.5px,#0d0dff 59.5px,#5757ff 60.5px,#fffefe 62.5px,#ff5858 64.5px,#f11 65.5px,#ec0000 66.5px,#dc0000 67.5px,#d60000 68.5px,#d80000 69.5px,#e40000 70.5px,#fa0000 71.5px,#ff3737 72.5px,#ff8989 73.5px,#ffe3e3 74.5px,#bfbfff 75.5px,#0b0bff 77.5px,#0000d0 78.5px,#0000a5 79.5px,#000089 80.5px,#00007b 81.5px,#00007a 82.5px,#000085 83.5px,#00009e 84.5px,#0000c6 85.5px,#0000fb 86.5px,#4e4eff 87.5px,#fafaff 89.5px,#ff6565 91.5px,#ff2929 92.5px,#ff0202 93.5px,#f40000 95.5px,#fa0000 96.5px,#ff1717 97.5px,#ff4b4b 98.5px,#ff8f8f 99.5px,#ffdcdc 100.5px,#d3d3ff 101.5px,#3939ff 103.5px,#0000f8 104.5px,#0000d4 105.5px,#0000be 106.5px,#0000b5 107.5px,#0000b8 108.5px,#0000c6 109.5px,#0000e2 110.5px,#11f 111.5px,#5d5dff 112.5px,#b1b1ff 113.5px,#fff7f7 114.5px,#ff4e4e 116.5px,#ff0202 117.5px,#e20000 118.5px,#cd0000 119.5px,#c20000 120.5px,#c30000 122.5px,#d10000 123.5px,#e90000 124.5px,#ff1414 125.5px,#fff3f3 128.5px,#c2c2ff 129.5px,#7f7fff 130.5px,#4a4aff 131.5px,#2727ff 132.5px,#1616ff 133.5px,#1515ff 134.5px,#22f 135.5px,#4040ff 136.5px,#7070ff 137.5px,#b0b0ff 138.5px,#f8f8ff 139.5px,#fbb 140.5px,#ff2a2a 142.5px,#f40000 143.5px,#db0000 144.5px,#cb0000 145.5px,#c40000 147.5px,#c00 148.5px,#dc0000 149.5px,#f60000 150.5px,#ff3030 151.5px,#ffcaca 153.5px,#e6e6ff 154.5px,#5353ff 156.5px,#1a1aff 157.5px,#0000f5 158.5px,#0000e4 159.5px,#0000de 160.5px,#0000e2 161.5px,#0000f1 162.5px,#1313ff 163.5px,#4a4aff 164.5px,#cacaff 166.5px,#fff2f2 167.5px,#ff7878 169.5px,#ff4949 170.5px,#ff2b2b 171.5px,#ff1d1d 172.5px,#ff1e1e 173.5px,#ff2b2b 174.5px,#ff4848 175.5px,#ff7575 176.5px,#ffb1b1 177.5px,#fff5f5 178.5px,#c2c2ff 179.5px,#3939ff 181.5px,#0000fc 182.5px,#0000d8 183.5px,#0000c1 184.5px,#0000b4 185.5px,#0000b2 186.5px,#0000b9 187.5px,#0000cb 188.5px,#0000e8 189.5px,#1818ff 190.5px,#e2e2ff 193.5px,#ffd9d9 194.5px,#ff9b9b 195.5px,#ff6767 196.5px,#ff4242 197.5px,#ff2c2c 198.5px,#ff2323 199.5px,#ff2727 200.5px,#ff3939 201.5px,#ff5b5b 202.5px,#ff8a8a 203.5px,#fffbfb 205.5px,#c9c9ff 206.5px)"></i><i style="top:224px;background:linear-gradient(90deg,#0000c9 0.5px,#00009f 1.5px,#000086 2.5px,#00007c 3.5px,#000082 4.5px,#000098 5.5px,#0000bf 6.5px,#0000f4 7.5px,#4848ff 8.5px,#fffefe 10.5px,#ff4848 12.5px,#f90000 13.5px,#d70000 14.5px,#c00000 15.5px,#b50000 16.5px,#b40000 17.5px,#be0000 18.5px,#d40000 19.5px,#f30000 20.5px,#ff3535 21.5px,#ffd6d6 23.5px,#d8d8ff 24.5px,#4040ff 26.5px,#0606ff 27.5px,#0000e9 28.5px,#0000de 29.5px,#0000e1 30.5px,#0000f3 31.5px,#1f1fff 32.5px,#6363ff 33.5px,#b3b3ff 34.5px,#fff8f8 35.5px,#ff0202 38.5px,#bd0000 40.5px,#a00 41.5px,#a10000 42.5px,#a30000 43.5px,#af0000 44.5px,#c70000 45.5px,#e80000 46.5px,#ff2121 47.5px,#ffc9c9 49.5px,#e1e1ff 50.5px,#4141ff 52.5px,#0101ff 53.5px,#0000e0 54.5px,#0000d0 55.5px,#0000cd 56.5px,#0000d8 57.5px,#0000f2 58.5px,#2626ff 59.5px,#fdfdff 62.5px,#ff2e2e 65.5px,#fb0000 66.5px,#ea0000 67.5px,#e30000 68.5px,#e50000 69.5px,#f20000 70.5px,#ff1212 71.5px,#ff5151 72.5px,#ffeded 74.5px,#c1c1ff 75.5px,#2525ff 77.5px,#0000e6 78.5px,#0000bc 79.5px,#00009f 80.5px,#000090 81.5px,#00008f 82.5px,#00009c 83.5px,#0000b6 84.5px,#0000de 85.5px,#1616ff 86.5px,#f5f5ff 89.5px,#ffbfbf 90.5px,#ff7979 91.5px,#ff3f3f 92.5px,#ff1616 93.5px,#f00 94.5px,#fd0000 95.5px,#ff0b0b 96.5px,#ff2c2c 97.5px,#ff5f5f 98.5px,#ffe3e3 100.5px,#d8d8ff 101.5px,#1515ff 104.5px,#0000ea 105.5px,#0000d3 106.5px,#0000c9 107.5px,#00c 108.5px,#0000db 109.5px,#0000f7 110.5px,#2e2eff 111.5px,#bfbfff 113.5px,#fff4f4 114.5px,#ff1b1b 117.5px,#ef0000 118.5px,#da0000 119.5px,#ce0000 120.5px,#cb0000 121.5px,#d10000 122.5px,#df0000 123.5px,#f70000 124.5px,#ff2c2c 125.5px,#fee 128.5px,#cfcfff 129.5px,#9292ff 130.5px,#5f5fff 131.5px,#3b3bff 132.5px,#2828ff 133.5px,#2626ff 134.5px,#3434ff 135.5px,#5353ff 136.5px,#8383ff 137.5px,#fff 139.5px,#ff0808 143.5px,#da0000 145.5px,#d20000 146.5px,#d20000 147.5px,#da0000 148.5px,#eb0000 149.5px,#ff0b0b 150.5px,#ffd2d2 153.5px,#e9e9ff 154.5px,#6565ff 156.5px,#2d2dff 157.5px,#0404ff 158.5px,#0000eb 160.5px,#0000f0 161.5px,#0202ff 162.5px,#2929ff 163.5px,#cdcdff 166.5px,#fffafa 167.5px,#ff8c8c 169.5px,#ff5f5f 170.5px,#ff4040 171.5px,#ff3030 172.5px,#ff3030 173.5px,#ff3e3e 174.5px,#ff5c5c 175.5px,#f88 176.5px,#fffdfd 178.5px,#1515ff 182.5px,#0000ec 183.5px,#0000d4 184.5px,#0000c7 185.5px,#0000c4 186.5px,#00c 187.5px,#0000df 188.5px,#0000fc 189.5px,#3131ff 190.5px,#e3e3ff 193.5px,#ffe0e0 194.5px,#ff7575 196.5px,#ff5050 197.5px,#ff3939 198.5px,#ff3030 199.5px,#ff3535 200.5px,#ff4848 201.5px,#ff6a6a 202.5px,#fffafa 205.5px,#d3d3ff 206.5px)"></i><i style="top:225px;background:linear-gradient(90deg,#0000e7 0.5px,#0000bf 1.5px,#0000a5 2.5px,#00009b 3.5px,#0000a1 4.5px,#0000b7 5.5px,#00d 6.5px,#1717ff 7.5px,#b5b5ff 9.5px,#fffdfd 10.5px,#ff1616 13.5px,#ea0000 14.5px,#d30000 15.5px,#c70000 16.5px,#c60000 17.5px,#d10000 18.5px,#e70000 19.5px,#ff0b0b 20.5px,#ffd6d6 23.5px,#e6e6ff 24.5px,#5f5fff 26.5px,#2727ff 27.5px,#0101ff 28.5px,#0000f4 29.5px,#0000f8 30.5px,#1010ff 31.5px,#3f3fff 32.5px,#7e7eff 33.5px,#c6c6ff 34.5px,#fff1f1 35.5px,#ff2323 38.5px,#ef0000 39.5px,#d30000 40.5px,#bf0000 41.5px,#b60000 42.5px,#b80000 43.5px,#c50000 44.5px,#dc0000 45.5px,#fc0000 46.5px,#ff8989 48.5px,#ffcfcf 49.5px,#e9e9ff 50.5px,#5b5bff 52.5px,#1e1eff 53.5px,#0000f5 54.5px,#0000e4 55.5px,#0000e2 56.5px,#00e 57.5px,#0d0dff 58.5px,#4242ff 59.5px,#fafaff 62.5px,#ffc8c8 63.5px,#ff4f4f 65.5px,#ff1c1c 66.5px,#fb0000 67.5px,#f40000 68.5px,#ff0707 70.5px,#f33 71.5px,#ff6f6f 72.5px,#fff8f8 74.5px,#c4c4ff 75.5px,#0000fe 78.5px,#0000d6 79.5px,#0000ba 80.5px,#0000ab 81.5px,#00a 82.5px,#0000b7 83.5px,#0000d2 84.5px,#0000f7 85.5px,#3434ff 86.5px,#f0f0ff 89.5px,#ffcece 90.5px,#ff5858 92.5px,#ff2f2f 93.5px,#ff1919 94.5px,#ff1515 95.5px,#ff2424 96.5px,#ff4646 97.5px,#ff7676 98.5px,#ffeaea 100.5px,#ddf 101.5px,#3636ff 104.5px,#0707ff 105.5px,#0000e2 107.5px,#0000e4 108.5px,#0000f3 109.5px,#1717ff 110.5px,#4e4eff 111.5px,#cfcfff 113.5px,#fff1f1 114.5px,#ff3636 117.5px,#fe0000 118.5px,#ea0000 119.5px,#de0000 120.5px,#db0000 121.5px,#e10000 122.5px,#f00000 123.5px,#ff0f0f 124.5px,#ffe9e9 128.5px,#dedeff 129.5px,#7676ff 131.5px,#5353ff 132.5px,#3f3fff 133.5px,#3c3cff 134.5px,#4b4bff 135.5px,#6a6aff 136.5px,#9898ff 137.5px,#cdcdff 138.5px,#fff9f9 139.5px,#ff2828 143.5px,#fc0000 144.5px,#ec0000 145.5px,#e30000 146.5px,#e30000 147.5px,#ec0000 148.5px,#fd0000 149.5px,#ff2c2c 150.5px,#ffdada 153.5px,#ececff 154.5px,#44f 157.5px,#1c1cff 158.5px,#0404ff 159.5px,#0303ff 161.5px,#1b1bff 162.5px,#4141ff 163.5px,#fdfdff 167.5px,#ff7878 170.5px,#ff5959 171.5px,#ff4949 172.5px,#ff4747 173.5px,#ff5656 174.5px,#ff7373 175.5px,#ff9e9e 176.5px,#ffd1d1 177.5px,#f8f8ff 178.5px,#3131ff 182.5px,#0404ff 183.5px,#00d 185.5px,#0000da 186.5px,#0000e3 187.5px,#0000f6 188.5px,#1b1bff 189.5px,#e3e3ff 193.5px,#ffe8e8 194.5px,#ff8686 196.5px,#ff6262 197.5px,#ff4a4a 198.5px,#ff4242 199.5px,#ff4747 200.5px,#ff5b5b 201.5px,#ff7b7b 202.5px,#fff8f8 205.5px,#dedeff 206.5px)"></i><i style="top:226px;background:linear-gradient(90deg,#11f 0.5px,#0000e6 1.5px,#0000cd 2.5px,#0000c2 3.5px,#0000c8 4.5px,#0000de 5.5px,#0303ff 6.5px,#c9c9ff 9.5px,#fff8f8 10.5px,#ff3636 13.5px,#fc0000 14.5px,#e70000 15.5px,#dc0000 16.5px,#db0000 17.5px,#e60000 18.5px,#fb0000 19.5px,#ff2f2f 20.5px,#ffd8d8 23.5px,#f1f1ff 24.5px,#7d7dff 26.5px,#4949ff 27.5px,#2424ff 28.5px,#1313ff 29.5px,#1717ff 30.5px,#3131ff 31.5px,#5d5dff 32.5px,#d4d4ff 34.5px,#fff0f0 35.5px,#ff1010 39.5px,#ed0000 40.5px,#db0000 41.5px,#d20000 42.5px,#d40000 43.5px,#e00000 44.5px,#f70000 45.5px,#ff2828 46.5px,#ffdbdb 49.5px,#ebebff 50.5px,#3939ff 53.5px,#0f0fff 54.5px,#0000fa 55.5px,#0000f8 56.5px,#0707ff 57.5px,#2b2bff 58.5px,#f5f5ff 62.5px,#ffdada 63.5px,#ff4343 66.5px,#ff2121 67.5px,#f11 68.5px,#ff1515 69.5px,#ff2d2d 70.5px,#ff5656 71.5px,#fefeff 74.5px,#2626ff 78.5px,#0000f6 79.5px,#0000db 80.5px,#0000cd 81.5px,#00c 82.5px,#0000d9 83.5px,#0000f3 84.5px,#2121ff 85.5px,#c0c0ff 88.5px,#f2f2ff 89.5px,#ffd7d7 90.5px,#ff6d6d 92.5px,#ff4646 93.5px,#ff3030 94.5px,#ff2d2d 95.5px,#ff3c3c 96.5px,#ff5c5c 97.5px,#ffeaea 100.5px,#e8e8ff 101.5px,#33f 105.5px,#1313ff 106.5px,#0303ff 107.5px,#0606ff 108.5px,#1b1bff 109.5px,#4040ff 110.5px,#e0e0ff 113.5px,#ffecec 114.5px,#ff1f1f 118.5px,#fb0000 119.5px,#f00000 120.5px,#e00 121.5px,#ff0808 123.5px,#ffe8e8 128.5px,#e9e9ff 129.5px,#8c8cff 131.5px,#6969ff 132.5px,#55f 133.5px,#5252ff 134.5px,#6060ff 135.5px,#7e7eff 136.5px,#d6d6ff 138.5px,#fffafa 139.5px,#ff2727 144.5px,#ff0808 145.5px,#fb0000 147.5px,#ff0808 148.5px,#ff2929 149.5px,#ffe8e8 153.5px,#e9e9ff 154.5px,#5959ff 157.5px,#3434ff 158.5px,#1c1cff 159.5px,#1414ff 160.5px,#1d1dff 161.5px,#3535ff 162.5px,#f5f5ff 167.5px,#ffe2e2 168.5px,#ff9292 170.5px,#ff7474 171.5px,#ff6363 172.5px,#ff6161 173.5px,#ff6f6f 174.5px,#ff8a8a 175.5px,#ffdede 177.5px,#f5f5ff 178.5px,#2b2bff 183.5px,#0c0cff 184.5px,#0000fb 185.5px,#0000f8 186.5px,#0303ff 187.5px,#1d1dff 188.5px,#6f6fff 190.5px,#ebebff 193.5px,#ffe9e9 194.5px,#ff9393 196.5px,#ff7070 197.5px,#ff5a5a 198.5px,#ff5151 199.5px,#ff5757 200.5px,#ff6a6a 201.5px,#fff2f2 205.5px,#ececff 206.5px)"></i><i style="top:227px;background:linear-gradient(90deg,#4343ff 0.5px,#1414ff 1.5px,#0000f6 2.5px,#0000ec 3.5px,#0000f1 4.5px,#0909ff 5.5px,#3737ff 6.5px,#dbdbff 9.5px,#fff4f4 10.5px,#ff8f8f 12.5px,#ff2323 14.5px,#fd0000 15.5px,#f30000 16.5px,#f30000 17.5px,#fd0000 18.5px,#ff2323 19.5px,#ffb2b2 22.5px,#ffdbdb 23.5px,#fafaff 24.5px,#6b6bff 27.5px,#4949ff 28.5px,#3838ff 29.5px,#3c3cff 30.5px,#5353ff 31.5px,#7a7aff 32.5px,#dfdfff 34.5px,#fff1f1 35.5px,#ff7171 38.5px,#ff1212 40.5px,#f70000 41.5px,#ef0000 42.5px,#f10000 43.5px,#fd0000 44.5px,#ff2424 45.5px,#fbb 48.5px,#ffe7e7 49.5px,#ececff 50.5px,#5656ff 53.5px,#3030ff 54.5px,#1b1bff 55.5px,#1818ff 56.5px,#2929ff 57.5px,#4a4aff 58.5px,#ccf 61.5px,#f0f0ff 62.5px,#ffe9e9 63.5px,#ff6a6a 66.5px,#ff4b4b 67.5px,#ff3b3b 68.5px,#ff3e3e 69.5px,#ff5353 70.5px,#ff7878 71.5px,#ffd9d9 73.5px,#f8f8ff 74.5px,#7d7dff 77.5px,#22f 79.5px,#0000fe 80.5px,#0000f1 81.5px,#0000f1 82.5px,#0000fe 83.5px,#2020ff 84.5px,#a7a7ff 87.5px,#f5f5ff 89.5px,#ffdede 90.5px,#ff8383 92.5px,#ff6060 93.5px,#ff4b4b 94.5px,#ff4747 95.5px,#f55 96.5px,#ff7373 97.5px,#ffeaea 100.5px,#f2f2ff 101.5px,#8585ff 104.5px,#5f5fff 105.5px,#4141ff 106.5px,#3232ff 107.5px,#3434ff 108.5px,#4747ff 109.5px,#6969ff 110.5px,#efefff 113.5px,#ffe9e9 114.5px,#ff6d6d 117.5px,#ff4242 118.5px,#ff2020 119.5px,#ff0b0b 120.5px,#ff0707 121.5px,#ff1414 122.5px,#ff3030 123.5px,#ffc7c7 127.5px,#ffe8e8 128.5px,#f1f1ff 129.5px,#a1a1ff 131.5px,#8181ff 132.5px,#6e6eff 133.5px,#6a6aff 134.5px,#77f 135.5px,#9292ff 136.5px,#dedeff 138.5px,#fffcfc 139.5px,#f77 143.5px,#ff3737 145.5px,#ff2828 146.5px,#ff2828 147.5px,#ff3737 148.5px,#f55 149.5px,#fff4f4 153.5px,#e7e7ff 154.5px,#7070ff 157.5px,#4e4eff 158.5px,#3838ff 159.5px,#3232ff 160.5px,#3b3bff 161.5px,#5151ff 162.5px,#d3d3ff 166.5px,#efefff 167.5px,#fff0f0 168.5px,#ffabab 170.5px,#ff8f8f 171.5px,#ff7f7f 172.5px,#ff7c7c 173.5px,#f88 174.5px,#ffa1a1 175.5px,#ffe8e8 177.5px,#f3f3ff 178.5px,#7575ff 182.5px,#3737ff 184.5px,#2727ff 185.5px,#2424ff 186.5px,#3030ff 187.5px,#4848ff 188.5px,#d5d5ff 192.5px,#f4f4ff 193.5px,#ffe9e9 194.5px,#ff8181 197.5px,#ff6c6c 198.5px,#ff6464 199.5px,#ff6a6a 200.5px,#ff7c7c 201.5px,#ffeded 205.5px,#f9f9ff 206.5px)"></i><i style="top:228px;background:linear-gradient(90deg,#7171ff 0.5px,#4949ff 1.5px,#2c2cff 2.5px,#1f1fff 3.5px,#2525ff 4.5px,#3f3fff 5.5px,#9595ff 7.5px,#eaeaff 9.5px,#fff1f1 10.5px,#ffa4a4 12.5px,#ff4b4b 14.5px,#ff2929 15.5px,#ff1717 16.5px,#ff1818 17.5px,#ff2b2b 18.5px,#ff7676 20.5px,#ffc1c1 22.5px,#fff 24.5px,#8a8aff 27.5px,#6c6cff 28.5px,#5c5cff 29.5px,#5f5fff 30.5px,#7373ff 31.5px,#bebeff 33.5px,#e7e7ff 34.5px,#fff4f4 35.5px,#ff9494 38.5px,#ff4747 40.5px,#ff2929 41.5px,#ff1b1b 42.5px,#ff1e1e 43.5px,#ff3434 44.5px,#ff8181 46.5px,#ffd1d1 48.5px,#fff2f2 49.5px,#ececff 50.5px,#7272ff 53.5px,#5151ff 54.5px,#3e3eff 55.5px,#3d3dff 56.5px,#4c4cff 57.5px,#8e8eff 59.5px,#d2d2ff 61.5px,#ededff 62.5px,#fff5f5 63.5px,#ff8e8e 66.5px,#ff7171 67.5px,#ff6363 68.5px,#ff6565 69.5px,#f77 70.5px,#ffbfbf 72.5px,#ffe6e6 73.5px,#f6f6ff 74.5px,#9a9aff 77.5px,#4f4fff 79.5px,#3232ff 80.5px,#2121ff 81.5px,#22f 82.5px,#3232ff 83.5px,#7676ff 85.5px,#bebeff 87.5px,#f9f9ff 89.5px,#ffe3e3 90.5px,#ff9898 92.5px,#ff7878 93.5px,#f66 94.5px,#ff6363 95.5px,#ff6f6f 96.5px,#faa 98.5px,#ffe9e9 100.5px,#fcfcff 101.5px,#c8c8ff 103.5px,#8787ff 105.5px,#6d6dff 106.5px,#5f5fff 107.5px,#6060ff 108.5px,#7171ff 109.5px,#b3b3ff 111.5px,#fafaff 113.5px,#ffe7e7 114.5px,#f88 117.5px,#ff4747 119.5px,#ff3535 120.5px,#ff3232 121.5px,#ff3f3f 122.5px,#ff7878 124.5px,#ffb8b8 126.5px,#ffebeb 128.5px,#f6f6ff 129.5px,#9797ff 132.5px,#8686ff 133.5px,#8282ff 134.5px,#8d8dff 135.5px,#c3c3ff 137.5px,#fff 139.5px,#ffb9b9 142.5px,#ff6565 145.5px,#ff5757 146.5px,#ff5757 147.5px,#ff6565 148.5px,#ffa1a1 150.5px,#ffe3e3 152.5px,#fff 153.5px,#a7a7ff 156.5px,#6969ff 158.5px,#5656ff 159.5px,#5151ff 160.5px,#5959ff 161.5px,#8989ff 163.5px,#d7d7ff 166.5px,#fffafa 168.5px,#ffa8a8 171.5px,#f99 172.5px,#ff9696 173.5px,#ffa0a0 174.5px,#ffd2d2 176.5px,#fff0f0 177.5px,#f3f3ff 178.5px,#9595ff 182.5px,#6262ff 184.5px,#5454ff 185.5px,#5151ff 186.5px,#5c5cff 187.5px,#9090ff 189.5px,#e4e4ff 192.5px,#fcfcff 193.5px,#ffe8e8 194.5px,#ff9191 197.5px,#ff7f7f 198.5px,#ff7878 199.5px,#ff7d7d 200.5px,#ffa5a5 202.5px,#ffe8e8 205.5px,#fffafa 206.5px)"></i><i style="top:229px;background:linear-gradient(90deg,#99f 0.5px,#6060ff 2.5px,#5454ff 3.5px,#5a5aff 4.5px,#6f6fff 5.5px,#d8d8ff 8.5px,#f5f5ff 9.5px,#ffefef 10.5px,#ffb7b7 12.5px,#ff7070 14.5px,#ff5454 15.5px,#ff4545 16.5px,#ff4646 17.5px,#ff5757 18.5px,#ffcfcf 22.5px,#fffdfd 24.5px,#e6e6ff 25.5px,#a4a4ff 27.5px,#8a8aff 28.5px,#7c7cff 29.5px,#7e7eff 30.5px,#8f8fff 31.5px,#ebebff 34.5px,#fff9f9 35.5px,#ffb4b4 38.5px,#ff7676 40.5px,#ff5e5e 41.5px,#ff5151 42.5px,#ff5454 43.5px,#ff6767 44.5px,#ffe4e4 48.5px,#fffbfb 49.5px,#eaeaff 50.5px,#7070ff 54.5px,#6060ff 55.5px,#5f5fff 56.5px,#6d6dff 57.5px,#d8d8ff 61.5px,#fffefe 63.5px,#ff9393 67.5px,#ff8686 68.5px,#f88 69.5px,#ff9797 70.5px,#ffefef 73.5px,#f6f6ff 74.5px,#b4b4ff 77.5px,#6161ff 80.5px,#5353ff 81.5px,#5454ff 82.5px,#6363ff 83.5px,#d4d4ff 87.5px,#fff 89.5px,#ff8e8e 93.5px,#ff7e7e 94.5px,#ff7c7c 95.5px,#ff8787 96.5px,#ffe8e8 100.5px,#fffafa 101.5px,#f3f3ff 102.5px,#9494ff 106.5px,#88f 107.5px,#8989ff 108.5px,#9696ff 109.5px,#e9e9ff 112.5px,#fffcfc 113.5px,#ffbcbc 116.5px,#ff6d6d 119.5px,#ff5e5e 120.5px,#ff5c5c 121.5px,#ff6767 122.5px,#ffcaca 126.5px,#fff0f0 128.5px,#f8f8ff 129.5px,#aaf 132.5px,#9b9bff 133.5px,#9797ff 134.5px,#a0a0ff 135.5px,#f9f9ff 139.5px,#fff4f4 140.5px,#fbb 143.5px,#ff8f8f 145.5px,#ff8383 146.5px,#ff8383 147.5px,#ff8f8f 148.5px,#fff4f4 152.5px,#f6f6ff 153.5px,#b5b5ff 156.5px,#8282ff 158.5px,#7373ff 159.5px,#6f6fff 160.5px,#7676ff 161.5px,#dbdbff 166.5px,#fdfdff 168.5px,#ffbdbd 171.5px,#ffb0b0 172.5px,#ffacac 173.5px,#ffb4b4 174.5px,#fff4f4 177.5px,#f6f6ff 178.5px,#b3b3ff 182.5px,#8a8aff 184.5px,#7e7eff 185.5px,#7c7cff 186.5px,#8686ff 187.5px,#f3f3ff 192.5px,#fffafa 193.5px,#ffa0a0 197.5px,#ff9191 198.5px,#ff8b8b 199.5px,#ff9090 200.5px,#ffe5e5 205.5px,#fff1f1 206.5px)"></i><i style="top:230px;background:linear-gradient(90deg,#babaff 0.5px,#8b8bff 2.5px,#8282ff 3.5px,#8686ff 4.5px,#9797ff 5.5px,#e8e8ff 8.5px,#fdfdff 9.5px,#ffdcdc 11.5px,#ff7979 15.5px,#ff6d6d 16.5px,#ff6f6f 17.5px,#ff7d7d 18.5px,#ffdcdc 22.5px,#fffefe 24.5px,#d1d1ff 26.5px,#a1a1ff 28.5px,#9595ff 29.5px,#9696ff 30.5px,#a4a4ff 31.5px,#fefeff 35.5px,#ffcfcf 38.5px,#ff8b8b 41.5px,#ff8181 42.5px,#ff8484 43.5px,#ff9292 44.5px,#fff3f3 48.5px,#fafaff 49.5px,#babaff 52.5px,#8a8aff 54.5px,#7d7dff 55.5px,#7d7dff 56.5px,#88f 57.5px,#dedeff 61.5px,#fbfbff 63.5px,#fff1f1 64.5px,#ffaeae 67.5px,#ffa3a3 68.5px,#ffa3a3 69.5px,#ffafaf 70.5px,#fff3f3 73.5px,#f9f9ff 74.5px,#cacaff 77.5px,#8b8bff 80.5px,#8080ff 81.5px,#8181ff 82.5px,#8d8dff 83.5px,#e6e6ff 87.5px,#f7f7ff 88.5px,#fff7f7 89.5px,#ffa0a0 93.5px,#ff9393 94.5px,#ff9090 95.5px,#ff9a9a 96.5px,#ffe5e5 100.5px,#fff 102.5px,#b5b5ff 106.5px,#aaf 107.5px,#aaf 108.5px,#b5b5ff 109.5px,#f5f5ff 112.5px,#fff7f7 113.5px,#ffcaca 116.5px,#ff8e8e 119.5px,#ff8282 120.5px,#ff8181 121.5px,#ff8b8b 122.5px,#ffdada 126.5px,#fff7f7 128.5px,#f6f6ff 129.5px,#b8b8ff 132.5px,#ababff 133.5px,#a8a8ff 134.5px,#afafff 135.5px,#f3f3ff 139.5px,#fff 140.5px,#ffd6d6 143.5px,#ffb3b3 145.5px,#ffa9a9 146.5px,#ffa9a9 147.5px,#ffc4c4 149.5px,#ffefef 151.5px,#fefeff 152.5px,#bfbfff 156.5px,#9898ff 158.5px,#8c8cff 159.5px,#8989ff 160.5px,#9f9fff 162.5px,#d4d4ff 165.5px,#fafaff 168.5px,#fff2f2 169.5px,#ffcdcd 171.5px,#ffc1c1 172.5px,#ffbebe 173.5px,#ffd1d1 175.5px,#fff4f4 177.5px,#fcfcff 178.5px,#ccf 182.5px,#adadff 184.5px,#a3a3ff 185.5px,#a2a2ff 186.5px,#babaff 188.5px,#f2f2ff 191.5px,#fffefe 192.5px,#ffd1d1 195.5px,#ffacac 197.5px,#ff9f9f 198.5px,#ff9b9b 199.5px,#ffabab 201.5px,#ffe2e2 205.5px,#ffebeb 206.5px)"></i><i style="top:231px;background:linear-gradient(90deg,#d3d3ff 0.5px,#aeaeff 2.5px,#a6a6ff 3.5px,#a8a8ff 4.5px,#c9c9ff 6.5px,#f3f3ff 8.5px,#fffcfc 9.5px,#ffd1d1 12.5px,#ff9898 15.5px,#ff8f8f 16.5px,#ff9191 17.5px,#ffb0b0 19.5px,#ffe8e8 22.5px,#fcfcff 24.5px,#b0b0ff 28.5px,#a6a6ff 29.5px,#a7a7ff 30.5px,#c3c3ff 32.5px,#f5f5ff 35.5px,#fffefe 36.5px,#ffd3d3 39.5px,#ffb0b0 41.5px,#ffa8a8 42.5px,#faa 43.5px,#ffc9c9 45.5px,#fff0f0 47.5px,#fefeff 48.5px,#d6d6ff 51.5px,#9e9eff 54.5px,#9494ff 55.5px,#9494ff 56.5px,#afafff 58.5px,#e2e2ff 61.5px,#f9f9ff 63.5px,#fff7f7 64.5px,#ffc1c1 67.5px,#ffb7b7 68.5px,#ffb7b7 69.5px,#ffd0d0 71.5px,#fff 74.5px,#ddf 77.5px,#aeaeff 80.5px,#a6a6ff 81.5px,#a7a7ff 82.5px,#c2c2ff 84.5px,#f7f7ff 87.5px,#fffbfb 88.5px,#ffcfcf 91.5px,#ffabab 93.5px,#ffa1a1 94.5px,#ff9f9f 95.5px,#ffb5b5 97.5px,#ffe2e2 100.5px,#fcfcff 103.5px,#cdcdff 106.5px,#c4c4ff 107.5px,#c4c4ff 108.5px,#dadaff 110.5px,#fbfbff 112.5px,#ffd6d6 116.5px,#ffa9a9 119.5px,#ffa1a1 120.5px,#ffa1a1 121.5px,#ffb8b8 123.5px,#ffe9e9 126.5px,#fff 128.5px,#c0c0ff 132.5px,#b2b2ff 134.5px,#c4c4ff 136.5px,#ebebff 139.5px,#fcfcff 141.5px,#fff8f8 142.5px,#ffd0d0 145.5px,#ffc8c8 147.5px,#fdd 149.5px,#fffdfd 151.5px,#c7c7ff 156.5px,#a1a1ff 159.5px,#a5a5ff 161.5px,#e6e6ff 166.5px,#fbfbff 168.5px,#fff5f5 169.5px,#ffcdcd 172.5px,#ffcdcd 174.5px,#fffbfb 178.5px,#f4f4ff 180.5px,#c3c3ff 185.5px,#c9c9ff 187.5px,#f4f4ff 190.5px,#fffdfd 191.5px,#ffd1d1 195.5px,#faa 198.5px,#ffabab 200.5px,#ffe0e0 205.5px,#ffe8e8 206.5px)"></i><i style="top:232px;background:linear-gradient(90deg,#e5e5ff 0.5px,#c7c7ff 2.5px,#c0c0ff 3.5px,#c1c1ff 4.5px,#ebebff 7.5px,#f9f9ff 8.5px,#fff9f9 9.5px,#ffcbcb 13.5px,#ffafaf 15.5px,#ffa9a9 16.5px,#ffabab 17.5px,#ffc5c5 19.5px,#fff3f3 22.5px,#fffefe 23.5px,#d7d7ff 26.5px,#b8b8ff 28.5px,#b0b0ff 29.5px,#b8b8ff 31.5px,#ececff 35.5px,#fdfdff 37.5px,#ffe8e8 39.5px,#ffcdcd 41.5px,#ffc8c8 43.5px,#ffdfdf 45.5px,#fffefe 47.5px,#d6d6ff 51.5px,#acacff 54.5px,#a6a6ff 56.5px,#bcbcff 58.5px,#e6e6ff 61.5px,#fafaff 63.5px,#fff8f8 64.5px,#fcc 67.5px,#ffc3c3 69.5px,#ffd5d5 71.5px,#fff8f8 74.5px,#fefeff 75.5px,#e2e2ff 78.5px,#c9c9ff 80.5px,#c5c5ff 82.5px,#dbdbff 84.5px,#f9f9ff 86.5px,#fffafa 87.5px,#ffcdcd 91.5px,#faa 94.5px,#ffafaf 96.5px,#ffe7e7 101.5px,#fff9f9 103.5px,#f8f8ff 104.5px,#d6d6ff 107.5px,#dbdbff 109.5px,#fefeff 112.5px,#ffd6d6 117.5px,#ffb9b9 120.5px,#ffc1c1 122.5px,#fff 127.5px,#d0d0ff 131.5px,#babaff 133.5px,#bbf 135.5px,#eaeaff 140.5px,#fffcfc 143.5px,#ffdfdf 146.5px,#ffe4e4 148.5px,#fffbfb 150.5px,#cdcdff 156.5px,#b0b0ff 159.5px,#b5b5ff 161.5px,#ececff 166.5px,#fefeff 168.5px,#ffd2d2 172.5px,#ffd1d1 174.5px,#fff8f8 179.5px,#fbfbff 181.5px,#dbdbff 185.5px,#e1e1ff 187.5px,#f7f7ff 189.5px,#fffbfb 190.5px,#ffb1b1 198.5px,#ffb3b3 200.5px,#ffe6e6 206.5px)"></i><i style="top:233px;background:linear-gradient(90deg,#f1f1ff 0.5px,#d8d8ff 2.5px,#d2d2ff 4.5px,#fcfcff 8.5px,#ffeaea 11.5px,#ffc1c1 15.5px,#ffbfbf 17.5px,#fffdfd 22.5px,#e1e1ff 25.5px,#b9b9ff 28.5px,#b2b2ff 30.5px,#fafaff 38.5px,#fff9f9 39.5px,#fdd 42.5px,#ffe4e4 44.5px,#fffcfc 46.5px,#cacaff 52.5px,#b0b0ff 55.5px,#b9b9ff 57.5px,#f3f3ff 62.5px,#fdfdff 63.5px,#ffeaea 65.5px,#ffc9c9 68.5px,#fcc 70.5px,#fff6f6 75.5px,#fbfbff 77.5px,#dadaff 81.5px,#e2e2ff 83.5px,#fafaff 85.5px,#fee 87.5px,#ffadad 94.5px,#ffb2b2 96.5px,#fff 104.5px,#e1e1ff 107.5px,#e3e3ff 109.5px,#fdfdff 112.5px,#ffe1e1 117.5px,#fcc 120.5px,#ffd4d4 122.5px,#fff7f7 125.5px,#fdfdff 126.5px,#babaff 133.5px,#bbf 135.5px,#fffefe 144.5px,#fff0f0 146.5px,#fff3f3 148.5px,#fffbfb 149.5px,#fafaff 150.5px,#bcbcff 159.5px,#c2c2ff 161.5px,#fbfbff 167.5px,#fffbfb 168.5px,#ffd3d3 172.5px,#ffd1d1 174.5px,#fffdfd 182.5px,#eef 185.5px,#f3f3ff 187.5px,#fbfbff 188.5px,#ffefef 190.5px,#ffb5b5 198.5px,#ffb7b7 200.5px,#ffe5e5 206.5px)"></i><i style="top:234px;background:linear-gradient(90deg,#f9f9ff 0.5px,#dbdbff 3.5px,#e0e0ff 5.5px,#fcfcff 8.5px,#ffefef 11.5px,#ffcece 15.5px,#ffcece 17.5px,#fffbfb 21.5px,#e5e5ff 24.5px,#b7b7ff 28.5px,#b0b0ff 30.5px,#fafaff 39.5px,#fffafa 40.5px,#ffecec 42.5px,#fff1f1 44.5px,#fffafa 45.5px,#fafaff 46.5px,#b8b8ff 55.5px,#c1c1ff 57.5px,#f7f7ff 62.5px,#fffefe 63.5px,#ffcaca 68.5px,#ffcbcb 70.5px,#fefeff 78.5px,#ebebff 81.5px,#f2f2ff 83.5px,#fbfbff 84.5px,#fee 86.5px,#ffafaf 94.5px,#ffb4b4 96.5px,#fffcfc 104.5px,#e6e6ff 107.5px,#e7e7ff 109.5px,#fffefe 113.5px,#ffdada 120.5px,#ffe2e2 122.5px,#fdfdff 125.5px,#b7b7ff 133.5px,#b8b8ff 135.5px,#fff 145.5px,#fff9f9 147.5px,#fcfcff 149.5px,#c5c5ff 159.5px,#d4d4ff 162.5px,#f9f9ff 166.5px,#fffdfd 167.5px,#ffd0d0 172.5px,#ffd2d2 175.5px,#fff 184.5px,#fff 187.5px,#ffbcbc 197.5px,#fbb 200.5px,#ffe7e7 206.5px)"></i><i style="top:235px;background:linear-gradient(90deg,#fcfcff 0.5px,#e0e0ff 3.5px,#e3e3ff 5.5px,#fffefe 9.5px,#ffd5d5 16.5px,#ffe0e0 18.5px,#fff7f7 20.5px,#fbfbff 21.5px,#b4b4ff 28.5px,#aeaeff 30.5px,#fdfdff 40.5px,#fff4f4 43.5px,#fefeff 45.5px,#c1c1ff 54.5px,#c0c0ff 56.5px,#fcfcff 62.5px,#ffefef 64.5px,#ffc8c8 68.5px,#ffc8c8 70.5px,#fff 79.5px,#f6f6ff 82.5px,#fffafa 84.5px,#ffb4b4 93.5px,#ffb1b1 95.5px,#fffcfc 104.5px,#e5e5ff 108.5px,#fff 114.5px,#ffe5e5 120.5px,#fff5f5 123.5px,#fff 124.5px,#b5b5ff 133.5px,#bcbcff 136.5px,#fff 146.5px,#fafaff 149.5px,#ccf 159.5px,#dbdbff 162.5px,#fff 166.5px,#ffcdcd 172.5px,#ffcece 175.5px,#fffbfb 185.5px,#fff2f2 188.5px,#fbb 198.5px,#ffc5c5 201.5px,#ffeaea 206.5px)"></i><i style="top:236px;background:linear-gradient(90deg,#fdfdff 0.5px,#e2e2ff 3.5px,#eaeaff 6.5px,#fdfdff 9.5px,#fdd 16.5px,#fff3f3 19.5px,#fffefe 20.5px,#b2b2ff 28.5px,#acacff 30.5px,#fffefe 41.5px,#fff9f9 43.5px,#fbfbff 45.5px,#c5c5ff 54.5px,#c6c6ff 56.5px,#fffefe 62.5px,#ffc6c6 68.5px,#ffcaca 71.5px,#fffefe 80.5px,#fffcfc 83.5px,#ffb5b5 93.5px,#ffb3b3 95.5px,#fffefe 104.5px,#e7e7ff 107.5px,#e9e9ff 110.5px,#fefeff 115.5px,#ffecec 120.5px,#fffcfc 123.5px,#f0f0ff 125.5px,#b4b4ff 133.5px,#bbf 136.5px,#fdfdff 146.5px,#fafaff 149.5px,#d3d3ff 159.5px,#e1e1ff 162.5px,#fcfcff 165.5px,#ffeaea 168.5px,#ffcbcb 172.5px,#ffcbcb 175.5px,#fff6f6 185.5px,#ffefef 188.5px,#ffbfbf 198.5px,#ffc9c9 201.5px,#ffeded 206.5px)"></i><i style="top:237px;background:linear-gradient(90deg,#fffdfd 0.5px,#e8e8ff 3.5px,#eef 6.5px,#fffefe 9.5px,#ffdede 16.5px,#fff2f2 19.5px,#fffdfd 20.5px,#b5b5ff 28.5px,#b0b0ff 30.5px,#fdfdff 41.5px,#fefeff 44.5px,#c5c5ff 54.5px,#cdcdff 57.5px,#fdfdff 62.5px,#ffcbcb 68.5px,#ffcece 71.5px,#fefeff 81.5px,#fffafa 83.5px,#ffb6b6 93.5px,#ffb9b9 96.5px,#fffafa 104.5px,#fafaff 105.5px,#e9e9ff 108.5px,#fffefe 115.5px,#ffecec 120.5px,#fffbfb 123.5px,#f1f1ff 125.5px,#b7b7ff 133.5px,#bdbdff 136.5px,#fafaff 146.5px,#f6f6ff 149.5px,#d2d2ff 159.5px,#e0e0ff 162.5px,#fafaff 165.5px,#fffdfd 166.5px,#ffcfcf 172.5px,#ffcece 175.5px,#fff4f4 185.5px,#ffeded 188.5px,#ffbfbf 198.5px,#ffc8c8 201.5px,#ffebeb 206.5px)"></i><i style="top:238px;background:linear-gradient(90deg,#fff9f9 0.5px,#fbfbff 1.5px,#ececff 4.5px,#fff 8.5px,#ffdfdf 16.5px,#fff2f2 19.5px,#fffcfc 20.5px,#b5b5ff 29.5px,#bdbdff 32.5px,#fdfdff 42.5px,#f4f4ff 45.5px,#c6c6ff 54.5px,#cdcdff 57.5px,#fbfbff 62.5px,#fffbfb 63.5px,#ffd0d0 68.5px,#ffd3d3 71.5px,#fffefe 81.5px,#fff2f2 84.5px,#ffb8b8 93.5px,#ffbaba 96.5px,#fefeff 105.5px,#eef 108.5px,#fffefe 114.5px,#ffecec 120.5px,#fbfbff 124.5px,#bbf 133.5px,#bfbfff 136.5px,#f6f6ff 146.5px,#f3f3ff 149.5px,#d2d2ff 159.5px,#dfdfff 162.5px,#fff 166.5px,#ffd3d3 172.5px,#ffd2d2 175.5px,#fff3f3 186.5px,#ffc0c0 198.5px,#ffc8c8 201.5px,#ffe9e9 206.5px)"></i><i style="top:239px;background:linear-gradient(90deg,#fff5f5 0.5px,#fffefe 1.5px,#f2f2ff 4.5px,#fefeff 7.5px,#ffe0e0 16.5px,#fff2f2 19.5px,#fffcfc 20.5px,#e8e8ff 23.5px,#babaff 29.5px,#c0c0ff 32.5px,#f9f9ff 42.5px,#f1f1ff 45.5px,#c7c7ff 54.5px,#cdcdff 57.5px,#fffefe 63.5px,#ffd6d6 68.5px,#ffd8d8 71.5px,#fffcfc 81.5px,#ffe9e9 85.5px,#ffb8b8 94.5px,#ffc2c2 97.5px,#fffbfb 105.5px,#f5f5ff 109.5px,#fffdfd 113.5px,#ffeded 120.5px,#fbfbff 124.5px,#bfbfff 133.5px,#c2c2ff 136.5px,#f3f3ff 147.5px,#d2d2ff 159.5px,#e6e6ff 163.5px,#fcfcff 166.5px,#fff4f4 168.5px,#ffd6d6 173.5px,#fff1f1 186.5px,#ffc1c1 198.5px,#ffcfcf 202.5px,#ffe6e6 206.5px)"></i><i style="top:240px;background:linear-gradient(90deg,#fff1f1 0.5px,#fff 2.5px,#fbfbff 5.5px,#fffbfb 7.5px,#ffe1e1 16.5px,#fffbfb 20.5px,#f2f2ff 22.5px,#c0c0ff 29.5px,#c5c5ff 32.5px,#f4f4ff 42.5px,#e7e7ff 46.5px,#c7c7ff 55.5px,#d6d6ff 58.5px,#fcfcff 63.5px,#fff2f2 65.5px,#ffdbdb 69.5px,#fffafa 81.5px,#ffe8e8 85.5px,#fbb 94.5px,#ffc3c3 97.5px,#fffcfc 106.5px,#fcfcff 110.5px,#fff2f2 117.5px,#fff0f0 121.5px,#fcfcff 124.5px,#c4c4ff 133.5px,#c9c9ff 137.5px,#efefff 147.5px,#d3d3ff 159.5px,#e5e5ff 163.5px,#fffefe 167.5px,#ffdbdb 173.5px,#ffefef 186.5px,#ffc3c3 198.5px,#ffcfcf 202.5px,#ffe4e4 206.5px)"></i><i style="top:241px;background:linear-gradient(90deg,#ffecec 0.5px,#fffefe 4.5px,#ffe3e3 16.5px,#fffbfb 20.5px,#f4f4ff 22.5px,#c7c7ff 29.5px,#cdcdff 33.5px,#efefff 42.5px,#c9c9ff 55.5px,#ddf 59.5px,#fff 64.5px,#ffe4e4 68.5px,#ffe5e5 72.5px,#fff7f7 81.5px,#ffbebe 94.5px,#ffcbcb 98.5px,#fffdfd 108.5px,#fee 120.5px,#fcfcff 124.5px,#c9c9ff 133.5px,#ccf 137.5px,#ebebff 147.5px,#d3d3ff 159.5px,#ebebff 164.5px,#fcfcff 167.5px,#ffefef 170.5px,#ffe0e0 174.5px,#ffeded 186.5px,#ffc5c5 198.5px,#ffd4d4 203.5px,#ffe1e1 206.5px)"></i><i style="top:242px;background:linear-gradient(90deg,#ffe8e8 0.5px,#fff7f7 4.5px,#ffe5e5 16.5px,#fdfdff 21.5px,#cdcdff 29.5px,#d4d4ff 34.5px,#eaeaff 43.5px,#cbcbff 55.5px,#e3e3ff 60.5px,#fffcfc 65.5px,#ffe9e9 69.5px,#fff3f3 82.5px,#ffc2c2 94.5px,#ffd0d0 99.5px,#fff7f7 108.5px,#fff2f2 121.5px,#fdfdff 124.5px,#ceceff 133.5px,#d2d2ff 138.5px,#e6e6ff 147.5px,#d4d4ff 159.5px,#f4f4ff 166.5px,#fefeff 168.5px,#ffe6e6 174.5px,#ffe9e9 187.5px,#ffc7c7 198.5px,#ffd7d7 204.5px,#ffdfdf 206.5px)"></i><i style="top:243px;background:linear-gradient(90deg,#ffe3e3 0.5px,#fff0f0 4.5px,#ffe6e6 16.5px,#fefeff 21.5px,#d4d4ff 29.5px,#dcdcff 37.5px,#e6e6ff 43.5px,#cdcdff 55.5px,#f7f7ff 64.5px,#fffcfc 66.5px,#ffefef 70.5px,#fff1f1 82.5px,#ffc6c6 94.5px,#ffd8d8 101.5px,#fff1f1 109.5px,#fff2f2 121.5px,#fefeff 124.5px,#d2d2ff 134.5px,#e2e2ff 148.5px,#d5d5ff 159.5px,#fff 169.5px,#ffecec 174.5px,#ffe8e8 187.5px,#ffc9c9 198.5px,#fdd 206.5px)"></i><i style="top:244px;background:linear-gradient(90deg,#ffe0e0 0.5px,#ffeaea 5.5px,#ffe7e7 16.5px,#fffefe 21.5px,#d8d8ff 30.5px,#e1e1ff 44.5px,#cfcfff 55.5px,#fffdfd 67.5px,#fff4f4 74.5px,#ffeded 83.5px,#ffc9c9 94.5px,#ffdcdc 103.5px,#ffecec 109.5px,#fff2f2 121.5px,#fff 124.5px,#d7d7ff 134.5px,#ddf 149.5px,#d7d7ff 160.5px,#fff 170.5px,#fff0f0 176.5px,#ffe4e4 188.5px,#fcc 199.5px,#ffdbdb 206.5px)"></i><i style="top:245px;background:linear-gradient(90deg,#ffdcdc 0.5px,#ffe5e5 6.5px,#ffeaea 17.5px,#fefeff 22.5px,#dedeff 30.5px,#dcdcff 45.5px,#d1d1ff 55.5px,#fefeff 68.5px,#ffeded 83.5px,#fcc 95.5px,#ffe8e8 111.5px,#fff5f5 122.5px,#fcfcff 125.5px,#dadaff 135.5px,#d8d8ff 151.5px,#d7d7ff 160.5px,#fefeff 171.5px,#ffe1e1 189.5px,#ffcece 199.5px,#ffd9d9 206.5px)"></i><i style="top:246px;background:linear-gradient(90deg,#ffdada 0.5px,#ffeaea 17.5px,#fdfdff 23.5px,#e2e2ff 31.5px,#d7d7ff 47.5px,#d3d3ff 56.5px,#fff 71.5px,#ffeaea 84.5px,#ffcfcf 95.5px,#fff4f4 122.5px,#fff 125.5px,#dfdfff 135.5px,#d7d7ff 160.5px,#fff 173.5px,#ffcfcf 199.5px,#ffd7d7 206.5px)"></i><i style="top:247px;background:linear-gradient(90deg,#ffd8d8 0.5px,#ffe9e9 17.5px,#fffefe 23.5px,#e5e5ff 33.5px,#d2d2ff 55.5px,#fff 74.5px,#ffd1d1 96.5px,#ffefef 121.5px,#fefeff 126.5px,#e0e0ff 137.5px,#d6d6ff 159.5px,#fff 175.5px,#ffd1d1 199.5px,#ffd6d6 206.5px)"></i><i style="top:248px;background:linear-gradient(90deg,#ffd6d6 0.5px,#ffe8e8 17.5px,#fdfdff 25.5px,#e4e4ff 36.5px,#d3d3ff 55.5px,#fff 76.5px,#ffd3d3 96.5px,#ffe6e6 117.5px,#fefeff 127.5px,#e1e1ff 139.5px,#d5d5ff 158.5px,#fffdfd 178.5px,#ffd3d3 199.5px,#ffd5d5 206.5px)"></i><i style="top:249px;background:linear-gradient(90deg,#ffd5d5 0.5px,#ffe4e4 16.5px,#fefeff 26.5px,#ddf 42.5px,#d3d3ff 56.5px,#fffdfd 78.5px,#ffd5d5 96.5px,#fdd 113.5px,#fefeff 128.5px,#dfdfff 142.5px,#d4d4ff 158.5px,#f7f7ff 175.5px,#fffcfc 180.5px,#ffd5d5 199.5px,#ffd4d4 206.5px)"></i><i style="top:250px;background:linear-gradient(90deg,#ffd5d5 0.5px,#ffe2e2 16.5px,#fff 27.5px,#d7d7ff 47.5px,#d6d6ff 59.5px,#fffefe 79.5px,#ffd6d6 97.5px,#ffdbdb 113.5px,#fffcfc 128.5px,#f9f9ff 131.5px,#d8d8ff 148.5px,#d6d6ff 161.5px,#fff 180.5px,#ffd6d6 199.5px,#ffd4d4 206.5px)"></i><i style="top:251px;background:linear-gradient(90deg,#ffd5d5 0.5px,#ffdede 15.5px,#fdfdff 29.5px,#d6d6ff 49.5px,#d7d7ff 61.5px,#fffefe 80.5px,#ffd8d8 97.5px,#ffd8d8 112.5px,#fff6f6 127.5px,#fdfdff 131.5px,#d8d8ff 149.5px,#d6d6ff 162.5px,#fffdfd 182.5px,#ffd7d7 200.5px,#ffd4d4 206.5px)"></i><i style="top:252px;background:linear-gradient(90deg,#ffd6d6 0.5px,#ffdbdb 14.5px,#fefeff 30.5px,#d6d6ff 50.5px,#d9d9ff 63.5px,#fff 81.5px,#ffd8d8 99.5px,#ffd9d9 114.5px,#fefeff 132.5px,#d7d7ff 151.5px,#d7d7ff 164.5px,#fffefe 183.5px,#ffd7d7 201.5px,#ffd4d4 206.5px)"></i><i style="top:253px;background:linear-gradient(90deg,#ffd7d7 0.5px,#ffd9d9 14.5px,#fdfdff 32.5px,#d6d6ff 51.5px,#d8d8ff 64.5px,#fffdfd 83.5px,#ffd8d8 100.5px,#ffd7d7 114.5px,#fffafa 131.5px,#fcfcff 134.5px,#d7d7ff 152.5px,#d7d7ff 165.5px,#fff 184.5px,#ffd8d8 202.5px,#ffd5d5 206.5px)"></i><i style="top:254px;background:linear-gradient(90deg,#ffd8d8 0.5px,#ffd8d8 14.5px,#fefeff 33.5px,#d7d7ff 52.5px,#d8d8ff 65.5px,#fffefe 84.5px,#ffd8d8 102.5px,#ffd8d8 116.5px,#fdfdff 135.5px,#d8d8ff 153.5px,#d7d7ff 166.5px,#fffdfd 186.5px,#ffd8d8 204.5px,#ffd6d6 206.5px)"></i><i style="top:255px;background:linear-gradient(90deg,#ffdada 0.5px,#ffd6d6 14.5px,#fff7f7 31.5px,#fcfcff 35.5px,#d7d7ff 53.5px,#d9d9ff 67.5px,#fff 85.5px,#ffd8d8 103.5px,#ffd8d8 117.5px,#fefeff 136.5px,#d8d8ff 154.5px,#d7d7ff 167.5px,#fbfbff 185.5px,#fffbfb 188.5px,#ffd8d8 205.5px,#ffd7d7 206.5px)"></i><i style="top:256px;background:linear-gradient(90deg,#ffdcdc 0.5px,#ffd5d5 14.5px,#fff1f1 30.5px,#fdfdff 36.5px,#d8d8ff 54.5px,#d8d8ff 68.5px,#fffdfd 87.5px,#ffd8d8 105.5px,#ffd8d8 119.5px,#fff 137.5px,#d8d8ff 156.5px,#d9d9ff 170.5px,#fff 188.5px,#ffd9d9 206.5px)"></i><i style="top:257px;background:linear-gradient(90deg,#ffdede 0.5px,#ffd5d5 14.5px,#ffecec 29.5px,#fefeff 37.5px,#d8d8ff 55.5px,#d8d8ff 69.5px,#fffefe 88.5px,#ffd8d8 106.5px,#ffd8d8 120.5px,#fefeff 139.5px,#d8d8ff 157.5px,#d8d8ff 171.5px,#fffdfd 190.5px,#ffdada 206.5px)"></i><i style="top:258px;background:linear-gradient(90deg,#ffe1e1 0.5px,#ffd4d4 14.5px,#ffe8e8 29.5px,#fff 38.5px,#d8d8ff 57.5px,#d9d9ff 71.5px,#fff 89.5px,#ffd9d9 107.5px,#ffd8d8 121.5px,#fff 140.5px,#d9d9ff 158.5px,#d8d8ff 172.5px,#fffefe 191.5px,#ffdcdc 206.5px)"></i><i style="top:259px;background:linear-gradient(90deg,#ffe3e3 0.5px,#ffd4d4 14.5px,#ffe3e3 28.5px,#fdfdff 40.5px,#d8d8ff 58.5px,#d9d9ff 72.5px,#fffdfd 91.5px,#ffd8d8 109.5px,#ffd9d9 123.5px,#fdfdff 142.5px,#d8d8ff 160.5px,#d9d9ff 174.5px,#fffdfd 193.5px,#ffdfdf 206.5px)"></i><i style="top:260px;background:linear-gradient(90deg,#ffe6e6 0.5px,#ffd5d5 15.5px,#ffe3e3 29.5px,#fefeff 41.5px,#d9d9ff 59.5px,#d8d8ff 73.5px,#fffefe 92.5px,#ffd9d9 110.5px,#ffd8d8 124.5px,#fefeff 143.5px,#d8d8ff 161.5px,#d8d8ff 175.5px,#fffefe 194.5px,#ffe1e1 206.5px)"></i><i style="top:261px;background:linear-gradient(90deg,#ffe9e9 0.5px,#ffd5d5 15.5px,#ffe0e0 29.5px,#fdfdff 43.5px,#d8d8ff 61.5px,#d9d9ff 75.5px,#fff 93.5px,#ffd8d8 112.5px,#ffd9d9 126.5px,#fff 144.5px,#d8d8ff 163.5px,#d9d9ff 177.5px,#fff 195.5px,#ffe4e4 206.5px)"></i><i style="top:262px;background:linear-gradient(90deg,#ffeded 0.5px,#ffd6d6 15.5px,#ffdede 29.5px,#fefeff 44.5px,#d9d9ff 62.5px,#d9d9ff 76.5px,#fffefe 95.5px,#ffd9d9 113.5px,#ffd9d9 127.5px,#fdfdff 146.5px,#d8d8ff 164.5px,#d9d9ff 178.5px,#fffdfd 197.5px,#ffe7e7 206.5px)"></i><i style="top:263px;background:linear-gradient(90deg,#fff0f0 0.5px,#ffd6d6 16.5px,#fdd 30.5px,#fff 45.5px,#d8d8ff 64.5px,#d9d9ff 78.5px,#fff 96.5px,#ffd9d9 114.5px,#ffd8d8 128.5px,#fff 147.5px,#d9d9ff 165.5px,#d8d8ff 179.5px,#fffefe 198.5px,#ffeaea 206.5px)"></i><i style="top:264px;background:linear-gradient(90deg,#fff3f3 0.5px,#ffd7d7 16.5px,#ffdbdb 30.5px,#fdfdff 47.5px,#d9d9ff 65.5px,#d9d9ff 79.5px,#fffdfd 98.5px,#ffd9d9 116.5px,#ffd9d9 130.5px,#fdfdff 149.5px,#d8d8ff 167.5px,#d9d9ff 181.5px,#fffdfd 200.5px,#fee 206.5px)"></i><i style="top:265px;background:linear-gradient(90deg,#fff7f7 0.5px,#ffd7d7 17.5px,#ffdbdb 31.5px,#fff 48.5px,#d9d9ff 66.5px,#d9d9ff 80.5px,#fffefe 99.5px,#ffd9d9 117.5px,#ffd9d9 131.5px,#fefeff 150.5px,#d9d9ff 168.5px,#d9d9ff 182.5px,#fffefe 201.5px,#fff1f1 206.5px)"></i><i style="top:266px;background:linear-gradient(90deg,#fffbfb 0.5px,#ffd8d8 18.5px,#ffdada 32.5px,#fdfdff 50.5px,#d9d9ff 68.5px,#d9d9ff 82.5px,#fffdfd 101.5px,#ffd9d9 119.5px,#ffd9d9 133.5px,#fff 151.5px,#d8d8ff 170.5px,#d9d9ff 184.5px,#fff 202.5px,#fff5f5 206.5px)"></i><i style="top:267px;background:linear-gradient(90deg,#fffefe 0.5px,#ffd9d9 18.5px,#ffd9d9 32.5px,#fefeff 51.5px,#d9d9ff 69.5px,#d9d9ff 83.5px,#fffefe 102.5px,#ffd9d9 120.5px,#ffd9d9 134.5px,#fefeff 153.5px,#d9d9ff 171.5px,#d9d9ff 185.5px,#fffdfd 204.5px,#fff8f8 206.5px)"></i><i style="top:268px;background:linear-gradient(90deg,#fcfcff 0.5px,#fff5f5 5.5px,#ffd7d7 22.5px,#ffdcdc 36.5px,#fdfdff 53.5px,#d9d9ff 71.5px,#dadaff 85.5px,#fff 103.5px,#ffd9d9 122.5px,#ffdada 136.5px,#fff 154.5px,#d9d9ff 173.5px,#dadaff 187.5px,#fff 205.5px,#fffcfc 206.5px)"></i><i style="top:269px;background:linear-gradient(90deg,#f8f8ff 0.5px,#fffcfc 4.5px,#ffd8d8 22.5px,#ffdada 36.5px,#fefeff 54.5px,#d9d9ff 72.5px,#d9d9ff 86.5px,#fffefe 105.5px,#ffd9d9 123.5px,#ffd9d9 137.5px,#fdfdff 156.5px,#d9d9ff 174.5px,#d9d9ff 188.5px,#fefeff 206.5px)"></i><i style="top:270px;background:linear-gradient(90deg,#f5f5ff 0.5px,#fffdfd 5.5px,#ffd9d9 23.5px,#ffdada 37.5px,#fff 55.5px,#d9d9ff 74.5px,#dadaff 88.5px,#fff 106.5px,#ffd9d9 125.5px,#ffdada 139.5px,#fff 157.5px,#d9d9ff 176.5px,#dadaff 190.5px,#fbfbff 206.5px)"></i><i style="top:271px;background:linear-gradient(90deg,#f1f1ff 0.5px,#fffefe 6.5px,#ffd9d9 24.5px,#ffd9d9 38.5px,#fefeff 57.5px,#d9d9ff 75.5px,#d9d9ff 89.5px,#fffdfd 108.5px,#ffd9d9 126.5px,#ffdada 140.5px,#fdfdff 159.5px,#d9d9ff 177.5px,#dadaff 191.5px,#f7f7ff 206.5px)"></i><i style="top:272px;background:linear-gradient(90deg,#eef 0.5px,#fff 7.5px,#ffd9d9 26.5px,#ffdada 40.5px,#fff 58.5px,#d9d9ff 77.5px,#dadaff 91.5px,#fff 109.5px,#ffd9d9 128.5px,#ffdada 142.5px,#fefeff 160.5px,#d9d9ff 179.5px,#dadaff 193.5px,#f3f3ff 206.5px)"></i><i style="top:273px;background:linear-gradient(90deg,#eaeaff 0.5px,#fffefe 9.5px,#ffdada 27.5px,#ffdada 41.5px,#fdfdff 60.5px,#d9d9ff 78.5px,#dadaff 92.5px,#fffdfd 111.5px,#ffd9d9 129.5px,#ffdada 143.5px,#fdfdff 162.5px,#d9d9ff 180.5px,#dadaff 194.5px,#f0f0ff 206.5px)"></i><i style="top:274px;background:linear-gradient(90deg,#e7e7ff 0.5px,#fff 10.5px,#ffd9d9 29.5px,#ffdada 43.5px,#fff 61.5px,#d9d9ff 80.5px,#dadaff 94.5px,#fffefe 112.5px,#ffd9d9 131.5px,#ffdbdb 145.5px,#fefeff 163.5px,#d9d9ff 182.5px,#dbdbff 196.5px,#ededff 206.5px)"></i><i style="top:275px;background:linear-gradient(90deg,#e4e4ff 0.5px,#fffdfd 12.5px,#ffdada 30.5px,#ffdada 44.5px,#fdfdff 63.5px,#dadaff 81.5px,#dadaff 95.5px,#fffdfd 114.5px,#ffd9d9 132.5px,#ffdada 146.5px,#fdfdff 165.5px,#d9d9ff 183.5px,#dadaff 197.5px,#e9e9ff 206.5px)"></i><i style="top:276px;background:linear-gradient(90deg,#e2e2ff 0.5px,#fff 13.5px,#ffd9d9 32.5px,#ffdbdb 46.5px,#fefeff 64.5px,#d9d9ff 83.5px,#dbdbff 97.5px,#fffefe 115.5px,#ffd9d9 134.5px,#ffdbdb 148.5px,#fefeff 166.5px,#d9d9ff 185.5px,#dbdbff 199.5px,#e6e6ff 206.5px)"></i><i style="top:277px;background:linear-gradient(90deg,#dfdfff 0.5px,#fffdfd 15.5px,#ffdada 33.5px,#ffdada 47.5px,#fdfdff 66.5px,#dadaff 84.5px,#dadaff 98.5px,#fffdfd 117.5px,#ffdada 135.5px,#ffdada 149.5px,#fff 167.5px,#d9d9ff 186.5px,#dadaff 200.5px,#e4e4ff 206.5px)"></i><i style="top:278px;background:linear-gradient(90deg,#ddf 0.5px,#fff 16.5px,#ffd9d9 35.5px,#ffdbdb 49.5px,#fefeff 67.5px,#d9d9ff 86.5px,#dbdbff 100.5px,#fffefe 118.5px,#ffd9d9 137.5px,#ffdbdb 151.5px,#fefeff 169.5px,#d9d9ff 188.5px,#dbdbff 202.5px,#e1e1ff 206.5px)"></i><i style="top:279px;background:linear-gradient(90deg,#dbdbff 0.5px,#fffdfd 18.5px,#ffdada 36.5px,#ffdada 50.5px,#fdfdff 69.5px,#dadaff 87.5px,#dbdbff 101.5px,#fffdfd 120.5px,#ffdada 138.5px,#ffdbdb 152.5px,#fff 170.5px,#dadaff 189.5px,#dbdbff 203.5px,#dfdfff 206.5px)"></i><i style="top:280px;background:linear-gradient(90deg,#dadaff 0.5px,#fffefe 19.5px,#ffd9d9 38.5px,#ffdbdb 52.5px,#fefeff 70.5px,#d9d9ff 89.5px,#dbdbff 103.5px,#fffefe 121.5px,#ffd9d9 140.5px,#ffdbdb 154.5px,#fefeff 172.5px,#d9d9ff 191.5px,#dbdbff 205.5px,#ddf 206.5px)"></i><i style="top:281px;background:linear-gradient(90deg,#d9d9ff 0.5px,#f9f9ff 18.5px,#fffdfd 21.5px,#ffdada 39.5px,#ffdbdb 53.5px,#fdfdff 72.5px,#dadaff 90.5px,#dbdbff 104.5px,#fff 122.5px,#ffdada 141.5px,#ffdbdb 155.5px,#fff 173.5px,#dadaff 192.5px,#dbdbff 206.5px)"></i><i style="top:282px;background:linear-gradient(90deg,#d8d8ff 0.5px,#f3f3ff 17.5px,#fffefe 22.5px,#ffdada 41.5px,#ffdbdb 55.5px,#fefeff 73.5px,#dadaff 92.5px,#dbdbff 106.5px,#fffefe 124.5px,#ffd9d9 143.5px,#ffdcdc 157.5px,#fefeff 175.5px,#d9d9ff 194.5px,#dadaff 206.5px)"></i><i style="top:283px;background:linear-gradient(90deg,#d7d7ff 0.5px,#eef 16.5px,#fffdfd 24.5px,#ffdada 42.5px,#ffdbdb 56.5px,#fdfdff 75.5px,#dadaff 93.5px,#dbdbff 107.5px,#fff 125.5px,#ffdada 144.5px,#ffdbdb 158.5px,#fff 176.5px,#dadaff 195.5px,#d8d8ff 206.5px)"></i><i style="top:284px;background:linear-gradient(90deg,#d7d7ff 0.5px,#e8e8ff 15.5px,#fffefe 25.5px,#ffdada 44.5px,#ffdcdc 58.5px,#fefeff 76.5px,#dadaff 95.5px,#dcdcff 109.5px,#fffefe 127.5px,#ffdada 146.5px,#ffdcdc 160.5px,#fefeff 178.5px,#d9d9ff 197.5px,#d8d8ff 206.5px)"></i><i style="top:285px;background:linear-gradient(90deg,#d7d7ff 0.5px,#e6e6ff 15.5px,#fffdfd 27.5px,#ffdada 45.5px,#ffdbdb 59.5px,#fdfdff 78.5px,#dadaff 96.5px,#dbdbff 110.5px,#fff 128.5px,#ffdada 147.5px,#ffdbdb 161.5px,#fff 179.5px,#dadaff 198.5px,#d7d7ff 206.5px)"></i><i style="top:286px;background:linear-gradient(90deg,#d7d7ff 0.5px,#e3e3ff 15.5px,#fffefe 28.5px,#ffdada 47.5px,#ffdcdc 61.5px,#fefeff 79.5px,#dadaff 98.5px,#dcdcff 112.5px,#fffefe 130.5px,#ffdada 149.5px,#ffdcdc 163.5px,#fdfdff 181.5px,#dadaff 200.5px,#d7d7ff 206.5px)"></i><i style="top:287px;background:linear-gradient(90deg,#d8d8ff 0.5px,#dfdfff 14.5px,#fffdfd 30.5px,#ffdada 48.5px,#ffdbdb 62.5px,#fdfdff 81.5px,#dadaff 99.5px,#dbdbff 113.5px,#fff 131.5px,#ffdada 150.5px,#ffdbdb 164.5px,#fff 182.5px,#dadaff 201.5px,#d7d7ff 206.5px)"></i><i style="top:288px;background:linear-gradient(90deg,#d9d9ff 0.5px,#ddf 14.5px,#fffefe 31.5px,#ffdada 50.5px,#ffdcdc 64.5px,#fefeff 82.5px,#dadaff 101.5px,#dcdcff 115.5px,#fffefe 133.5px,#ffdada 152.5px,#ffdcdc 166.5px,#fdfdff 184.5px,#dadaff 203.5px,#d8d8ff 206.5px)"></i><i style="top:289px;background:linear-gradient(90deg,#dbdbff 0.5px,#dbdbff 14.5px,#fffdfd 33.5px,#ffdbdb 51.5px,#ffdbdb 65.5px,#fdfdff 84.5px,#dbdbff 102.5px,#dcdcff 116.5px,#fff 134.5px,#ffdada 153.5px,#ffdcdc 167.5px,#fff 185.5px,#dadaff 204.5px,#d9d9ff 206.5px)"></i><i style="top:290px;background:linear-gradient(90deg,#dcdcff 0.5px,#dadaff 14.5px,#fffefe 34.5px,#ffdada 53.5px,#ffdcdc 67.5px,#fefeff 85.5px,#dadaff 104.5px,#dcdcff 118.5px,#fffefe 136.5px,#ffdada 155.5px,#ffdcdc 169.5px,#fdfdff 187.5px,#dadaff 206.5px)"></i><i style="top:291px;background:linear-gradient(90deg,#dedeff 0.5px,#d9d9ff 14.5px,#f5f5ff 31.5px,#fffdfd 36.5px,#ffdada 55.5px,#fdd 69.5px,#fff 86.5px,#dbdbff 105.5px,#dcdcff 119.5px,#fff 137.5px,#ffdbdb 156.5px,#ffdcdc 170.5px,#fff 188.5px,#dcdcff 206.5px)"></i><i style="top:292px;background:linear-gradient(90deg,#e1e1ff 0.5px,#d8d8ff 14.5px,#efefff 30.5px,#fffefe 37.5px,#ffdada 56.5px,#ffdcdc 70.5px,#fefeff 88.5px,#dadaff 107.5px,#dcdcff 121.5px,#fffefe 139.5px,#ffdada 158.5px,#fdd 172.5px,#fdfdff 190.5px,#ddf 206.5px)"></i><i style="top:293px;background:linear-gradient(90deg,#e3e3ff 0.5px,#d8d8ff 15.5px,#eef 31.5px,#fffdfd 39.5px,#ffdada 58.5px,#fdd 72.5px,#fff 89.5px,#dbdbff 108.5px,#dcdcff 122.5px,#fff 140.5px,#ffdbdb 159.5px,#ffdcdc 173.5px,#fff 191.5px,#dfdfff 206.5px)"></i><i style="top:294px;background:linear-gradient(90deg,#e6e6ff 0.5px,#d8d8ff 15.5px,#ebebff 31.5px,#fffefe 40.5px,#ffdbdb 59.5px,#ffdcdc 73.5px,#fefeff 91.5px,#dbdbff 110.5px,#ddf 124.5px,#fffefe 142.5px,#ffdada 161.5px,#fdd 175.5px,#fdfdff 193.5px,#e2e2ff 206.5px)"></i><i style="top:295px;background:linear-gradient(90deg,#e9e9ff 0.5px,#d8d8ff 15.5px,#e6e6ff 30.5px,#fffdfd 42.5px,#ffdada 61.5px,#fdd 75.5px,#fdfdff 93.5px,#dadaff 112.5px,#ddf 126.5px,#fff 143.5px,#ffdbdb 162.5px,#ffdcdc 176.5px,#fff 194.5px,#e4e4ff 206.5px)"></i><i style="top:296px;background:linear-gradient(90deg,#ececff 0.5px,#d8d8ff 16.5px,#e5e5ff 31.5px,#fffefe 43.5px,#ffdbdb 62.5px,#fdd 76.5px,#fefeff 94.5px,#dbdbff 113.5px,#ddf 127.5px,#fffefe 145.5px,#ffdbdb 164.5px,#fdd 178.5px,#fdfdff 196.5px,#e7e7ff 206.5px)"></i><i style="top:297px;background:linear-gradient(90deg,#efefff 0.5px,#d9d9ff 16.5px,#e3e3ff 31.5px,#fffdfd 45.5px,#ffdada 64.5px,#fdd 78.5px,#fdfdff 96.5px,#dadaff 115.5px,#ddf 129.5px,#fff 146.5px,#ffdbdb 165.5px,#ffdcdc 179.5px,#fff 197.5px,#eaeaff 206.5px)"></i><i style="top:298px;background:linear-gradient(90deg,#f3f3ff 0.5px,#d9d9ff 17.5px,#e2e2ff 32.5px,#fffefe 46.5px,#ffdbdb 65.5px,#fdd 79.5px,#fefeff 97.5px,#dbdbff 116.5px,#ddf 130.5px,#fffefe 148.5px,#ffdbdb 167.5px,#fdd 181.5px,#fdfdff 199.5px,#ededff 206.5px)"></i><i style="top:299px;background:linear-gradient(90deg,#f6f6ff 0.5px,#dadaff 17.5px,#e0e0ff 32.5px,#fffdfd 48.5px,#ffdbdb 67.5px,#fdd 81.5px,#fdfdff 99.5px,#dbdbff 118.5px,#dedeff 132.5px,#fff 149.5px,#ffdbdb 168.5px,#fdd 182.5px,#fff 200.5px,#f1f1ff 206.5px)"></i><i style="top:300px;background:linear-gradient(90deg,#fafaff 0.5px,#dadaff 18.5px,#dfdfff 33.5px,#fffefe 49.5px,#ffdbdb 68.5px,#fdd 82.5px,#fefeff 100.5px,#dbdbff 119.5px,#ddf 133.5px,#fffefe 151.5px,#ffdbdb 170.5px,#fdd 184.5px,#fdfdff 202.5px,#f4f4ff 206.5px)"></i><i style="top:301px;background:linear-gradient(90deg,#fdfdff 0.5px,#dbdbff 19.5px,#dedeff 33.5px,#fffdfd 51.5px,#ffdbdb 70.5px,#ffdede 84.5px,#fdfdff 102.5px,#dbdbff 121.5px,#dfdfff 136.5px,#fff 152.5px,#ffdcdc 171.5px,#fdd 185.5px,#fff 203.5px,#f8f8ff 206.5px)"></i><i style="top:302px;background:linear-gradient(90deg,#fffdfd 0.5px,#dbdbff 21.5px,#dfdfff 36.5px,#fffefe 52.5px,#ffdbdb 71.5px,#fdd 85.5px,#fefeff 103.5px,#dbdbff 122.5px,#ddf 136.5px,#fffefe 154.5px,#ffdbdb 173.5px,#ffdfdf 188.5px,#fefeff 205.5px,#fbfbff 206.5px)"></i><i style="top:303px;background:linear-gradient(90deg,#fffafa 0.5px,#fdfdff 3.5px,#dbdbff 22.5px,#dfdfff 37.5px,#fffdfd 54.5px,#ffdbdb 73.5px,#ffdfdf 88.5px,#fdfdff 105.5px,#dbdbff 124.5px,#dfdfff 139.5px,#fff 155.5px,#ffdcdc 174.5px,#ffdede 189.5px,#fff 206.5px)"></i><i style="top:304px;background:linear-gradient(90deg,#fff6f6 0.5px,#fcfcff 5.5px,#dbdbff 24.5px,#e0e0ff 39.5px,#fffefe 55.5px,#ffdcdc 74.5px,#ffdede 89.5px,#fefeff 106.5px,#dbdbff 125.5px,#dfdfff 140.5px,#fffefe 157.5px,#ffdbdb 176.5px,#ffdfdf 191.5px,#fffcfc 206.5px)"></i><i style="top:305px;background:linear-gradient(90deg,#fff3f3 0.5px,#fdfdff 6.5px,#dbdbff 25.5px,#dfdfff 40.5px,#fffdfd 57.5px,#ffdbdb 76.5px,#ffdfdf 91.5px,#fdfdff 108.5px,#dbdbff 127.5px,#dfdfff 142.5px,#fff 158.5px,#ffdcdc 177.5px,#ffdede 192.5px,#fff8f8 206.5px)"></i><i style="top:306px;background:linear-gradient(90deg,#fff0f0 0.5px,#fefeff 7.5px,#dcdcff 26.5px,#dedeff 41.5px,#fffefe 58.5px,#ffdcdc 77.5px,#ffdfdf 92.5px,#fefeff 109.5px,#dcdcff 128.5px,#dfdfff 143.5px,#fffefe 160.5px,#ffdcdc 179.5px,#ffdfdf 194.5px,#fff5f5 206.5px)"></i><i style="top:307px;background:linear-gradient(90deg,#ffecec 0.5px,#fdfdff 9.5px,#dcdcff 28.5px,#dfdfff 43.5px,#fffdfd 60.5px,#ffdbdb 79.5px,#ffdfdf 94.5px,#fdfdff 111.5px,#dbdbff 130.5px,#dfdfff 145.5px,#fff 161.5px,#ffdcdc 180.5px,#ffdede 195.5px,#fff1f1 206.5px)"></i><i style="top:308px;background:linear-gradient(90deg,#ffeaea 0.5px,#fff 10.5px,#dcdcff 29.5px,#dfdfff 44.5px,#fffefe 61.5px,#ffdcdc 80.5px,#ffdfdf 95.5px,#fefeff 112.5px,#dcdcff 131.5px,#dfdfff 146.5px,#fffefe 163.5px,#ffdcdc 182.5px,#ffdfdf 197.5px,#fee 206.5px)"></i><i style="top:309px;background:linear-gradient(90deg,#ffe7e7 0.5px,#fdfdff 12.5px,#dcdcff 31.5px,#dfdfff 46.5px,#fffdfd 63.5px,#ffdcdc 82.5px,#ffdfdf 97.5px,#fdfdff 114.5px,#dcdcff 133.5px,#e0e0ff 148.5px,#fffdfd 165.5px,#ffdcdc 184.5px,#ffe0e0 199.5px,#ffebeb 206.5px)"></i><i style="top:310px;background:linear-gradient(90deg,#ffe4e4 0.5px,#fff 13.5px,#dcdcff 32.5px,#dfdfff 47.5px,#fffefe 64.5px,#ffdcdc 83.5px,#ffdfdf 98.5px,#fefeff 115.5px,#dcdcff 134.5px,#dfdfff 149.5px,#fffefe 166.5px,#ffdcdc 185.5px,#ffdfdf 200.5px,#ffe8e8 206.5px)"></i><i style="top:311px;background:linear-gradient(90deg,#ffe2e2 0.5px,#fdfdff 15.5px,#dcdcff 34.5px,#dfdfff 49.5px,#fffdfd 66.5px,#ffdcdc 85.5px,#ffe0e0 100.5px,#fdfdff 117.5px,#dcdcff 136.5px,#e0e0ff 151.5px,#fffdfd 168.5px,#ffdcdc 187.5px,#ffe0e0 202.5px,#ffe6e6 206.5px)"></i><i style="top:312px;background:linear-gradient(90deg,#ffe0e0 0.5px,#fff 16.5px,#dcdcff 35.5px,#dfdfff 50.5px,#fffefe 67.5px,#ffdcdc 86.5px,#ffdfdf 101.5px,#fefeff 118.5px,#dcdcff 137.5px,#dfdfff 152.5px,#fffefe 169.5px,#ffdcdc 188.5px,#ffdfdf 203.5px,#ffe3e3 206.5px)"></i><i style="top:313px;background:linear-gradient(90deg,#ffdede 0.5px,#fefeff 18.5px,#dcdcff 37.5px,#e0e0ff 52.5px,#fffdfd 69.5px,#ffdcdc 88.5px,#ffe0e0 103.5px,#fdfdff 120.5px,#dcdcff 139.5px,#e0e0ff 154.5px,#fffdfd 171.5px,#ffdcdc 190.5px,#ffe0e0 205.5px,#ffe1e1 206.5px)"></i><i style="top:314px;background:linear-gradient(90deg,#fdd 0.5px,#fcfcff 20.5px,#dcdcff 39.5px,#e0e0ff 54.5px,#fffefe 70.5px,#fdd 89.5px,#ffdfdf 104.5px,#fefeff 121.5px,#ddf 140.5px,#dfdfff 155.5px,#fffefe 172.5px,#ffdcdc 191.5px,#ffdfdf 206.5px)"></i><i style="top:315px;background:linear-gradient(90deg,#ffdcdc 0.5px,#fffcfc 19.5px,#f7f7ff 24.5px,#dbdbff 42.5px,#e2e2ff 57.5px,#fffdfd 72.5px,#ffdcdc 91.5px,#ffe0e0 106.5px,#fdfdff 123.5px,#dcdcff 142.5px,#e0e0ff 157.5px,#fffdfd 174.5px,#ffdcdc 193.5px,#ffdede 206.5px)"></i><i style="top:316px;background:linear-gradient(90deg,#ffdbdb 0.5px,#fff6f6 18.5px,#fcfcff 23.5px,#dcdcff 42.5px,#e0e0ff 57.5px,#fff 73.5px,#fdd 92.5px,#ffdfdf 107.5px,#fefeff 124.5px,#ddf 143.5px,#dfdfff 158.5px,#fffefe 175.5px,#fdd 194.5px,#fdd 206.5px)"></i><i style="top:317px;background:linear-gradient(90deg,#ffdada 0.5px,#fff1f1 17.5px,#fefeff 24.5px,#ddf 43.5px,#e0e0ff 58.5px,#fffdfd 75.5px,#ffdcdc 94.5px,#ffe0e0 109.5px,#fdfdff 126.5px,#dcdcff 145.5px,#e0e0ff 160.5px,#fffdfd 177.5px,#ffdcdc 196.5px,#ffdcdc 206.5px)"></i><i style="top:318px;background:linear-gradient(90deg,#ffdada 0.5px,#ffecec 16.5px,#fdfdff 26.5px,#dcdcff 45.5px,#e1e1ff 60.5px,#fff 76.5px,#fdd 95.5px,#ffdfdf 110.5px,#fefeff 127.5px,#ddf 146.5px,#e0e0ff 161.5px,#fffefe 178.5px,#fdd 197.5px,#ffdbdb 206.5px)"></i><i style="top:319px;background:linear-gradient(90deg,#ffdada 0.5px,#ffe9e9 16.5px,#fefeff 27.5px,#ddf 46.5px,#e0e0ff 61.5px,#fffefe 78.5px,#fdd 97.5px,#ffe0e0 112.5px,#fdfdff 129.5px,#ddf 148.5px,#e0e0ff 163.5px,#fffdfd 180.5px,#fdd 199.5px,#ffdbdb 206.5px)"></i><i style="top:320px;background:linear-gradient(90deg,#ffdbdb 0.5px,#ffe5e5 15.5px,#fdfdff 29.5px,#dcdcff 48.5px,#e1e1ff 63.5px,#fffcfc 80.5px,#ffdcdc 99.5px,#ffe1e1 114.5px,#fefeff 130.5px,#ddf 149.5px,#e0e0ff 164.5px,#fffefe 181.5px,#fdd 200.5px,#ffdada 206.5px)"></i><i style="top:321px;background:linear-gradient(90deg,#ffdcdc 0.5px,#ffe3e3 15.5px,#fefeff 30.5px,#ddf 49.5px,#e0e0ff 64.5px,#fffefe 81.5px,#fdd 100.5px,#ffe0e0 115.5px,#fdfdff 132.5px,#ddf 151.5px,#e0e0ff 166.5px,#fffdfd 183.5px,#fdd 202.5px,#ffdbdb 206.5px)"></i><i style="top:322px;background:linear-gradient(90deg,#fdd 0.5px,#ffe1e1 15.5px,#fdfdff 32.5px,#ddf 51.5px,#e1e1ff 66.5px,#fffdfd 83.5px,#fdd 102.5px,#ffe1e1 117.5px,#fff 133.5px,#ddf 152.5px,#e0e0ff 167.5px,#fffefe 184.5px,#fdd 203.5px,#ffdbdb 206.5px)"></i><i style="top:323px;background:linear-gradient(90deg,#ffdede 0.5px,#ffdfdf 15.5px,#fefeff 33.5px,#ddf 52.5px,#e0e0ff 67.5px,#fffefe 84.5px,#fdd 103.5px,#ffe0e0 118.5px,#fdfdff 135.5px,#ddf 154.5px,#e0e0ff 169.5px,#fffdfd 186.5px,#fdd 205.5px,#ffdcdc 206.5px)"></i><i style="top:324px;background:linear-gradient(90deg,#ffe0e0 0.5px,#ffdede 15.5px,#fdfdff 35.5px,#ddf 54.5px,#e1e1ff 69.5px,#fffdfd 86.5px,#fdd 105.5px,#ffe1e1 120.5px,#fff 136.5px,#ddf 156.5px,#e1e1ff 171.5px,#fffefe 187.5px,#fdd 206.5px)"></i><i style="top:325px;background:linear-gradient(90deg,#ffe2e2 0.5px,#fdd 15.5px,#fffcfc 34.5px,#fafaff 38.5px,#ddf 56.5px,#e2e2ff 71.5px,#fffefe 87.5px,#fdd 106.5px,#ffe1e1 121.5px,#fefeff 138.5px,#ddf 157.5px,#e1e1ff 172.5px,#fffdfd 189.5px,#ffdfdf 206.5px)"></i><i style="top:326px;background:linear-gradient(90deg,#ffe4e4 0.5px,#ffdcdc 15.5px,#fff6f6 33.5px,#fdfdff 38.5px,#ddf 57.5px,#e1e1ff 72.5px,#fffdfd 89.5px,#fdd 108.5px,#ffe1e1 123.5px,#fcfcff 140.5px,#ddf 159.5px,#e1e1ff 174.5px,#fffefe 190.5px,#ffe1e1 206.5px)"></i><i style="top:327px;background:linear-gradient(90deg,#ffe6e6 0.5px,#ffdbdb 15.5px,#fff1f1 32.5px,#fefeff 39.5px,#dedeff 58.5px,#e1e1ff 73.5px,#fffefe 90.5px,#ffdede 109.5px,#ffe1e1 124.5px,#fefeff 141.5px,#ddf 160.5px,#e1e1ff 175.5px,#fffdfd 192.5px,#ffe3e3 206.5px)"></i><i style="top:328px;background:linear-gradient(90deg,#ffe9e9 0.5px,#ffdbdb 16.5px,#fff0f0 33.5px,#fdfdff 41.5px,#ddf 60.5px,#e1e1ff 75.5px,#fffdfd 92.5px,#fdd 111.5px,#ffe1e1 126.5px,#fdfdff 143.5px,#ddf 162.5px,#e1e1ff 177.5px,#fff 193.5px,#ffe5e5 206.5px)"></i><i style="top:329px;background:linear-gradient(90deg,#ffecec 0.5px,#ffdbdb 16.5px,#ffebeb 32.5px,#fefeff 42.5px,#dedeff 61.5px,#e1e1ff 76.5px,#fffefe 93.5px,#ffdede 112.5px,#ffe1e1 127.5px,#fefeff 144.5px,#dedeff 163.5px,#e1e1ff 178.5px,#fffdfd 195.5px,#ffe7e7 206.5px)"></i><i style="top:330px;background:linear-gradient(90deg,#ffefef 0.5px,#ffdcdc 16.5px,#ffe9e9 32.5px,#fdfdff 44.5px,#dedeff 63.5px,#e1e1ff 78.5px,#fffdfd 95.5px,#fdd 114.5px,#ffe1e1 129.5px,#fdfdff 146.5px,#ddf 165.5px,#e2e2ff 180.5px,#fffcfc 197.5px,#ffeaea 206.5px)"></i><i style="top:331px;background:linear-gradient(90deg,#fff2f2 0.5px,#ffdcdc 17.5px,#ffe8e8 33.5px,#fefeff 45.5px,#ddf 65.5px,#e2e2ff 80.5px,#fffefe 96.5px,#ffdede 115.5px,#ffe1e1 130.5px,#fefeff 147.5px,#dedeff 166.5px,#e1e1ff 181.5px,#fffefe 198.5px,#ffeded 206.5px)"></i><i style="top:332px;background:linear-gradient(90deg,#fff5f5 0.5px,#fdd 17.5px,#ffe4e4 32.5px,#fdfdff 47.5px,#dedeff 66.5px,#e1e1ff 81.5px,#fffdfd 98.5px,#ffdede 117.5px,#ffe2e2 132.5px,#fdfdff 149.5px,#dedeff 168.5px,#e2e2ff 183.5px,#fffcfc 200.5px,#fff0f0 206.5px)"></i><i style="top:333px;background:linear-gradient(90deg,#fff8f8 0.5px,#fdd 18.5px,#ffe3e3 33.5px,#fefeff 48.5px,#ddf 68.5px,#e2e2ff 83.5px,#fffefe 99.5px,#fdd 119.5px,#ffe2e2 134.5px,#fefeff 150.5px,#dedeff 169.5px,#e1e1ff 184.5px,#fffefe 201.5px,#fff3f3 206.5px)"></i><i style="top:334px;background:linear-gradient(90deg,#fffbfb 0.5px,#fdd 19.5px,#ffe3e3 34.5px,#fdfdff 50.5px,#dedeff 69.5px,#e2e2ff 84.5px,#fffdfd 101.5px,#ffdede 120.5px,#ffe2e2 135.5px,#fdfdff 152.5px,#dedeff 171.5px,#e2e2ff 186.5px,#fffdfd 203.5px,#fff6f6 206.5px)"></i><i style="top:335px;background:linear-gradient(90deg,#fff 0.5px,#ffdede 20.5px,#ffe2e2 35.5px,#fefeff 51.5px,#dedeff 71.5px,#e2e2ff 86.5px,#fffefe 102.5px,#ffdede 122.5px,#ffe2e2 137.5px,#fefeff 153.5px,#dedeff 173.5px,#e2e2ff 188.5px,#fffefe 204.5px,#fff9f9 206.5px)"></i><i style="top:336px;background:linear-gradient(90deg,#fcfcff 0.5px,#fff3f3 7.5px,#fdd 24.5px,#ffe7e7 40.5px,#fdfdff 53.5px,#dedeff 72.5px,#e2e2ff 87.5px,#fffdfd 104.5px,#ffdede 123.5px,#ffe2e2 138.5px,#fdfdff 155.5px,#dedeff 174.5px,#e2e2ff 189.5px,#fffdfd 206.5px)"></i><i style="top:337px;background:linear-gradient(90deg,#f9f9ff 0.5px,#fffcfc 4.5px,#ffdede 23.5px,#ffe2e2 38.5px,#fefeff 54.5px,#dedeff 74.5px,#e2e2ff 89.5px,#fffefe 105.5px,#ffdede 125.5px,#ffe2e2 140.5px,#fefeff 156.5px,#dedeff 176.5px,#e3e3ff 191.5px,#fefeff 206.5px)"></i><i style="top:338px;background:linear-gradient(90deg,#f6f6ff 0.5px,#fffefe 5.5px,#ffdede 25.5px,#ffe3e3 40.5px,#fdfdff 56.5px,#dedeff 75.5px,#e2e2ff 90.5px,#fffdfd 107.5px,#ffdede 126.5px,#ffe2e2 141.5px,#fdfdff 158.5px,#dedeff 177.5px,#e2e2ff 192.5px,#fbfbff 206.5px)"></i><i style="top:339px;background:linear-gradient(90deg,#f3f3ff 0.5px,#fffdfd 7.5px,#ffdede 26.5px,#ffe2e2 41.5px,#fefeff 57.5px,#dedeff 77.5px,#e3e3ff 92.5px,#fffefe 108.5px,#ffdede 128.5px,#ffe3e3 143.5px,#fefeff 159.5px,#dedeff 179.5px,#e3e3ff 194.5px,#f8f8ff 206.5px)"></i><i style="top:340px;background:linear-gradient(90deg,#f0f0ff 0.5px,#fffefe 8.5px,#ffdede 28.5px,#ffe5e5 44.5px,#fdfdff 59.5px,#dedeff 79.5px,#e5e5ff 95.5px,#fffdfd 110.5px,#ffdede 130.5px,#ffe5e5 146.5px,#fdfdff 161.5px,#dedeff 181.5px,#e5e5ff 197.5px,#f5f5ff 206.5px)"></i><i style="top:341px;background:linear-gradient(90deg,#eef 0.5px,#fffdfd 10.5px,#ffdfdf 30.5px,#ffe6e6 46.5px,#fcfcff 61.5px,#dfdfff 81.5px,#e6e6ff 97.5px,#fffefe 111.5px,#ffdfdf 131.5px,#ffe5e5 147.5px,#fefeff 162.5px,#dfdfff 182.5px,#e5e5ff 198.5px,#f2f2ff 206.5px)"></i><i style="top:342px;background:linear-gradient(90deg,#ebebff 0.5px,#fffefe 11.5px,#ffe0e0 31.5px,#ffe6e6 47.5px,#fefeff 62.5px,#dfdfff 82.5px,#e6e6ff 98.5px,#fffdfd 113.5px,#ffdfdf 133.5px,#ffe6e6 149.5px,#fdfdff 164.5px,#dfdfff 184.5px,#e6e6ff 200.5px,#efefff 206.5px)"></i><i style="top:343px;background:linear-gradient(90deg,#e9e9ff 0.5px,#fffdfd 13.5px,#ffe0e0 33.5px,#ffe7e7 49.5px,#fdfdff 64.5px,#e0e0ff 84.5px,#e7e7ff 100.5px,#fffcfc 115.5px,#ffe0e0 135.5px,#ffe7e7 151.5px,#fefeff 165.5px,#e0e0ff 185.5px,#e6e6ff 201.5px,#ededff 206.5px)"></i><i style="top:344px;background:linear-gradient(90deg,#e8e8ff 0.5px,#fffefe 14.5px,#ffe1e1 34.5px,#ffe6e6 50.5px,#fefeff 65.5px,#e1e1ff 85.5px,#e6e6ff 101.5px,#fffefe 116.5px,#ffe0e0 136.5px,#ffe7e7 152.5px,#fdfdff 167.5px,#e0e0ff 187.5px,#e7e7ff 203.5px,#ebebff 206.5px)"></i><i style="top:345px;background:linear-gradient(90deg,#e6e6ff 0.5px,#fffdfd 16.5px,#ffe1e1 36.5px,#ffe7e7 52.5px,#fdfdff 67.5px,#e1e1ff 87.5px,#e7e7ff 103.5px,#fffdfd 118.5px,#ffe1e1 138.5px,#ffe8e8 154.5px,#fefeff 168.5px,#e1e1ff 188.5px,#e6e6ff 204.5px,#e9e9ff 206.5px)"></i><i style="top:346px;background:linear-gradient(90deg,#e5e5ff 0.5px,#fffefe 17.5px,#ffe1e1 38.5px,#ffeaea 55.5px,#fefeff 68.5px,#e2e2ff 88.5px,#e7e7ff 104.5px,#fffefe 119.5px,#ffe2e2 139.5px,#ffe7e7 155.5px,#fdfdff 170.5px,#e1e1ff 190.5px,#e7e7ff 206.5px)"></i><i style="top:347px;background:linear-gradient(90deg,#e4e4ff 0.5px,#fffdfd 19.5px,#ffe2e2 39.5px,#ffe9e9 56.5px,#fdfdff 70.5px,#e2e2ff 90.5px,#eaeaff 107.5px,#fffdfd 121.5px,#ffe2e2 141.5px,#ffeaea 158.5px,#fdfdff 172.5px,#e2e2ff 192.5px,#e6e6ff 206.5px)"></i><i style="top:348px;background:linear-gradient(90deg,#e3e3ff 0.5px,#fffefe 20.5px,#ffe2e2 41.5px,#ffeaea 58.5px,#fefeff 71.5px,#e2e2ff 92.5px,#ebebff 109.5px,#fffefe 122.5px,#ffe2e2 143.5px,#ffebeb 160.5px,#fefeff 173.5px,#e2e2ff 194.5px,#e5e5ff 206.5px)"></i><i style="top:349px;background:linear-gradient(90deg,#e3e3ff 0.5px,#fffdfd 22.5px,#ffe2e2 43.5px,#ffebeb 60.5px,#fdfdff 73.5px,#e2e2ff 94.5px,#ececff 111.5px,#fffdfd 124.5px,#ffe2e2 145.5px,#ffecec 162.5px,#fdfdff 175.5px,#e2e2ff 196.5px,#e4e4ff 206.5px)"></i><i style="top:350px;background:linear-gradient(90deg,#e3e3ff 0.5px,#fcfcff 21.5px,#fff4f4 29.5px,#ffe2e2 47.5px,#fff1f1 65.5px,#fefeff 74.5px,#e3e3ff 95.5px,#ebebff 112.5px,#fffefe 125.5px,#ffe3e3 146.5px,#ffebeb 163.5px,#fefeff 176.5px,#e3e3ff 197.5px,#e4e4ff 206.5px)"></i><i style="top:351px;background:linear-gradient(90deg,#e3e3ff 0.5px,#f8f8ff 20.5px,#fffdfd 25.5px,#ffe4e4 46.5px,#ffeded 64.5px,#fdfdff 76.5px,#e4e4ff 97.5px,#eef 115.5px,#fffdfd 127.5px,#ffe3e3 148.5px,#fee 166.5px,#fdfdff 178.5px,#e3e3ff 199.5px,#e4e4ff 206.5px)"></i><i style="top:352px;background:linear-gradient(90deg,#e3e3ff 0.5px,#f4f4ff 19.5px,#fffdfd 27.5px,#ffe4e4 48.5px,#fee 66.5px,#fefeff 77.5px,#e4e4ff 98.5px,#ededff 116.5px,#fffefe 128.5px,#ffe4e4 149.5px,#ffeded 167.5px,#fefeff 179.5px,#e4e4ff 200.5px,#e4e4ff 206.5px)"></i><i style="top:353px;background:linear-gradient(90deg,#e4e4ff 0.5px,#f1f1ff 18.5px,#fffdfd 28.5px,#ffe5e5 49.5px,#fee 67.5px,#fdfdff 79.5px,#e5e5ff 100.5px,#eef 118.5px,#fffdfd 130.5px,#ffe5e5 151.5px,#fee 169.5px,#fdfdff 181.5px,#e5e5ff 202.5px,#e4e4ff 206.5px)"></i><i style="top:354px;background:linear-gradient(90deg,#e5e5ff 0.5px,#efefff 18.5px,#fffdfd 30.5px,#ffe5e5 51.5px,#ffefef 69.5px,#fdfdff 81.5px,#e5e5ff 102.5px,#efefff 120.5px,#fffefe 131.5px,#ffe5e5 153.5px,#ffefef 171.5px,#fefeff 182.5px,#e5e5ff 204.5px,#e5e5ff 206.5px)"></i><i style="top:355px;background:linear-gradient(90deg,#e6e6ff 0.5px,#ededff 18.5px,#fffefe 31.5px,#ffe5e5 53.5px,#fff1f1 72.5px,#fdfdff 82.5px,#e5e5ff 104.5px,#f1f1ff 123.5px,#fffdfd 133.5px,#ffe5e5 155.5px,#fff2f2 174.5px,#fdfdff 184.5px,#e5e5ff 206.5px)"></i><i style="top:356px;background:linear-gradient(90deg,#e7e7ff 0.5px,#ececff 18.5px,#fffdfd 33.5px,#ffe6e6 55.5px,#fff2f2 74.5px,#fdfdff 84.5px,#e6e6ff 106.5px,#f2f2ff 125.5px,#fffdfd 135.5px,#ffe6e6 157.5px,#fff2f2 176.5px,#fefeff 185.5px,#e6e6ff 206.5px)"></i><i style="top:357px;background:linear-gradient(90deg,#e9e9ff 0.5px,#ebebff 18.5px,#fffefe 34.5px,#ffe6e6 56.5px,#fff2f2 75.5px,#fefeff 85.5px,#e6e6ff 107.5px,#f2f2ff 126.5px,#fffdfd 136.5px,#ffe6e6 158.5px,#fff2f2 177.5px,#fdfdff 187.5px,#e7e7ff 206.5px)"></i><i style="top:358px;background:linear-gradient(90deg,#eaeaff 0.5px,#eaeaff 18.5px,#fffdfd 36.5px,#ffe7e7 58.5px,#fff4f4 78.5px,#fdfdff 87.5px,#e7e7ff 109.5px,#f4f4ff 129.5px,#fffdfd 138.5px,#ffe7e7 160.5px,#fff4f4 180.5px,#fdfdff 189.5px,#e9e9ff 206.5px)"></i><i style="top:359px;background:linear-gradient(90deg,#ececff 0.5px,#eaeaff 19.5px,#fffefe 37.5px,#ffe8e8 59.5px,#fff4f4 79.5px,#fefeff 88.5px,#e7e7ff 110.5px,#f4f4ff 130.5px,#fffefe 139.5px,#ffe7e7 161.5px,#fff4f4 181.5px,#fdfdff 190.5px,#eaeaff 206.5px)"></i><i style="top:360px;background:linear-gradient(90deg,#eef 0.5px,#eaeaff 19.5px,#fffdfd 39.5px,#ffe8e8 61.5px,#fff4f4 81.5px,#fdfdff 90.5px,#e8e8ff 112.5px,#f5f5ff 132.5px,#fffdfd 141.5px,#ffe8e8 163.5px,#fff5f5 183.5px,#fdfdff 192.5px,#ececff 206.5px)"></i><i style="top:361px;background:linear-gradient(90deg,#f0f0ff 0.5px,#eaeaff 19.5px,#fffefe 40.5px,#ffe8e8 63.5px,#fff7f7 84.5px,#fcfcff 92.5px,#e9e9ff 114.5px,#f7f7ff 135.5px,#fffefe 142.5px,#ffe8e8 165.5px,#fff7f7 186.5px,#fefeff 193.5px,#eef 206.5px)"></i><i style="top:362px;background:linear-gradient(90deg,#f2f2ff 0.5px,#eaeaff 20.5px,#fffdfd 42.5px,#ffe9e9 65.5px,#fff7f7 86.5px,#fcfcff 94.5px,#e9e9ff 116.5px,#f8f8ff 137.5px,#fffdfd 144.5px,#ffe9e9 167.5px,#fff9f9 189.5px,#fcfcff 196.5px,#f0f0ff 206.5px)"></i><i style="top:363px;background:linear-gradient(90deg,#f5f5ff 0.5px,#ebebff 21.5px,#fffefe 43.5px,#ffe9e9 67.5px,#fff9f9 89.5px,#fcfcff 96.5px,#eaeaff 119.5px,#fdfdff 142.5px,#ffe9e9 169.5px,#fff9f9 191.5px,#fdfdff 197.5px,#f2f2ff 206.5px)"></i><i style="top:364px;background:linear-gradient(90deg,#f7f7ff 0.5px,#ebebff 21.5px,#fffdfd 45.5px,#ffeaea 69.5px,#fffbfb 92.5px,#fbfbff 98.5px,#ebebff 121.5px,#fffdfd 147.5px,#ffeaea 171.5px,#fffbfb 194.5px,#fbfbff 200.5px,#f4f4ff 206.5px)"></i><i style="top:365px;background:linear-gradient(90deg,#f9f9ff 0.5px,#ececff 22.5px,#fffcfc 47.5px,#ffeaea 71.5px,#fffdfd 95.5px,#ececff 122.5px,#fffdfd 148.5px,#ffeaea 172.5px,#fffcfc 196.5px,#f9f9ff 204.5px,#f6f6ff 206.5px)"></i><i style="top:366px;background:linear-gradient(90deg,#fbfbff 0.5px,#ededff 23.5px,#fffdfd 48.5px,#ffebeb 72.5px,#fffdfd 97.5px,#ededff 124.5px,#fffcfc 150.5px,#ffebeb 174.5px,#fffdfd 199.5px,#f9f9ff 206.5px)"></i><i style="top:367px;background:linear-gradient(90deg,#fdfdff 0.5px,#eef 24.5px,#fffdfd 49.5px,#ffecec 74.5px,#fdfdff 102.5px,#eef 126.5px,#fffdfd 151.5px,#ffecec 176.5px,#fdfdff 204.5px,#fbfbff 206.5px)"></i><i style="top:368px;background:linear-gradient(90deg,#fff 0.5px,#efefff 25.5px,#fffcfc 51.5px,#ffecec 76.5px,#fdfdff 104.5px,#efefff 128.5px,#fffcfc 153.5px,#ffecec 178.5px,#fdfdff 206.5px)"></i><i style="top:369px;background:linear-gradient(90deg,#fffdfd 0.5px,#f0f0ff 28.5px,#fffdfd 52.5px,#ffeded 78.5px,#fdfdff 106.5px,#f0f0ff 130.5px,#fffdfd 154.5px,#ffeded 180.5px,#fefeff 206.5px)"></i><i style="top:370px;background:linear-gradient(90deg,#fffbfb 0.5px,#fafaff 9.5px,#f1f1ff 33.5px,#fffdfd 53.5px,#ffeded 80.5px,#fdfdff 108.5px,#f1f1ff 133.5px,#fffdfd 155.5px,#ffeded 181.5px,#fffefe 206.5px)"></i><i style="top:371px;background:linear-gradient(90deg,#fffafa 0.5px,#fcfcff 9.5px,#f2f2ff 34.5px,#fffdfd 55.5px,#fee 82.5px,#fcfcff 110.5px,#f2f2ff 135.5px,#fffcfc 157.5px,#fee 184.5px,#fffcfc 206.5px)"></i><i style="top:372px;background:linear-gradient(90deg,#fff9f9 0.5px,#fdfdff 10.5px,#f3f3ff 35.5px,#fffcfc 57.5px,#ffefef 84.5px,#fdfdff 111.5px,#f3f3ff 137.5px,#fffdfd 158.5px,#fee 185.5px,#fffbfb 206.5px)"></i><i style="top:373px;background:linear-gradient(90deg,#fff7f7 0.5px,#fdfdff 12.5px,#f4f4ff 38.5px,#fffcfc 58.5px,#ffefef 86.5px,#fcfcff 114.5px,#f4f4ff 140.5px,#fffcfc 160.5px,#ffefef 188.5px,#fff9f9 206.5px)"></i><i style="top:374px;background:linear-gradient(90deg,#fff6f6 0.5px,#fdfdff 14.5px,#f5f5ff 40.5px,#fffdfd 59.5px,#fff0f0 88.5px,#fcfcff 116.5px,#f5f5ff 142.5px,#fffcfc 161.5px,#fff0f0 190.5px,#fff8f8 206.5px)"></i><i style="top:375px;background:linear-gradient(90deg,#fff6f6 0.5px,#fdfdff 16.5px,#f7f7ff 43.5px,#fffdfd 60.5px,#fff0f0 90.5px,#fdfdff 118.5px,#f7f7ff 145.5px,#fffdfd 162.5px,#fff0f0 192.5px,#fff7f7 206.5px)"></i><i style="top:376px;background:linear-gradient(90deg,#fff5f5 0.5px,#fdfdff 18.5px,#f8f8ff 46.5px,#fffcfc 62.5px,#fff1f1 92.5px,#fdfdff 120.5px,#f8f8ff 148.5px,#fffcfc 164.5px,#fff1f1 194.5px,#fff6f6 206.5px)"></i><i style="top:377px;background:linear-gradient(90deg,#fff4f4 0.5px,#fdfdff 20.5px,#f9f9ff 48.5px,#fffcfc 64.5px,#fff2f2 95.5px,#fdfdff 122.5px,#f9f9ff 150.5px,#fffcfc 165.5px,#fff2f2 196.5px,#fff6f6 206.5px)"></i><i style="top:378px;background:linear-gradient(90deg,#fff4f4 0.5px,#fdfdff 23.5px,#fbfbff 52.5px,#fffbfb 66.5px,#fff2f2 97.5px,#fdfdff 125.5px,#fbfbff 154.5px,#fffbfb 168.5px,#fff3f3 199.5px,#fff5f5 206.5px)"></i><i style="top:379px;background:linear-gradient(90deg,#fff4f4 0.5px,#fdfdff 25.5px,#fcfcff 55.5px,#fffafa 70.5px,#fff4f4 101.5px,#fdfdff 127.5px,#fcfcff 157.5px,#fffafa 172.5px,#fff4f4 203.5px,#fff5f5 206.5px)"></i><i style="top:380px;background:linear-gradient(90deg,#fff4f4 0.5px,#fdfdff 27.5px,#fdfdff 58.5px,#fff4f4 101.5px,#fdfdff 129.5px,#fdfdff 160.5px,#fff3f3 202.5px,#fff5f5 206.5px)"></i><i style="top:381px;background:linear-gradient(90deg,#fff4f4 0.5px,#fdfdff 29.5px,#fefeff 61.5px,#fff4f4 102.5px,#fdfdff 131.5px,#fefeff 163.5px,#fff4f4 204.5px,#fff4f4 206.5px)"></i><i style="top:382px;background:linear-gradient(90deg,#fff4f4 0.5px,#fcfcff 32.5px,#fffbfb 73.5px,#fff5f5 107.5px,#fdfdff 133.5px,#fff 166.5px,#fff4f4 205.5px,#fff4f4 206.5px)"></i><i style="top:383px;background:linear-gradient(90deg,#fff4f4 0.5px,#fdfdff 34.5px,#fffbfb 75.5px,#fff6f6 110.5px,#fdfdff 136.5px,#fffbfb 177.5px,#fff5f5 206.5px)"></i><i style="top:384px;background:linear-gradient(90deg,#fff5f5 0.5px,#fcfcff 37.5px,#fffbfb 77.5px,#fff7f7 113.5px,#fdfdff 138.5px,#fffbfb 179.5px,#fff5f5 206.5px)"></i><i style="top:385px;background:linear-gradient(90deg,#fff5f5 0.5px,#fdfdff 39.5px,#fffbfb 79.5px,#fff8f8 116.5px,#fdfdff 141.5px,#fffafa 181.5px,#fff5f5 206.5px)"></i><i style="top:386px;background:linear-gradient(90deg,#fff5f5 0.5px,#fcfcff 43.5px,#fffafa 81.5px,#fff8f8 119.5px,#fcfcff 145.5px,#fffafa 183.5px,#fff5f5 206.5px)"></i><i style="top:387px;background:linear-gradient(90deg,#fff6f6 0.5px,#fcfcff 47.5px,#fffafa 83.5px,#fff9f9 122.5px,#fcfcff 150.5px,#fffafa 185.5px,#fff6f6 206.5px)"></i><i style="top:388px;background:linear-gradient(90deg,#fff7f7 0.5px,#fdfdff 53.5px,#fffafa 87.5px,#fffbfb 128.5px,#fffcfc 183.5px,#fff6f6 206.5px)"></i><i style="top:389px;background:linear-gradient(90deg,#fff7f7 0.5px,#fffefe 74.5px,#fff9f9 121.5px,#fdfdff 161.5px,#fff7f7 206.5px)"></i><i style="top:390px;background:linear-gradient(90deg,#fff8f8 0.5px,#fffefe 77.5px,#fff9f9 125.5px,#fffefe 179.5px,#fff7f7 206.5px)"></i><i style="top:391px;background:linear-gradient(90deg,#fff8f8 0.5px,#fffdfd 80.5px,#fffbfb 130.5px,#fffcfc 186.5px,#fff8f8 206.5px)"></i><i style="top:392px;background:linear-gradient(90deg,#fff9f9 0.5px,#fffcfc 84.5px,#fffcfc 136.5px,#fffbfb 193.5px,#fff9f9 206.5px)"></i><i style="top:393px;background:linear-gradient(90deg,#fff9f9 0.5px,#fffcfc 87.5px,#fffdfd 142.5px,#fff9f9 203.5px,#fff9f9 206.5px)"></i><i style="top:394px;background:linear-gradient(90deg,#fffafa 0.5px,#fffcfc 90.5px,#fffefe 151.5px,#fff9f9 206.5px)"></i><i style="top:395px;background:linear-gradient(90deg,#fffafa 0.5px,#fffbfb 95.5px,#fffbfb 199.5px,#fffafa 206.5px)"></i><i style="top:396px;background:linear-gradient(90deg,#fffbfb 0.5px,#fffbfb 101.5px,#fffbfb 203.5px,#fffafa 206.5px)"></i><i style="top:397px;background:#fffcfc"></i><i style="top:398px;background:#fffcfc"></i><i style="top:399px;background:#fffcfc"></i><i style="top:400px;background:#fffcfc"></i><i style="top:401px;background:#fffcfc"></i></div>
<div id="L"><i style="left:41px;background:linear-gradient(#0f0 0.5px,#0f0 2.5px,#ff0029 3.5px,#ff0029 173.5px,#1e00ff 174.5px,#1e00ff 177.5px,#ff0029 178.5px,#ff0029 349.5px,#0ff 350.5px,#0ff 352.5px)"></i><i style="left:42px;background:linear-gradient(#0f0 0.5px,#0f0 2.5px,#ff0029 3.5px,#ff0029 162.5px,#1e00ff 163.5px,#1e00ff 177.5px,#ff0029 178.5px,#ff0029 349.5px,#0ff 350.5px,#0ff 352.5px)"></i><i style="left:43px;background:linear-gradient(#0f0 0.5px,#0f0 2.5px,#ff8f00 3.5px,#ffa500 17.5px,#ffb900 26.5px,#ffb400 32.5px,#ff9c00 38.5px,#ff6a00 44.5px,#ff1e00 52.5px,#fc1000 54.5px,#ee0500 57.5px,#f70d00 60.5px,#ff1800 62.5px,#ff3f00 66.5px,#ff9400 72.5px,#ffe300 77.5px,#faf200 78.5px,#eeff09 79.5px,#c6ff30 83.5px,#b3ff44 87.5px,#b6ff41 91.5px,#d0ff27 95.5px,#f0fd07 98.5px,#fdee00 99.5px,#ff6300 107.5px,#fc1000 112.5px,#ea0200 113.5px,#c00000 116.5px,#a80000 119.5px,#a30000 122.5px,#b30000 125.5px,#d80000 128.5px,#e80000 129.5px,#fb0f00 130.5px,#f40 133.5px,#ff8300 136.5px,#ffec00 140.5px,#e9ff0d 141.5px,#99ff5e 145.5px,#6aff8d 148.5px,#4affad 151.5px,#39ffbd 154.5px,#39ffbd 156.5px,#59ff9e 160.5px,#5cff9b 162.5px,#1e00ff 163.5px,#1e00ff 177.5px,#88ff6e 178.5px,#bbff3c 180.5px,#edff0a 183.5px,#f9f300 184.5px,#ffe700 185.5px,#ffb500 191.5px,#ff8900 199.5px,#ff7a00 205.5px,#ff7f00 211.5px,#ffab00 224.5px,#ffad00 230.5px,#ff9600 238.5px,#ff7a00 247.5px,#ff7900 253.5px,#ff9400 262.5px,#ffab00 270.5px,#fa0 276.5px,#ff8000 291.5px,#ff8000 298.5px,#ff9e00 314.5px,#ff9700 326.5px,#ff8a00 340.5px,#ff9000 349.5px,#0ff 350.5px,#0ff 352.5px)"></i><i style="left:44px;background:linear-gradient(#0f0 0.5px,#0f0 2.5px,#ff9200 3.5px,#ffb300 24.5px,#ffab00 30.5px,#ff9000 36.5px,#ff4e00 44.5px,#ff2000 50.5px,#fd1100 54.5px,#ff1500 57.5px,#ff3500 61.5px,#ff7400 66.5px,#ffec00 74.5px,#f3fa04 75.5px,#ddff1a 77.5px,#bdff3a 81.5px,#b3ff44 85.5px,#c1ff36 89.5px,#e3ff13 93.5px,#effe08 94.5px,#fcf000 95.5px,#ff7900 102.5px,#ff1500 108.5px,#f10700 109.5px,#e10000 110.5px,#bc0000 113.5px,#a90000 116.5px,#a00 119.5px,#c00000 122.5px,#e90100 125.5px,#fa0f00 126.5px,#ff2f00 128.5px,#ffba00 135.5px,#ffea00 137.5px,#ebff0c 138.5px,#9eff59 142.5px,#71ff85 145.5px,#55ffa2 148.5px,#49ffae 151.5px,#4bffab 154.5px,#57ff9f 156.5px,#6dff8a 158.5px,#72ff85 160.5px,#67ff90 162.5px,#1e00ff 163.5px,#1e00ff 177.5px,#8bff6c 178.5px,#bdff39 180.5px,#eeff09 183.5px,#f9f300 184.5px,#ffdf00 186.5px,#ffa500 195.5px,#ff8100 203.5px,#ff7800 209.5px,#ff8700 216.5px,#ffab00 227.5px,#ffac00 233.5px,#ff9100 242.5px,#ff7900 250.5px,#ff7a00 256.5px,#fa0 272.5px,#ffab00 278.5px,#ff8000 294.5px,#ff8100 301.5px,#ff9d00 316.5px,#f90 327.5px,#ff8a00 342.5px,#ff8d00 349.5px,#0ff 350.5px,#0ff 352.5px)"></i><i style="left:45px;background:linear-gradient(#0f0 0.5px,#0f0 2.5px,#ff9600 3.5px,#ffac00 22.5px,#ffa200 28.5px,#ff8000 35.5px,#ff2f00 46.5px,#ff2000 50.5px,#ff2400 54.5px,#ff3700 57.5px,#ff7200 62.5px,#ffe700 70.5px,#f8f500 71.5px,#ecff0a 72.5px,#c8ff2f 76.5px,#b6ff41 80.5px,#b8ff3f 83.5px,#d0ff27 87.5px,#eeff09 90.5px,#faf200 91.5px,#ffd300 93.5px,#ff2800 103.5px,#ff1900 104.5px,#f60c00 105.5px,#e70000 106.5px,#c20000 109.5px,#ae0000 112.5px,#ae0000 115.5px,#c20000 118.5px,#e90100 121.5px,#fa0f00 122.5px,#ff2e00 124.5px,#ffa200 130.5px,#ffde00 133.5px,#fbf100 134.5px,#ebff0c 135.5px,#95ff62 140.5px,#71ff86 143.5px,#5dff9a 146.5px,#5aff9d 149.5px,#6cff8b 153.5px,#89ff6d 156.5px,#98ff5f 157.5px,#a0ff57 158.5px,#9dff5a 159.5px,#73ff84 162.5px,#1e00ff 163.5px,#1e00ff 168.5px,#009eff 169.5px,#0079ff 170.5px,#0036ff 171.5px,#0052ff 172.5px,#00a8ff 173.5px,#1e00ff 174.5px,#1e00ff 177.5px,#8eff68 178.5px,#c1ff36 180.5px,#e3ff13 182.5px,#f0fd06 183.5px,#fbf100 184.5px,#ffd000 188.5px,#ff8500 204.5px,#f70 210.5px,#ff7e00 216.5px,#fa0 229.5px,#ffad00 235.5px,#ff9700 243.5px,#ff7b00 252.5px,#ff7900 258.5px,#ff9300 267.5px,#ffab00 275.5px,#ffab00 281.5px,#ff8200 296.5px,#ff8300 304.5px,#ff9c00 319.5px,#ff9800 330.5px,#ff8a00 345.5px,#ff8c00 349.5px,#0ff 350.5px,#0ff 352.5px)"></i><i style="left:46px;background:linear-gradient(#0f0 0.5px,#0f0 2.5px,#f90 3.5px,#ffa600 19.5px,#ff9a00 26.5px,#ff6d00 35.5px,#ff3900 43.5px,#ff2d00 47.5px,#f30 51.5px,#ff4e00 55.5px,#ff7e00 59.5px,#fcef00 67.5px,#f1fc05 68.5px,#c7ff30 73.5px,#b9ff3e 77.5px,#c2ff35 81.5px,#e2ff15 85.5px,#edff0a 86.5px,#f9f300 87.5px,#ffe400 88.5px,#ff2c00 99.5px,#fb1000 101.5px,#ec0300 102.5px,#c70000 105.5px,#b30000 108.5px,#b20000 111.5px,#c40000 114.5px,#ea0100 117.5px,#fa0f00 118.5px,#ff2d00 120.5px,#ff9e00 126.5px,#feed00 130.5px,#eeff09 131.5px,#91ff65 138.5px,#76ff80 141.5px,#6bff8c 144.5px,#70ff86 147.5px,#8dff6a 151.5px,#b9ff3d 155.5px,#d8ff1f 157.5px,#daff1d 158.5px,#ccff2a 159.5px,#7fff78 162.5px,#1e00ff 163.5px,#1e00ff 168.5px,#009eff 169.5px,#0079ff 170.5px,#0036ff 171.5px,#0052ff 172.5px,#00a8ff 173.5px,#1e00ff 174.5px,#1e00ff 177.5px,#92ff65 178.5px,#c5ff32 180.5px,#e8ff0f 182.5px,#f4f802 183.5px,#ffec00 184.5px,#ffcf00 188.5px,#ff7c00 209.5px,#f70 215.5px,#ff8d00 223.5px,#fa0 232.5px,#ffad00 238.5px,#ff9600 246.5px,#ff7a00 255.5px,#ff7900 261.5px,#ff9800 271.5px,#ffac00 279.5px,#ffa700 285.5px,#ff8200 299.5px,#ff8400 307.5px,#ff9c00 322.5px,#ff9800 333.5px,#ff8b00 348.5px,#ff8b00 349.5px,#0ff 350.5px,#0ff 352.5px)"></i><i style="left:47px;background:linear-gradient(#0f0 0.5px,#0f0 2.5px,#ff9b00 3.5px,#ffa000 16.5px,#ff9600 23.5px,#ff6500 34.5px,#ff4100 41.5px,#ff3b00 45.5px,#ff4700 49.5px,#ff6700 53.5px,#ffb400 59.5px,#ffea00 63.5px,#f6f600 64.5px,#ecff0b 65.5px,#ccff2b 69.5px,#beff39 73.5px,#c5ff32 77.5px,#e2ff15 81.5px,#ecff0b 82.5px,#f8f400 83.5px,#ffe600 84.5px,#ff2100 96.5px,#ff1300 97.5px,#e20000 99.5px,#c30000 102.5px,#b50000 105.5px,#b90000 108.5px,#d10000 111.5px,#ea0200 113.5px,#fa0f00 114.5px,#ff2c00 116.5px,#ff9a00 122.5px,#ffe800 126.5px,#f2fb04 127.5px,#c7ff30 130.5px,#a0ff57 134.5px,#82ff75 139.5px,#80ff77 142.5px,#8dff6a 145.5px,#b2ff45 149.5px,#f0fd07 154.5px,#fdef00 155.5px,#ffcd00 157.5px,#ffd300 158.5px,#faf200 159.5px,#d3ff24 160.5px,#abff4c 161.5px,#89ff6d 162.5px,#deff19 163.5px,#deff19 165.5px,#1e00ff 166.5px,#1e00ff 168.5px,#009eff 169.5px,#0079ff 170.5px,#0036ff 171.5px,#0052ff 172.5px,#00a8ff 173.5px,#1e00ff 174.5px,#1e00ff 177.5px,#95ff62 178.5px,#c9ff2e 180.5px,#ecff0b 182.5px,#f9f300 183.5px,#fd0 185.5px,#ffc700 189.5px,#ffa000 202.5px,#ff7b00 212.5px,#ff7800 218.5px,#ff8e00 226.5px,#ffab00 235.5px,#ffac00 241.5px,#ff9100 250.5px,#ff7900 258.5px,#ff7a00 264.5px,#fa0 280.5px,#ffa900 286.5px,#ff8300 302.5px,#ff8600 310.5px,#ff9c00 325.5px,#ff9600 337.5px,#ff8b00 349.5px,#0ff 350.5px,#0ff 352.5px)"></i><i style="left:48px;background:linear-gradient(#0f0 0.5px,#0f0 2.5px,#ff9c00 3.5px,#ff9d00 14.5px,#ff8d00 22.5px,#ff4a00 39.5px,#ff4a00 43.5px,#ff5b00 47.5px,#ff7e00 51.5px,#ffe400 59.5px,#fbf100 60.5px,#f1fc06 61.5px,#ccff2b 66.5px,#c2ff35 70.5px,#cdff2a 74.5px,#edff0a 78.5px,#f7f500 79.5px,#ffe700 80.5px,#ff2500 92.5px,#ff1700 93.5px,#e70000 95.5px,#c60000 98.5px,#b80000 101.5px,#bc0000 104.5px,#d30000 107.5px,#eb0300 109.5px,#fa0f00 110.5px,#ff2b00 112.5px,#ff9700 118.5px,#ffe300 122.5px,#f7f600 123.5px,#e8ff0f 124.5px,#b4ff42 128.5px,#9cff5b 131.5px,#93ff64 134.5px,#96ff61 139.5px,#aeff49 143.5px,#e6ff10 148.5px,#f3f903 149.5px,#ffea00 150.5px,#f80 157.5px,#ff9a00 158.5px,#ffc700 159.5px,#ecff0b 160.5px,#b9ff3e 161.5px,#91ff66 162.5px,#deff19 163.5px,#deff19 165.5px,#1e00ff 166.5px,#1e00ff 168.5px,#009eff 169.5px,#0079ff 170.5px,#0036ff 171.5px,#0052ff 172.5px,#00a8ff 173.5px,#1e00ff 174.5px,#1e00ff 177.5px,#98ff5f 178.5px,#cdff2a 180.5px,#f1fc06 182.5px,#feed00 183.5px,#ffcf00 186.5px,#ffbf00 190.5px,#ffa800 202.5px,#ff7a00 215.5px,#ff7800 221.5px,#ff8f00 229.5px,#ffac00 238.5px,#ffab00 244.5px,#ff8c00 254.5px,#ff7800 262.5px,#ff7f00 269.5px,#ffa800 282.5px,#ffa800 289.5px,#ff8400 304.5px,#ff8600 312.5px,#ff9c00 329.5px,#ff9000 344.5px,#ff8c00 349.5px,#0ff 350.5px,#0ff 352.5px)"></i><i style="left:49px;background:linear-gradient(#0f0 0.5px,#0f0 2.5px,#ff9c00 3.5px,#ff9700 14.5px,#ff8200 22.5px,#ff5d00 33.5px,#ff5600 39.5px,#ff6200 43.5px,#ff7f00 47.5px,#ffc300 53.5px,#ffea00 56.5px,#f6f601 57.5px,#edff0a 58.5px,#cdff2a 63.5px,#c7ff30 67.5px,#d6ff21 71.5px,#eeff09 74.5px,#f8f400 75.5px,#ffe700 76.5px,#ff8900 82.5px,#ff2900 88.5px,#f90e00 90.5px,#eb0300 91.5px,#ca0000 94.5px,#b00 97.5px,#be0000 100.5px,#d30000 103.5px,#ec0300 105.5px,#fa0f00 106.5px,#ff2b00 108.5px,#ff8000 113.5px,#ffdf00 118.5px,#fbf100 119.5px,#ecff0b 120.5px,#b9ff3e 124.5px,#9aff5c 128.5px,#94ff62 131.5px,#9fff57 134.5px,#c0ff37 139.5px,#eaff0c 143.5px,#f7f600 144.5px,#ffe700 145.5px,#ff8f00 151.5px,#ff5b00 156.5px,#f50 157.5px,#ff7100 158.5px,#ffab00 159.5px,#faf100 160.5px,#c1ff36 161.5px,#94ff63 162.5px,#deff19 163.5px,#deff19 165.5px,#1e00ff 166.5px,#1e00ff 168.5px,#009eff 169.5px,#0079ff 170.5px,#0036ff 171.5px,#0052ff 172.5px,#00a8ff 173.5px,#1e00ff 174.5px,#1e00ff 177.5px,#99ff5e 178.5px,#cfff27 180.5px,#e4ff13 181.5px,#f5f802 182.5px,#ffe800 183.5px,#ffc800 186.5px,#ffb800 190.5px,#ffae00 202.5px,#ff7900 218.5px,#ff7900 224.5px,#ff9500 233.5px,#ffac00 241.5px,#ffab00 247.5px,#ff7a00 263.5px,#ff7a00 269.5px,#ff9800 279.5px,#ffa900 286.5px,#ffa400 293.5px,#ff8500 307.5px,#f80 316.5px,#ff9c00 332.5px,#ff8e00 349.5px,#0ff 350.5px,#0ff 352.5px)"></i><i style="left:50px;background:linear-gradient(#0f0 0.5px,#0f0 2.5px,#ff9a00 3.5px,#ff9000 14.5px,#ff6300 30.5px,#ff6300 37.5px,#ff7900 42.5px,#ffa500 47.5px,#ffeb00 53.5px,#f6f601 54.5px,#edff0a 55.5px,#d7ff20 58.5px,#cbff2b 62.5px,#d4ff23 66.5px,#effe08 70.5px,#f9f300 71.5px,#ffe700 72.5px,#ff8c00 78.5px,#ff2c00 84.5px,#fe1200 86.5px,#e30000 88.5px,#c70000 91.5px,#bc0000 94.5px,#c40000 97.5px,#df0000 100.5px,#eb0300 101.5px,#fa0e00 102.5px,#ff2a00 104.5px,#ff9000 110.5px,#ffec00 115.5px,#f0fd06 116.5px,#beff39 120.5px,#9eff58 124.5px,#97ff5f 127.5px,#a0ff57 130.5px,#b8ff3f 133.5px,#f0fe07 138.5px,#fbf000 139.5px,#ff9700 145.5px,#ff6300 149.5px,#ff4800 152.5px,#ff3800 156.5px,#ff3a00 157.5px,#ff5f00 158.5px,#ffa100 159.5px,#fdee00 160.5px,#c0ff37 161.5px,#92ff65 162.5px,#1e00ff 163.5px,#1e00ff 168.5px,#009eff 169.5px,#0079ff 170.5px,#0036ff 171.5px,#0052ff 172.5px,#00a8ff 173.5px,#1e00ff 174.5px,#1e00ff 177.5px,#99ff5d 178.5px,#d1ff26 180.5px,#e6ff11 181.5px,#f8f400 182.5px,#ffe300 183.5px,#ffc100 186.5px,#ffb200 189.5px,#ffaf00 195.5px,#ffae00 204.5px,#ff9500 212.5px,#ff7a00 220.5px,#ff7800 226.5px,#ff8e00 234.5px,#ffab00 243.5px,#ffac00 249.5px,#ff9100 258.5px,#ff7a00 266.5px,#ff7a00 272.5px,#ffa600 287.5px,#ffa600 294.5px,#ff8500 310.5px,#ff8b00 320.5px,#ff9c00 335.5px,#ff9100 349.5px,#0ff 350.5px,#0ff 352.5px)"></i><i style="left:51px;background:linear-gradient(#0f0 0.5px,#0f0 2.5px,#ff9800 3.5px,#ff8600 16.5px,#ff6900 27.5px,#ff6c00 33.5px,#ff7c00 38.5px,#ffa100 43.5px,#ffe900 50.5px,#f9f300 51.5px,#f0fd07 52.5px,#d5ff22 56.5px,#d1ff26 60.5px,#e2ff15 64.5px,#f1fc06 66.5px,#ffe600 68.5px,#ff8f00 74.5px,#f20 81.5px,#ff1500 82.5px,#e70000 84.5px,#ca0000 87.5px,#bf0000 90.5px,#c60000 93.5px,#df0000 96.5px,#eb0300 97.5px,#f90e00 98.5px,#ff1a00 99.5px,#ff6900 104.5px,#ffe700 111.5px,#f5f802 112.5px,#e7ff10 113.5px,#b8ff3f 117.5px,#9eff59 121.5px,#9bff5b 124.5px,#a8ff4f 127.5px,#c2ff35 130.5px,#eaff0d 133.5px,#faf200 134.5px,#ffcf00 136.5px,#ff5a00 144.5px,#ff3a00 147.5px,#ff2700 150.5px,#ff2500 153.5px,#ff3100 156.5px,#ff3a00 157.5px,#f60 158.5px,#ffac00 159.5px,#f3fa04 160.5px,#b8ff3f 161.5px,#8cff6a 162.5px,#1e00ff 163.5px,#1e00ff 168.5px,#009eff 169.5px,#0079ff 170.5px,#0036ff 171.5px,#0052ff 172.5px,#00a8ff 173.5px,#1e00ff 174.5px,#1e00ff 177.5px,#98ff5e 178.5px,#d1ff26 180.5px,#e7ff10 181.5px,#f9f300 182.5px,#ffd200 184.5px,#ffb400 187.5px,#ffa500 191.5px,#ffaf00 205.5px,#ff9f00 212.5px,#ff7a00 223.5px,#ff7800 229.5px,#ff9300 238.5px,#ffab00 246.5px,#ffab00 252.5px,#f80 263.5px,#ff7800 270.5px,#ff7f00 277.5px,#ffa400 289.5px,#ffa600 296.5px,#ff8700 312.5px,#ff8a00 322.5px,#ff9b00 338.5px,#ff9400 349.5px,#0ff 350.5px,#0ff 352.5px)"></i><i style="left:52px;background:linear-gradient(#0f0 0.5px,#0f0 2.5px,#ff9400 3.5px,#ff7c00 18.5px,#ff6f00 26.5px,#ff7800 32.5px,#ff9600 38.5px,#fdef00 48.5px,#eeff09 50.5px,#d8ff1f 55.5px,#daff1c 58.5px,#ebff0c 61.5px,#fbf100 63.5px,#ffbf00 67.5px,#ff1b00 78.5px,#f90e00 79.5px,#ec0300 80.5px,#ce0000 83.5px,#c10000 86.5px,#c70000 89.5px,#df0000 92.5px,#eb0200 93.5px,#f80d00 94.5px,#ff1900 95.5px,#f60 100.5px,#ffe200 107.5px,#f9f300 108.5px,#ebff0c 109.5px,#bdff3a 113.5px,#a2ff55 117.5px,#9eff58 120.5px,#a9ff4d 123.5px,#ceff29 127.5px,#e9ff0e 129.5px,#f8f500 130.5px,#ffe200 131.5px,#ff8000 136.5px,#ff3b00 141.5px,#ff1500 145.5px,#f60c00 148.5px,#ff1400 151.5px,#ff2e00 154.5px,#ff5600 157.5px,#ff8400 158.5px,#ffc900 159.5px,#deff18 160.5px,#a9ff4e 161.5px,#83ff74 162.5px,#1e00ff 163.5px,#1e00ff 168.5px,#009eff 169.5px,#0078ff 170.5px,#0035ff 171.5px,#0051ff 172.5px,#00a8ff 173.5px,#1e00ff 174.5px,#1e00ff 177.5px,#96ff61 178.5px,#cfff28 180.5px,#e6ff11 181.5px,#f9f300 182.5px,#ffe100 183.5px,#ffb900 186.5px,#ffa300 189.5px,#ff9b00 193.5px,#ffaf00 207.5px,#ffa500 213.5px,#ff7b00 225.5px,#ff7800 231.5px,#ff8d00 239.5px,#fa0 248.5px,#ffac00 254.5px,#ff9200 263.5px,#ff7a00 271.5px,#ff7a00 277.5px,#ffa400 292.5px,#ffa500 299.5px,#ff8700 315.5px,#ff8e00 327.5px,#ff9b00 341.5px,#ff9600 349.5px,#0ff 350.5px,#0ff 352.5px)"></i><i style="left:53px;background:linear-gradient(#0f0 0.5px,#0f0 2.5px,#ff9100 3.5px,#ff7500 23.5px,#ff7e00 29.5px,#ffa000 36.5px,#ffe900 45.5px,#f5f701 47.5px,#ebff0b 49.5px,#e2ff14 53.5px,#edff0a 57.5px,#fcef00 59.5px,#ffb200 64.5px,#ff2000 74.5px,#ff1400 75.5px,#e70000 77.5px,#c00 80.5px,#c40000 83.5px,#ce0000 86.5px,#eb0200 89.5px,#ff1900 91.5px,#ff6400 96.5px,#fdef00 104.5px,#efff08 105.5px,#c1ff36 109.5px,#a6ff51 113.5px,#a1ff55 116.5px,#abff4b 119.5px,#ceff28 123.5px,#e8ff0f 125.5px,#f6f600 126.5px,#ffe400 127.5px,#ff4500 135.5px,#ff1d00 138.5px,#fe1200 139.5px,#ea0200 141.5px,#db0000 144.5px,#e20000 147.5px,#ea0200 148.5px,#ff1500 150.5px,#ff3f00 153.5px,#ff8900 157.5px,#ffb700 158.5px,#f7f500 159.5px,#c1ff35 160.5px,#95ff61 161.5px,#77ff7f 162.5px,#1e00ff 163.5px,#1e00ff 165.5px,#00a5ff 166.5px,#00a3ff 167.5px,#0047ff 168.5px,#0029ff 169.5px,#002aff 171.5px,#004fff 172.5px,#00a7ff 173.5px,#1e00ff 174.5px,#1e00ff 177.5px,#93ff63 178.5px,#ccff2a 180.5px,#e3ff14 181.5px,#f7f600 182.5px,#ffe200 183.5px,#ffb800 186.5px,#ff9e00 189.5px,#ff9200 193.5px,#f90 199.5px,#ffad00 208.5px,#ffa900 214.5px,#ff7a00 228.5px,#ff7800 234.5px,#ff8f00 242.5px,#ffab00 251.5px,#ffac00 257.5px,#ff9100 266.5px,#ff7a00 274.5px,#ff7b00 280.5px,#ffa400 295.5px,#ffa200 303.5px,#f80 318.5px,#ff8e00 330.5px,#ff9b00 344.5px,#f90 349.5px,#0ff 350.5px,#0ff 352.5px)"></i><i style="left:54px;background:linear-gradient(#0f0 0.5px,#0f0 2.5px,#ff8d00 3.5px,#ff7c00 21.5px,#ff8b00 28.5px,#ffb500 36.5px,#fdee00 44.5px,#f0fd07 48.5px,#f2fb05 52.5px,#ffeb00 55.5px,#ffc000 59.5px,#ff2600 70.5px,#fb0f00 72.5px,#e40000 74.5px,#cd0000 77.5px,#c80000 80.5px,#d70000 83.5px,#ea0200 85.5px,#ff1800 87.5px,#ff6100 92.5px,#ffeb00 100.5px,#f2fb04 101.5px,#cfff28 104.5px,#afff48 108.5px,#a5ff52 111.5px,#a9ff4e 114.5px,#bbff3c 117.5px,#e7ff0f 121.5px,#f5f701 122.5px,#ffe600 123.5px,#ff2300 133.5px,#fe1200 134.5px,#ea0200 135.5px,#d20000 137.5px,#c20000 140.5px,#c60000 143.5px,#e10000 146.5px,#f00700 147.5px,#ff1500 148.5px,#ff4900 151.5px,#ffce00 157.5px,#f6f701 158.5px,#c9ff2d 159.5px,#a0ff57 160.5px,#80ff77 161.5px,#6bff8c 162.5px,#1e00ff 163.5px,#1e00ff 165.5px,#0075ff 166.5px,#006cff 167.5px,#0025ff 168.5px,#0009ff 169.5px,#0008ff 170.5px,#0013ff 171.5px,#0043ff 172.5px,#00a3ff 173.5px,#1e00ff 174.5px,#1e00ff 177.5px,#90ff67 178.5px,#c9ff2e 180.5px,#e0ff17 181.5px,#f4f903 182.5px,#ffe500 183.5px,#ffb800 186.5px,#ff9400 190.5px,#ff8700 194.5px,#ff8d00 200.5px,#ffab00 210.5px,#ffa900 216.5px,#ff7a00 231.5px,#ff7900 237.5px,#ff9400 246.5px,#ffab00 254.5px,#ffab00 260.5px,#ff7b00 276.5px,#ff7a00 282.5px,#ffa300 298.5px,#ffa100 306.5px,#ff8900 320.5px,#ff8c00 331.5px,#ff9a00 346.5px,#ff9a00 349.5px,#0ff 350.5px,#0ff 352.5px)"></i><i style="left:55px;background:linear-gradient(#0f0 0.5px,#0f0 2.5px,#ff8b00 3.5px,#ff8200 18.5px,#ff8f00 25.5px,#ffbf00 35.5px,#ffe800 42.5px,#fbf100 46.5px,#ffe800 50.5px,#ffca00 54.5px,#ff8c00 59.5px,#ff2000 67.5px,#ff1500 68.5px,#eb0300 70.5px,#d50000 73.5px,#ce0000 76.5px,#d90000 79.5px,#eb0200 81.5px,#ff1700 83.5px,#ff5f00 88.5px,#ffe700 96.5px,#f6f701 97.5px,#e9ff0e 98.5px,#bfff37 102.5px,#aaff4d 106.5px,#a9ff4e 109.5px,#b5ff41 112.5px,#daff1c 116.5px,#e7ff10 117.5px,#f5f802 118.5px,#ffe700 119.5px,#ff1600 130.5px,#ef0600 131.5px,#c00 133.5px,#b00000 135.5px,#a80000 137.5px,#b20000 140.5px,#d30000 143.5px,#e30000 144.5px,#f50a00 145.5px,#ff1b00 146.5px,#ff6f00 150.5px,#ffec00 155.5px,#ebff0c 156.5px,#d7ff20 157.5px,#7fff78 160.5px,#6bff8c 161.5px,#5fff97 162.5px,#1e00ff 163.5px,#1e00ff 165.5px,#0031ff 166.5px,#0016ff 167.5px,#0000ea 168.5px,#0000c1 169.5px,#0000c0 170.5px,#0000e6 171.5px,#0025ff 172.5px,#0097ff 173.5px,#1e00ff 174.5px,#1e00ff 177.5px,#8dff6a 178.5px,#c6ff31 180.5px,#f0fd06 182.5px,#ffe900 183.5px,#ffb900 186.5px,#ff9000 190.5px,#ff7c00 194.5px,#ff7a00 199.5px,#ffa900 212.5px,#fa0 218.5px,#ff8a00 228.5px,#ff7800 235.5px,#ff7b00 241.5px,#fa0 256.5px,#ffac00 262.5px,#ff9200 271.5px,#ff7a00 279.5px,#ff7c00 285.5px,#ffa200 300.5px,#ffa100 308.5px,#f80 324.5px,#ff8f00 336.5px,#ff9a00 349.5px,#0ff 350.5px,#0ff 352.5px)"></i><i style="left:56px;background:linear-gradient(#0f0 0.5px,#0f0 2.5px,#ff8900 3.5px,#ff8700 15.5px,#ff9200 22.5px,#ffdf00 40.5px,#ffe300 44.5px,#ffd400 48.5px,#ffb200 52.5px,#ff2600 63.5px,#fd1200 65.5px,#ea0100 67.5px,#d80000 70.5px,#d60000 73.5px,#e50000 76.5px,#f80d00 78.5px,#ff1800 79.5px,#ff4d00 83.5px,#ffe400 92.5px,#f9f300 93.5px,#ecff0b 94.5px,#c2ff34 98.5px,#acff4a 102.5px,#abff4c 105.5px,#beff39 109.5px,#e7ff10 113.5px,#f4f903 114.5px,#ffe900 115.5px,#ff1b00 126.5px,#f50b00 127.5px,#e20000 128.5px,#b40000 131.5px,#9a0000 134.5px,#980000 136.5px,#b70000 139.5px,#ec0300 142.5px,#ff1500 143.5px,#ff6b00 147.5px,#ffec00 152.5px,#e8ff0e 153.5px,#a8ff4f 156.5px,#70ff87 159.5px,#5aff9d 161.5px,#57ffa0 162.5px,#1e00ff 163.5px,#1e00ff 165.5px,#0014ff 166.5px,#0000f4 167.5px,#0000a8 168.5px,#000080 169.5px,#000080 170.5px,#0000a8 171.5px,#0009ff 172.5px,#008cff 173.5px,#1e00ff 174.5px,#1e00ff 177.5px,#8bff6c 178.5px,#c2ff34 180.5px,#edff0a 182.5px,#feed00 183.5px,#ffbc00 186.5px,#ff8e00 190.5px,#ff7300 194.5px,#ff6a00 198.5px,#ff7500 203.5px,#ffa500 213.5px,#ffac00 219.5px,#ff9c00 226.5px,#ff7a00 236.5px,#ff7800 242.5px,#ff8f00 250.5px,#ffab00 259.5px,#ffab00 265.5px,#ff8d00 275.5px,#ff7a00 282.5px,#ff7f00 289.5px,#ffa100 303.5px,#ff9f00 311.5px,#ff8900 327.5px,#ff9100 340.5px,#f90 349.5px,#0ff 350.5px,#0ff 352.5px)"></i><i style="left:57px;background:linear-gradient(#0f0 0.5px,#0f0 2.5px,#ff8900 3.5px,#ff8b00 14.5px,#ff9d00 22.5px,#ffd000 36.5px,#ffd500 41.5px,#ffc700 45.5px,#ffa700 49.5px,#ff5e00 55.5px,#ff2100 60.5px,#fa0f00 62.5px,#e90100 64.5px,#dc0000 67.5px,#de0000 70.5px,#e90100 72.5px,#fb1000 74.5px,#ff3d00 78.5px,#ff9d00 84.5px,#fcef00 89.5px,#effe07 90.5px,#c5ff31 94.5px,#afff48 98.5px,#adff4a 101.5px,#bfff38 105.5px,#e6ff10 109.5px,#f3fa04 110.5px,#ffea00 111.5px,#ff5600 119.5px,#fb1000 123.5px,#e80100 124.5px,#ba0000 127.5px,#9d0000 130.5px,#970000 133.5px,#9f0000 135.5px,#b00 137.5px,#e40000 139.5px,#fb1000 140.5px,#ff6a00 144.5px,#ffec00 149.5px,#e8ff0f 150.5px,#7eff78 155.5px,#57ff9f 158.5px,#4effa9 160.5px,#51ffa6 162.5px,#1e00ff 163.5px,#1e00ff 165.5px,#0015ff 166.5px,#0000fb 167.5px,#0000ba 168.5px,#000085 169.5px,#000085 170.5px,#0000ba 171.5px,#0000fb 172.5px,#0015ff 173.5px,#1e00ff 174.5px,#1e00ff 177.5px,#89ff6e 178.5px,#c0ff37 180.5px,#e9ff0e 182.5px,#faf100 183.5px,#ffd000 185.5px,#ff9000 190.5px,#ff7000 194.5px,#ff6100 198.5px,#ff6400 202.5px,#ff8600 209.5px,#ffa700 216.5px,#ffad00 222.5px,#ff9700 230.5px,#ff7a00 239.5px,#ff7900 245.5px,#ff9400 254.5px,#ffab00 262.5px,#ffab00 268.5px,#ff7c00 284.5px,#ff7f00 291.5px,#ffa000 305.5px,#ff9e00 314.5px,#ff8900 330.5px,#ff9300 344.5px,#ff9800 349.5px,#0ff 350.5px,#0ff 352.5px)"></i><i style="left:58px;background:linear-gradient(#0f0 0.5px,#0f0 2.5px,#ff8a00 3.5px,#ff9100 14.5px,#ffaf00 24.5px,#ffc600 32.5px,#ffc800 38.5px,#fb0 42.5px,#ff9300 47.5px,#ff1e00 57.5px,#ff1500 58.5px,#ea0200 61.5px,#e10000 64.5px,#e80000 67.5px,#ff1300 70.5px,#ff3e00 74.5px,#ff9a00 80.5px,#ffec00 85.5px,#f3fa04 86.5px,#dcff1b 88.5px,#baff3d 92.5px,#aeff49 96.5px,#b9ff3e 100.5px,#dbff1c 104.5px,#f3fa04 106.5px,#ffeb00 107.5px,#ff6e00 114.5px,#ff1500 119.5px,#ef0600 120.5px,#ce0000 122.5px,#a00 125.5px,#9a0000 128.5px,#9f0000 131.5px,#bc0000 134.5px,#de0000 136.5px,#f60c00 137.5px,#f20 138.5px,#ff9d00 143.5px,#ffec00 146.5px,#e8ff0f 147.5px,#81ff76 152.5px,#51ffa6 155.5px,#3fffb7 157.5px,#40ffb7 159.5px,#50ffa6 162.5px,#1e00ff 163.5px,#1e00ff 165.5px,#02f 166.5px,#00f 168.5px,#0000e9 169.5px,#0000e9 170.5px,#00f 171.5px,#02f 173.5px,#1e00ff 174.5px,#1e00ff 177.5px,#88ff6f 178.5px,#beff39 180.5px,#e6ff11 182.5px,#f6f601 183.5px,#ffe500 184.5px,#ffa300 189.5px,#ff7500 194.5px,#ff6200 198.5px,#ff6000 202.5px,#f70 208.5px,#ffa400 217.5px,#ffae00 223.5px,#ffa000 230.5px,#ff7b00 241.5px,#ff7800 247.5px,#ff8e00 255.5px,#fa0 264.5px,#ffac00 270.5px,#ff9100 279.5px,#ff7c00 287.5px,#ff8000 294.5px,#ff9f00 308.5px,#ff9d00 317.5px,#ff8900 333.5px,#ff9500 349.5px,#0ff 350.5px,#0ff 352.5px)"></i><i style="left:59px;background:linear-gradient(#0f0 0.5px,#0f0 2.5px,#ff8c00 3.5px,#ff9a00 15.5px,#ffbf00 29.5px,#fb0 36.5px,#ffa400 41.5px,#ff7800 46.5px,#ff1700 55.5px,#ed0400 58.5px,#e80000 61.5px,#f30900 64.5px,#ff1500 66.5px,#ff3e00 70.5px,#ff9700 76.5px,#ffe800 81.5px,#f6f701 82.5px,#eaff0d 83.5px,#c3ff33 87.5px,#b1ff46 91.5px,#b5ff42 95.5px,#d0ff27 99.5px,#f1fc05 102.5px,#feed00 103.5px,#ff5f00 111.5px,#ff1a00 115.5px,#f50b00 116.5px,#e40000 117.5px,#ba0000 120.5px,#a20000 123.5px,#9f0000 126.5px,#b10000 129.5px,#d80000 132.5px,#ea0200 133.5px,#fd1100 134.5px,#ff3700 136.5px,#ffec00 143.5px,#e8ff0e 144.5px,#96ff61 148.5px,#57ffa0 152.5px,#38ffbf 155.5px,#33ffc3 157.5px,#54ffa3 162.5px,#1e00ff 163.5px,#1e00ff 177.5px,#88ff6f 178.5px,#bcff3a 180.5px,#f2fb04 183.5px,#ffeb00 184.5px,#ffaf00 189.5px,#ff7c00 195.5px,#f60 200.5px,#ff6800 205.5px,#ff8a00 213.5px,#ffa900 221.5px,#ffad00 227.5px,#ff9800 235.5px,#ff7a00 244.5px,#ff7900 250.5px,#ff9300 259.5px,#ffab00 267.5px,#ffab00 273.5px,#ff7e00 289.5px,#ff8000 296.5px,#ff9f00 311.5px,#ff9a00 321.5px,#ff8900 336.5px,#ff9300 349.5px,#0ff 350.5px,#0ff 352.5px)"></i><i style="left:60px;background:linear-gradient(#0f0 0.5px,#0f0 2.5px,#ff8f00 3.5px,#ffa500 17.5px,#ffb900 26.5px,#ffb400 32.5px,#ff9c00 38.5px,#ff6a00 44.5px,#ff1e00 52.5px,#fc1000 54.5px,#ee0500 57.5px,#f70d00 60.5px,#ff1800 62.5px,#ff3f00 66.5px,#ff9400 72.5px,#ffe300 77.5px,#faf200 78.5px,#eeff09 79.5px,#c6ff30 83.5px,#b3ff44 87.5px,#b6ff41 91.5px,#d0ff27 95.5px,#f0fd07 98.5px,#fdee00 99.5px,#ff6300 107.5px,#fc1000 112.5px,#ea0200 113.5px,#c00000 116.5px,#a80000 119.5px,#a30000 122.5px,#b30000 125.5px,#d80000 128.5px,#e80000 129.5px,#fb0f00 130.5px,#f40 133.5px,#ff8300 136.5px,#ffec00 140.5px,#e9ff0d 141.5px,#99ff5e 145.5px,#6aff8d 148.5px,#4affad 151.5px,#39ffbd 154.5px,#39ffbd 156.5px,#59ff9e 160.5px,#5cff9b 162.5px,#1e00ff 163.5px,#1e00ff 177.5px,#89ff6e 178.5px,#bcff3a 180.5px,#f0fe07 183.5px,#fcef00 184.5px,#fb0 189.5px,#ff8700 196.5px,#ff7200 201.5px,#ff6e00 206.5px,#ff8200 213.5px,#ffa800 223.5px,#ffae00 229.5px,#ff9e00 236.5px,#ff7a00 247.5px,#ff7900 253.5px,#ff9400 262.5px,#ffab00 270.5px,#fa0 276.5px,#ff8000 291.5px,#ff8000 298.5px,#ff9e00 314.5px,#ff9700 326.5px,#ff8a00 340.5px,#ff9000 349.5px,#0ff 350.5px,#0ff 352.5px)"></i><i style="left:61px;background:linear-gradient(#0f0 0.5px,#0f0 2.5px,#ffea00 3.5px,#ffea00 162.5px,#1e00ff 163.5px,#1e00ff 177.5px,#ffea00 178.5px,#ffea00 349.5px,#0ff 350.5px,#0ff 352.5px)"></i><i style="left:62px;background:linear-gradient(#0f0 0.5px,#0f0 2.5px,#ffea00 3.5px,#ffea00 173.5px,#1e00ff 174.5px,#1e00ff 177.5px,#ffea00 178.5px,#ffea00 349.5px,#0ff 350.5px,#0ff 352.5px)"></i></div>
<svg width="797" height="451" viewBox="0 0 797 451">


<defs><linearGradient id="cb" x1="0" y1="0" x2="0" y2="1"><stop offset="0.0000" stop-color="#800000"/><stop offset="0.0900" stop-color="#e80000"/><stop offset="0.1100" stop-color="#ff1300"/><stop offset="0.3400" stop-color="#ffec00"/><stop offset="0.3500" stop-color="#f7f600"/><stop offset="0.3600" stop-color="#efff08"/><stop offset="0.6250" stop-color="#15ffe2"/><stop offset="0.6500" stop-color="#00e5f7"/><stop offset="0.6600" stop-color="#00dbff"/><stop offset="0.8750" stop-color="#00f"/><stop offset="0.8900" stop-color="#00f"/><stop offset="1.0000" stop-color="#000080"/></linearGradient></defs><rect x="67.5" y="100.5" width="12" height="250" fill="url(#cb)"/>
<path d="M35.64 400.50H40.50M35.64 356.50H40.50M35.64 312.50H40.50M35.64 269.50H40.50M35.64 225.50H40.50M35.64 181.50H40.50M35.64 137.50H40.50M35.64 94.50H40.50M35.64 50.50H40.50M469.64 400.50H474.50M469.64 356.50H474.50M469.64 312.50H474.50M469.64 269.50H474.50M469.64 225.50H474.50M469.64 181.50H474.50M469.64 137.50H474.50M469.64 94.50H474.50M469.64 50.50H474.50M41.50 417.50V422.36M52.50 417.50V422.36M485.40 417.50V422.36M572.90 417.50V422.36M660.40 417.50V422.36M79.50 120.50H84.36M79.50 159.50H84.36M79.50 197.50H84.36M79.50 235.50H84.36M79.50 274.50H84.36M79.50 312.50H84.36" stroke="#000" stroke-width="1.11" fill="none"/>
<rect x="40.50" y="32.50" width="23.00" height="385.00" fill="none" stroke="#000" stroke-width="1.11" stroke-linejoin="miter"/>
<rect x="474.50" y="32.50" width="227.00" height="385.00" fill="none" stroke="#000" stroke-width="1.11" stroke-linejoin="miter"/>
<rect x="67.50" y="100.50" width="12.00" height="250.00" fill="none" stroke="#000" stroke-width="1.11" stroke-linejoin="miter"/>
<g font-family="Liberation Sans, sans-serif" fill="#000">
<text x="10.77 20.44" y="405.00" font-size="14.7" transform="scale(1.0807,1)">−4</text>
<text x="10.77 20.44" y="362.00" font-size="14.7" transform="scale(1.0807,1)">−3</text>
<text x="10.77 20.44" y="318.00" font-size="14.7" transform="scale(1.0807,1)">−2</text>
<text x="10.77 20.44" y="274.00" font-size="14.7" transform="scale(1.0807,1)">−1</text>
<text x="20.44" y="230.00" font-size="14.7" transform="scale(1.0807,1)">0</text>
<text x="20.44" y="186.00" font-size="14.7" transform="scale(1.0807,1)">1</text>
<text x="20.44" y="143.00" font-size="14.7" transform="scale(1.0807,1)">2</text>
<text x="20.44" y="99.00" font-size="14.7" transform="scale(1.0807,1)">3</text>
<text x="20.44" y="55.00" font-size="14.7" transform="scale(1.0807,1)">4</text>
<text x="412.35 422.02" y="405.00" font-size="14.7" transform="scale(1.0807,1)">−4</text>
<text x="412.35 422.02" y="362.00" font-size="14.7" transform="scale(1.0807,1)">−3</text>
<text x="412.35 422.02" y="318.00" font-size="14.7" transform="scale(1.0807,1)">−2</text>
<text x="412.35 422.02" y="274.00" font-size="14.7" transform="scale(1.0807,1)">−1</text>
<text x="422.02" y="230.00" font-size="14.7" transform="scale(1.0807,1)">0</text>
<text x="422.02" y="186.00" font-size="14.7" transform="scale(1.0807,1)">1</text>
<text x="422.02" y="143.00" font-size="14.7" transform="scale(1.0807,1)">2</text>
<text x="422.02" y="99.00" font-size="14.7" transform="scale(1.0807,1)">3</text>
<text x="422.02" y="55.00" font-size="14.7" transform="scale(1.0807,1)">4</text>
<text x="24.09 32.27 36.35 44.53" y="437.60" font-size="14.7" transform="scale(1.0807,1)">0.00</text>
<text x="34.27 42.45 46.53 54.71" y="437.60" font-size="14.7" transform="scale(1.0807,1)">0.25</text>
<text x="445.05" y="437.60" font-size="14.7" transform="scale(1.0807,1)">0</text>
<text x="526.02" y="437.60" font-size="14.7" transform="scale(1.0807,1)">2</text>
<text x="606.98" y="437.60" font-size="14.7" transform="scale(1.0807,1)">4</text>
<text x="82.46 90.64 94.72 102.90 111.08" y="127.00" font-size="14.7" transform="scale(1.0807,1)">0.002</text>
<text x="82.46 90.64 94.72 102.90 111.08" y="165.00" font-size="14.7" transform="scale(1.0807,1)">0.000</text>
<text x="83.55 93.23 101.41 105.49 113.67 121.85" y="203.00" font-size="14.7" transform="scale(1.0807,1)">−0.002</text>
<text x="83.55 93.23 101.41 105.49 113.67 121.85" y="241.00" font-size="14.7" transform="scale(1.0807,1)">−0.004</text>
<text x="83.55 93.23 101.41 105.49 113.67 121.85" y="280.00" font-size="14.7" transform="scale(1.0807,1)">−0.006</text>
<text x="83.55 93.23 101.41 105.49 113.67 121.85" y="318.00" font-size="14.7" transform="scale(1.0807,1)">−0.008</text>
<text x="365.99 375.78 380.67 390.46 400.25 410.04 419.83 429.62 439.41 449.19 458.98 468.77 478.56 488.35 498.14 507.93 517.72 528.81 540.40 550.19 555.08 564.87 574.66 584.45 594.24 604.03 613.82 623.60 633.39 643.18 652.97 662.76 672.55 682.34 692.13 701.92 711.71 721.68" y="23.60" font-size="17.6" transform="scale(1.0762,1)">4.944933436956491+0.04616317092064012j</text><text x="360.32" y="22.60" font-size="16.02" transform="scale(1.0762,1)">(</text><text x="726.11" y="22.60" font-size="16.02" transform="scale(1.0762,1)">)</text>
</g>
</svg>
</div></body></html>
